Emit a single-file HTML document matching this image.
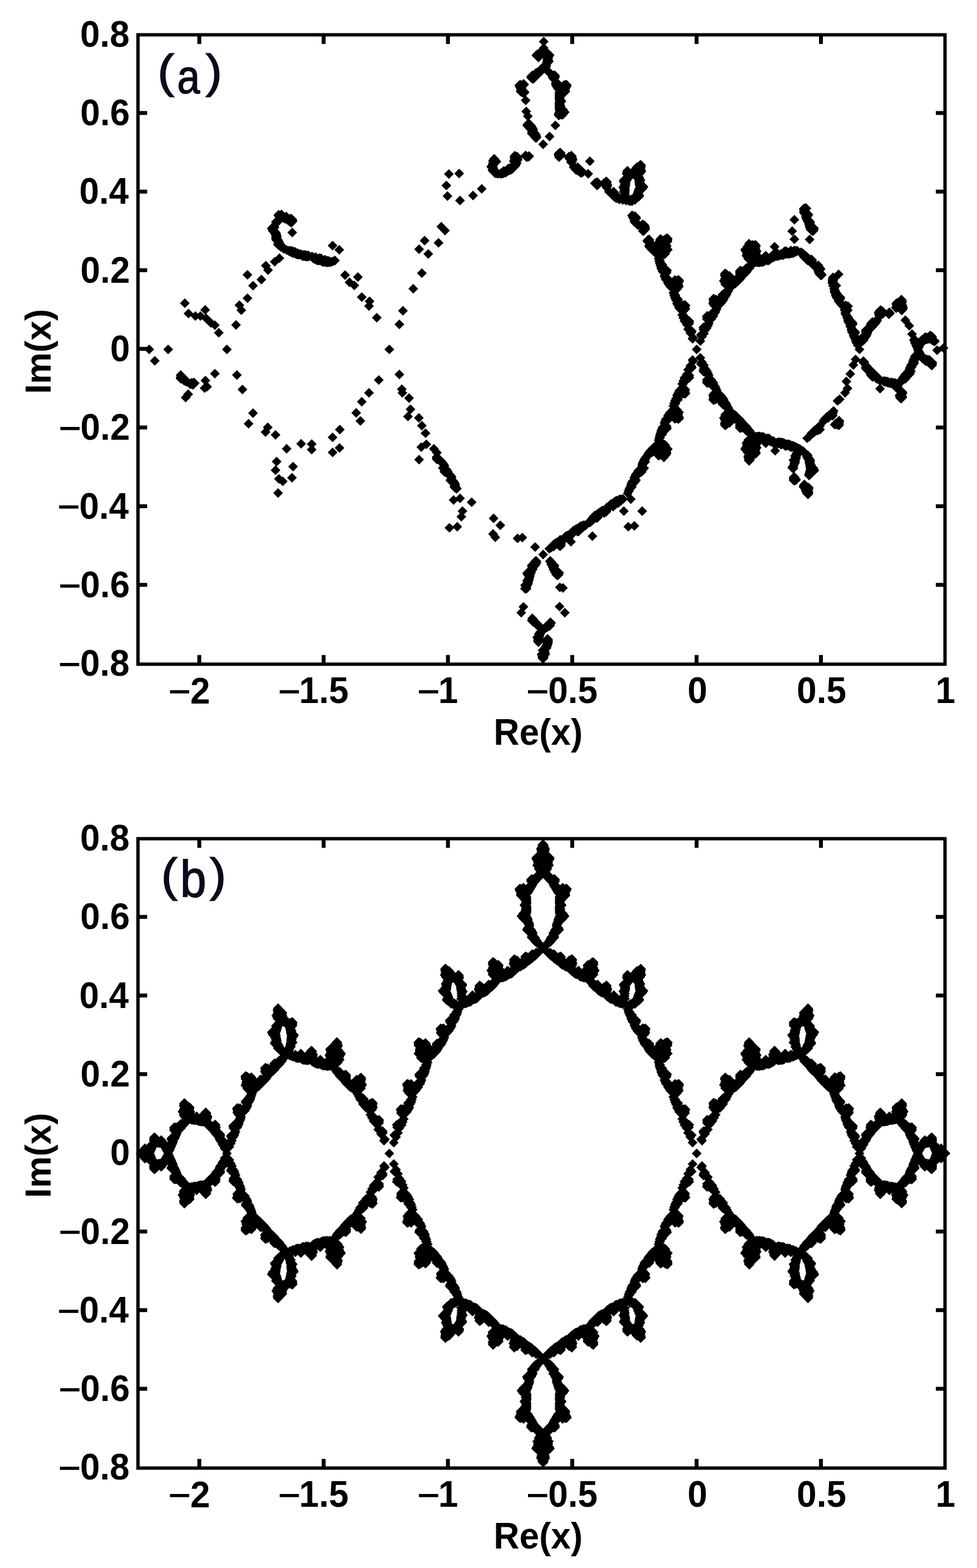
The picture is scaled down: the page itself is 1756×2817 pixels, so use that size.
<!DOCTYPE html>
<html><head><meta charset="utf-8"><style>html,body{margin:0;padding:0;background:#fff;overflow:hidden}svg{display:block}</style></head>
<body><svg width="1756" height="2817" viewBox="0 0 1756 2817">
<style>.t{font-family:"Liberation Sans",Arial,sans-serif;font-weight:bold;font-size:64.0px;fill:#000}.l{font-family:"Liberation Sans",Arial,sans-serif;font-weight:bold;font-size:64.0px;fill:#000}.p{font-family:"Liberation Sans",Arial,sans-serif;font-size:100px;fill:#0a0a1e;stroke:#0a0a1e;stroke-width:2.0px}</style>
<rect width="1756" height="2817" fill="#fff"/>
<path d="M1004.8 216.0L1004.2 216.0L995.5 207.2L996.0 206.8L995.5 206.2L996.0 205.8L995.5 204.8L997.0 202.8L996.5 202.2L998.0 200.8L997.5 200.2L998.5 199.2L997.0 197.8L997.5 197.2L997.0 196.2L997.5 195.8L997.0 195.2L997.5 194.8L997.0 194.2L997.5 193.8L996.5 192.8L997.5 190.8L997.0 189.8L997.5 189.2L997.0 188.8L997.5 188.2L996.5 186.8L997.5 185.2L997.0 184.8L997.5 183.8L997.0 183.2L998.0 182.2L997.5 181.8L998.0 181.2L997.0 180.2L997.5 179.8L997.0 179.2L997.5 178.8L997.0 178.2L997.5 177.8L997.0 177.2L997.5 176.2L997.0 175.8L997.5 175.2L997.0 174.8L997.5 174.2L997.0 173.8L997.5 173.2L997.0 172.2L997.0 170.8L997.5 170.2L997.0 169.2L997.5 168.8L997.0 168.2L997.5 167.8L997.0 167.2L997.5 166.2L997.0 165.8L998.5 163.8L995.5 160.8L995.0 159.2L993.0 157.2L993.5 156.8L991.5 154.8L992.0 154.2L990.5 152.2L991.0 151.8L990.5 150.8L991.0 150.2L990.5 149.8L990.5 148.8L992.0 147.2L986.0 141.2L986.5 140.8L985.0 139.2L985.0 137.2L979.0 131.2L978.8 130.5L960.2 149.0L958.2 150.0L957.8 149.5L957.2 150.0L955.8 149.5L947.0 140.8L946.0 139.2L946.5 138.8L946.5 136.8L955.8 127.5L956.8 127.5L957.2 127.0L958.2 127.5L963.8 122.0L965.2 122.5L974.2 113.5L975.2 114.5L975.5 114.2L974.5 112.8L974.5 111.2L976.0 109.2L975.5 108.8L975.5 105.2L976.5 104.2L976.2 104.0L975.8 104.0L967.8 112.0L956.0 100.2L956.0 98.2L964.8 89.5L965.2 90.0L966.8 88.5L967.2 89.0L969.0 87.2L968.5 86.2L974.0 80.8L974.0 80.2L968.5 74.8L977.2 66.0L986.0 74.8L980.5 80.2L980.5 80.8L986.0 86.2L984.5 87.8L987.2 89.5L996.0 98.2L996.0 100.2L993.0 103.2L994.0 104.8L993.0 105.8L993.5 106.8L993.0 107.8L994.5 109.2L995.0 110.8L990.0 115.8L990.5 116.8L989.5 118.2L990.0 119.8L988.0 121.8L993.8 127.5L994.8 127.0L995.8 127.5L997.2 126.5L1006.0 135.2L1006.0 136.2L1005.5 136.8L1006.0 139.2L1003.5 142.2L1009.2 148.0L1009.8 148.0L1013.2 144.5L1014.8 145.0L1016.2 143.5L1016.8 144.0L1018.8 144.0L1027.5 152.8L1026.5 154.2L1026.5 156.2L1024.0 158.8L1024.5 159.2L1024.5 160.2L1023.0 161.8L1025.0 164.2L1015.8 173.5L1015.2 173.5L1014.0 175.2L1014.5 175.8L1014.0 176.2L1015.0 177.2L1014.5 178.2L1018.0 181.8L1014.5 185.2L1015.0 186.2L1014.0 187.2L1016.0 189.8L1015.0 191.2L1020.5 196.8L1020.5 198.2L1023.5 201.2L1023.5 201.8L1020.0 205.2L1020.0 206.2L1011.2 215.0L1010.2 214.0L1008.8 214.5L1007.2 213.5L1004.8 216.0ZM944.8 189.0L936.0 180.2L941.5 174.8L940.8 174.5L939.8 175.5L937.8 173.5L936.2 173.5L927.5 164.8L927.5 163.2L928.5 162.2L928.0 161.2L928.5 160.8L927.5 159.8L928.0 158.8L925.5 156.2L926.0 155.2L925.0 153.8L925.0 152.8L933.8 144.0L934.8 144.5L935.8 143.5L937.2 145.0L937.8 145.0L940.8 142.0L941.2 142.0L950.0 150.8L950.5 151.8L950.0 152.8L945.5 157.2L945.5 159.2L951.5 165.2L951.0 165.8L951.0 166.8L945.5 172.2L953.5 180.2L944.8 189.0ZM963.8 256.5L963.2 256.0L962.2 256.0L959.5 253.2L953.5 247.2L953.5 246.2L947.5 240.2L947.5 239.2L948.0 238.8L948.0 237.8L947.5 237.2L948.5 235.8L939.0 225.8L940.0 224.8L939.5 224.2L940.0 223.8L940.0 222.8L947.0 215.8L940.0 208.8L942.5 206.2L942.5 205.8L937.0 200.2L945.8 191.5L954.5 200.2L952.0 202.8L952.0 203.2L957.5 208.8L952.0 214.2L963.5 226.2L963.0 226.8L966.0 230.8L965.5 231.2L966.5 232.2L966.0 232.8L967.0 233.8L966.0 235.2L969.5 238.8L970.5 240.8L972.0 242.2L971.0 243.2L973.0 245.2L972.0 246.2L972.5 247.8L963.8 256.5ZM998.2 234.0L989.5 225.2L998.2 216.5L1007.0 225.2L998.2 234.0ZM987.8 254.0L979.0 245.2L987.8 236.5L996.5 245.2L987.8 254.0ZM976.2 268.0L967.5 259.2L976.2 250.5L985.0 259.2L976.2 268.0ZM1057.2 321.0L1050.8 314.5L1046.2 319.0L1045.2 318.0L1043.8 319.0L1036.8 313.5L1035.8 314.5L1025.5 304.2L1025.5 303.2L1022.5 300.2L1024.0 297.8L1017.5 291.2L1019.0 289.2L1014.0 284.2L1015.0 283.2L1014.2 282.5L1013.8 282.5L1004.8 291.0L996.0 282.2L997.0 281.2L997.0 280.8L995.5 279.2L996.0 278.2L995.0 277.2L996.0 276.2L996.0 275.2L1004.8 266.5L1005.8 266.5L1006.8 265.5L1007.2 265.5L1016.5 274.8L1015.5 276.2L1016.8 278.0L1017.2 278.0L1022.8 272.5L1024.2 273.5L1026.8 271.0L1027.2 271.0L1036.0 279.8L1035.5 280.2L1036.5 281.2L1036.0 283.2L1037.0 284.2L1036.5 284.8L1038.0 286.8L1036.0 289.2L1037.0 290.2L1034.5 292.8L1034.5 293.2L1035.8 294.0L1037.8 292.0L1038.2 292.5L1038.8 292.0L1053.8 306.5L1054.2 306.5L1057.2 303.5L1066.0 312.2L1057.2 321.0ZM899.2 321.0L897.2 319.0L896.8 319.0L894.8 321.0L892.8 319.0L891.8 320.0L891.2 319.5L890.2 320.0L888.8 318.5L888.2 318.5L876.5 306.2L878.0 304.2L875.0 300.8L875.0 299.8L874.5 299.2L874.5 298.8L877.5 295.8L877.0 294.2L879.0 291.8L877.5 289.8L877.5 288.8L879.5 286.8L879.0 285.8L887.8 277.0L888.8 277.0L897.5 285.8L897.5 286.8L900.5 289.8L900.5 290.8L895.0 296.2L894.0 298.8L894.0 299.8L894.5 300.2L894.0 300.8L895.0 301.8L895.0 303.2L896.8 305.5L899.2 303.0L899.8 303.5L901.8 301.5L902.2 301.5L905.2 298.5L905.8 298.5L907.2 300.0L914.2 293.5L915.8 295.0L917.5 293.2L917.5 292.8L915.0 290.2L916.0 289.2L915.5 287.8L917.5 285.8L917.5 285.2L916.0 283.8L916.0 282.8L917.0 281.8L916.5 279.8L925.2 271.0L927.8 273.5L929.2 272.5L935.8 279.0L936.2 279.0L944.8 270.5L948.2 274.0L950.8 271.5L959.5 280.2L959.0 280.8L959.5 281.2L950.8 290.0L949.2 289.0L947.2 291.0L946.2 290.0L944.8 289.5L938.2 283.0L937.8 283.0L937.5 283.8L939.0 285.8L938.0 287.2L938.5 288.2L935.5 291.2L937.5 293.2L934.5 296.2L935.5 297.2L923.2 310.0L922.8 310.0L919.8 313.0L919.2 312.5L917.8 314.0L917.2 313.5L916.2 314.5L915.2 313.5L911.8 317.0L911.2 316.5L908.2 319.0L906.8 318.0L903.8 320.5L902.8 319.5L901.8 320.5L900.8 319.5L899.2 321.0ZM1060.2 298.5L1051.5 289.8L1060.2 281.0L1069.0 289.8L1060.2 298.5ZM1136.2 370.0L1134.2 368.5L1132.8 370.0L1132.2 370.0L1130.8 368.5L1129.8 369.0L1127.8 367.0L1127.2 367.0L1125.2 369.0L1121.8 365.5L1119.2 368.0L1115.8 364.5L1113.2 367.0L1109.2 363.5L1107.8 365.0L1104.8 362.0L1104.2 362.5L1086.0 344.8L1086.0 344.2L1087.5 342.8L1081.0 336.2L1082.0 335.2L1081.5 334.8L1081.8 333.5L1073.2 342.0L1060.5 329.2L1069.8 320.0L1070.2 320.5L1071.8 319.5L1072.2 320.0L1073.8 318.5L1080.2 325.0L1080.8 325.0L1085.8 320.0L1086.2 320.5L1089.8 317.0L1099.0 326.2L1099.0 328.8L1098.5 329.2L1098.5 330.2L1100.5 332.2L1100.5 332.8L1099.0 334.8L1099.5 336.2L1097.5 338.2L1098.8 339.5L1102.8 335.5L1112.0 344.8L1111.5 345.2L1114.8 349.0L1115.5 348.2L1112.5 344.8L1114.5 342.8L1113.5 341.2L1114.5 340.2L1112.5 338.2L1112.5 337.2L1111.5 336.2L1114.5 333.2L1114.0 331.8L1115.5 330.2L1113.0 327.2L1112.5 323.8L1120.5 315.8L1118.0 312.2L1118.0 311.2L1119.0 309.8L1119.0 308.8L1118.5 308.2L1119.0 307.8L1119.0 306.8L1127.8 298.0L1133.2 303.5L1133.8 303.5L1136.0 301.2L1136.0 300.2L1144.8 291.5L1146.2 292.0L1149.8 288.5L1151.8 287.5L1160.5 296.2L1160.5 297.8L1160.0 298.2L1160.5 298.8L1160.5 299.8L1159.0 302.2L1160.0 303.8L1159.5 304.8L1161.5 307.8L1159.0 310.2L1159.0 311.2L1155.0 315.2L1155.0 315.8L1157.0 318.2L1157.0 320.2L1159.5 322.8L1159.0 324.8L1158.0 325.8L1158.5 326.8L1158.0 327.2L1159.5 328.8L1159.0 329.2L1165.0 335.2L1165.0 336.2L1163.0 338.2L1163.0 339.2L1155.5 346.8L1155.0 347.8L1157.0 349.8L1157.5 352.8L1148.8 361.5L1147.8 361.5L1141.8 367.5L1139.2 367.0L1136.2 370.0ZM825.2 320.5L816.5 311.8L825.2 303.0L834.0 311.8L825.2 320.5ZM806.8 321.5L798.0 312.8L806.8 304.0L815.5 312.8L806.8 321.5ZM1131.5 351.8L1133.8 350.0L1134.8 350.5L1137.5 348.2L1138.0 347.2L1137.5 346.8L1139.0 344.8L1138.5 343.8L1140.0 342.2L1139.5 341.2L1140.5 339.8L1140.5 338.8L1142.5 336.2L1142.0 335.8L1142.5 335.2L1141.5 334.2L1142.0 333.8L1141.0 332.8L1141.5 332.2L1141.0 331.8L1141.0 328.8L1140.5 328.2L1140.5 325.2L1141.0 324.8L1139.5 322.8L1139.5 321.8L1137.8 321.0L1136.2 321.5L1135.0 322.8L1135.5 323.2L1134.5 324.2L1134.0 325.8L1132.0 327.8L1133.0 328.8L1132.5 329.2L1133.0 329.8L1132.5 330.2L1133.0 330.8L1132.0 331.8L1132.5 332.2L1132.0 332.8L1132.5 333.2L1132.0 334.2L1132.5 334.8L1131.0 336.8L1131.5 337.2L1131.0 338.2L1132.0 339.2L1131.0 340.2L1132.0 341.2L1131.5 341.8L1132.0 342.8L1131.0 343.8L1131.5 344.8L1130.5 345.8L1132.0 347.2L1130.5 348.8L1132.0 350.2L1130.5 351.8L1131.5 351.8ZM802.2 342.0L793.5 333.2L802.2 324.5L811.0 333.2L802.2 342.0ZM865.8 348.0L857.0 339.2L865.8 330.5L874.5 339.2L865.8 348.0ZM850.2 360.0L841.5 351.2L850.2 342.5L859.0 351.2L850.2 360.0ZM804.2 361.0L795.5 352.2L804.2 343.5L813.0 352.2L804.2 361.0ZM826.8 369.0L818.0 360.2L826.8 351.5L835.5 360.2L826.8 369.0ZM1461.8 423.5L1460.8 423.0L1459.8 423.5L1458.8 423.0L1449.5 413.8L1448.5 412.2L1449.0 411.8L1448.0 410.8L1448.0 409.8L1447.0 407.8L1447.5 407.2L1446.5 406.2L1447.0 405.8L1445.5 402.8L1445.5 400.8L1443.0 397.2L1443.0 396.2L1441.5 394.2L1442.0 393.8L1440.0 390.8L1441.0 389.8L1440.0 388.8L1441.0 387.2L1437.0 383.2L1437.0 381.8L1436.0 380.8L1437.0 379.8L1437.0 377.2L1436.0 374.8L1444.8 366.0L1446.8 366.5L1448.2 365.0L1449.2 365.5L1458.0 374.2L1458.0 374.8L1455.0 377.8L1455.0 378.8L1461.5 385.2L1461.5 385.8L1460.5 386.8L1460.5 387.8L1457.5 390.8L1464.5 398.2L1464.0 399.2L1464.5 400.2L1463.5 401.8L1471.5 409.8L1471.0 410.2L1471.5 411.2L1470.0 413.2L1470.5 413.8L1470.5 414.8L1461.8 423.5ZM591.2 480.0L590.2 479.0L588.2 480.0L587.8 479.5L586.8 480.0L584.8 478.5L583.8 478.5L582.8 479.5L581.2 478.5L580.8 479.0L579.2 478.0L578.8 478.5L575.2 475.5L573.8 476.5L573.2 476.0L571.8 476.5L570.2 475.5L569.8 476.0L567.8 475.0L566.2 473.5L565.8 474.0L564.2 473.0L563.8 473.5L557.2 467.5L555.8 469.0L555.2 468.5L554.8 469.0L554.2 468.5L553.2 469.5L552.8 469.0L551.8 469.0L551.2 469.5L550.8 469.0L550.2 469.5L549.8 469.0L549.2 469.5L547.8 468.0L546.8 469.0L546.2 468.5L545.2 469.0L543.8 467.5L543.2 468.0L541.2 467.0L539.2 465.0L537.8 466.0L537.2 465.5L536.8 466.0L536.2 465.5L535.8 466.0L534.2 465.0L533.2 465.5L531.2 464.5L529.2 462.5L528.2 463.5L526.8 462.5L525.8 463.0L523.2 461.0L522.8 461.5L521.2 460.0L520.8 460.5L519.2 459.0L518.8 459.5L516.2 457.0L515.2 458.0L511.8 454.5L510.2 456.0L506.2 452.0L504.8 452.5L500.8 448.5L499.8 448.5L491.0 439.8L491.5 437.8L493.0 436.2L487.5 430.8L488.5 429.8L488.5 429.2L487.0 427.8L488.0 426.2L488.0 424.8L487.5 424.2L487.5 423.2L488.0 422.8L486.0 420.8L486.5 419.8L481.5 414.8L482.0 414.2L482.0 413.2L480.5 411.2L480.0 409.8L488.5 401.2L487.5 398.2L494.5 391.2L494.5 390.2L492.0 387.8L492.0 386.8L491.5 386.2L500.8 377.0L502.8 379.0L503.2 379.0L505.8 376.5L512.2 382.5L514.2 380.5L514.8 380.5L520.2 386.0L522.2 384.0L523.8 385.0L524.2 384.5L534.0 394.2L533.5 394.8L534.0 395.8L533.5 396.8L534.5 397.8L524.2 408.5L523.2 408.5L521.2 406.5L520.8 407.0L517.8 404.0L517.2 404.0L515.8 402.5L515.2 403.0L513.2 401.0L512.8 401.5L512.2 401.0L511.2 401.0L507.8 399.0L507.2 399.0L500.5 406.2L502.0 408.8L499.0 411.8L504.5 418.2L504.0 418.8L504.5 419.2L504.5 420.8L505.5 421.8L505.0 422.2L506.0 424.2L505.5 424.8L506.0 425.2L505.5 425.8L506.0 426.2L505.0 427.2L507.5 430.2L510.0 435.2L509.5 435.8L512.0 438.2L512.0 438.8L514.2 441.0L515.2 440.5L517.8 443.0L518.8 442.0L519.8 443.0L521.2 441.5L523.2 443.5L525.2 442.0L527.8 444.5L529.2 443.5L530.8 445.0L531.2 444.5L533.8 447.0L534.8 446.0L538.2 449.0L539.8 447.5L541.8 449.5L542.2 449.0L543.2 450.0L544.2 449.0L545.8 450.5L546.2 450.5L547.8 449.0L550.8 451.5L552.2 450.0L553.2 451.0L554.2 450.5L555.8 451.5L558.2 454.0L559.8 452.5L560.2 453.0L561.2 452.5L562.2 453.5L563.2 453.5L565.2 455.5L567.2 453.5L567.8 453.5L571.2 457.0L571.8 457.0L573.8 455.0L574.2 455.0L575.8 456.5L577.2 455.5L581.8 460.0L583.8 458.0L584.2 458.5L585.2 458.5L587.8 461.0L589.2 459.5L591.2 461.5L592.2 460.5L594.2 462.5L594.8 462.0L595.8 463.0L597.8 461.0L598.8 462.0L601.8 459.0L610.5 467.8L610.5 468.2L601.8 477.0L600.2 476.0L597.8 478.5L596.8 477.5L594.8 479.5L593.8 478.5L592.8 479.5L592.2 479.0L591.2 480.0ZM1155.8 424.0L1147.0 415.2L1147.0 414.2L1149.0 412.2L1147.8 411.5L1146.2 413.0L1133.0 400.2L1133.5 399.8L1131.5 397.8L1133.0 395.8L1130.5 393.2L1131.0 392.8L1128.5 390.2L1129.5 389.2L1127.5 387.2L1127.5 386.8L1136.2 378.0L1139.2 381.0L1141.2 379.5L1151.5 389.8L1151.0 390.2L1152.0 392.8L1149.0 395.8L1149.0 396.2L1150.8 398.0L1151.2 398.0L1154.8 394.5L1155.2 394.5L1157.2 396.5L1158.2 396.0L1167.0 404.8L1166.5 405.2L1167.5 406.2L1167.0 406.8L1168.0 408.8L1167.5 409.2L1167.5 410.2L1168.5 411.8L1157.8 423.0L1156.8 423.0L1155.8 424.0ZM1427.8 403.5L1419.0 394.8L1427.8 386.0L1436.5 394.8L1427.8 403.5ZM799.8 423.0L784.5 407.2L793.2 398.5L808.5 414.2L799.8 423.0ZM1423.8 424.0L1415.0 415.2L1423.8 406.5L1432.5 415.2L1423.8 424.0ZM525.2 426.5L516.5 417.8L525.2 409.0L534.0 417.8L525.2 426.5ZM1244.8 617.5L1236.0 608.8L1237.5 607.2L1237.0 606.8L1238.5 604.8L1232.0 598.2L1233.5 596.8L1228.0 591.2L1231.0 588.2L1225.5 582.8L1226.5 581.8L1221.5 576.8L1223.0 575.2L1223.0 574.8L1219.5 571.2L1221.0 569.8L1217.5 565.8L1220.5 562.8L1220.5 562.2L1212.0 553.2L1213.0 551.8L1210.0 548.8L1210.5 547.8L1208.0 545.2L1210.0 543.2L1206.5 539.8L1207.5 538.8L1204.5 535.8L1206.0 534.2L1203.0 531.2L1204.5 529.2L1201.5 526.2L1204.5 523.2L1196.0 514.8L1196.5 514.2L1194.0 511.8L1194.5 511.2L1192.0 508.8L1193.0 507.2L1188.0 502.2L1189.0 501.2L1187.0 499.2L1187.5 498.8L1187.5 497.8L1185.5 495.8L1187.5 493.8L1187.5 493.2L1182.0 487.2L1183.0 486.2L1181.0 484.2L1181.5 483.2L1179.5 481.2L1181.0 479.8L1178.5 477.2L1179.5 475.8L1177.0 473.2L1178.5 471.8L1176.0 469.2L1177.5 467.8L1177.5 467.2L1175.0 464.8L1177.0 462.8L1177.0 462.2L1163.5 449.2L1163.5 448.8L1159.5 444.8L1159.5 443.8L1158.0 442.2L1158.5 441.8L1158.0 441.2L1160.0 439.2L1160.0 438.8L1155.0 433.8L1155.5 433.2L1155.0 432.2L1155.5 431.2L1164.8 422.0L1165.8 422.5L1166.8 421.5L1175.5 430.2L1175.5 431.8L1175.0 432.2L1175.5 432.8L1175.0 433.2L1176.0 434.2L1174.0 436.2L1174.2 436.5L1178.0 432.8L1178.5 429.2L1187.2 420.5L1190.8 424.0L1191.8 423.5L1192.8 424.0L1196.2 420.5L1197.2 421.0L1198.8 419.5L1199.8 419.5L1208.5 428.2L1208.5 429.8L1207.5 430.8L1208.0 431.2L1207.5 432.8L1208.5 433.8L1204.0 438.2L1206.5 440.8L1206.5 442.2L1205.5 444.8L1209.0 448.8L1203.5 454.2L1204.0 454.8L1203.5 455.2L1204.0 456.2L1195.2 465.0L1194.2 465.0L1193.8 464.5L1192.5 466.2L1195.0 468.8L1194.0 470.2L1199.0 475.2L1198.0 476.8L1198.8 477.0L1207.5 485.8L1206.0 487.8L1206.5 488.2L1206.0 488.8L1206.5 490.2L1202.5 494.2L1207.8 499.5L1212.8 494.5L1213.2 494.5L1215.2 496.5L1215.8 496.0L1216.2 496.5L1218.2 494.5L1218.8 495.0L1220.2 494.5L1229.0 503.2L1229.0 504.2L1228.5 504.8L1228.5 505.8L1229.0 506.2L1226.5 508.8L1227.5 510.2L1227.0 511.2L1227.5 512.2L1227.0 512.8L1229.0 514.8L1225.0 518.8L1225.5 519.2L1219.5 525.2L1220.0 526.2L1219.5 527.2L1222.5 530.2L1221.5 531.8L1227.0 537.2L1226.0 539.2L1226.5 539.8L1224.0 542.2L1224.2 542.5L1227.2 539.5L1228.2 540.5L1229.2 540.5L1230.2 539.5L1230.8 540.0L1231.8 539.5L1240.5 548.2L1240.0 550.2L1238.5 551.8L1239.5 552.8L1239.0 553.8L1240.0 554.8L1240.0 555.8L1233.5 562.8L1236.0 565.2L1235.5 565.8L1237.8 568.0L1238.8 568.0L1247.5 576.8L1247.0 577.2L1247.5 577.8L1246.0 579.8L1247.5 581.2L1242.5 586.2L1242.8 586.5L1243.2 586.0L1252.0 594.8L1251.0 596.2L1251.5 597.2L1248.5 600.2L1248.5 600.8L1254.5 606.8L1253.0 608.2L1253.5 608.8L1244.8 617.5ZM1427.8 438.5L1419.0 429.8L1427.8 421.0L1436.5 429.8L1427.8 438.5ZM1455.2 439.0L1446.5 430.2L1455.2 421.5L1464.0 430.2L1455.2 439.0ZM763.2 441.0L754.5 432.2L763.2 423.5L772.0 432.2L763.2 441.0ZM788.2 445.0L779.5 436.2L788.2 427.5L797.0 436.2L788.2 445.0ZM1258.8 621.5L1250.0 612.8L1255.5 607.2L1253.0 604.8L1253.5 604.2L1251.0 601.8L1258.0 594.8L1258.0 594.2L1255.5 591.8L1257.0 590.2L1255.5 588.2L1264.2 579.5L1265.8 580.0L1267.0 578.8L1262.0 573.2L1263.0 572.2L1262.5 571.2L1263.0 570.2L1262.0 569.2L1262.5 568.8L1262.0 567.8L1270.8 559.0L1271.8 559.0L1272.8 560.0L1273.8 560.0L1280.0 553.8L1275.0 548.8L1275.0 547.8L1273.0 545.2L1274.5 543.2L1274.0 542.2L1275.0 540.8L1273.5 539.2L1274.0 538.8L1273.5 536.8L1282.2 528.0L1283.8 528.5L1285.8 530.5L1287.2 529.5L1289.8 532.0L1290.2 532.0L1290.5 530.8L1290.0 530.2L1290.0 529.2L1298.8 520.5L1299.8 520.5L1302.0 518.2L1302.0 517.8L1295.0 510.8L1295.0 509.8L1296.0 508.8L1293.0 505.8L1292.5 504.2L1295.0 501.8L1294.5 500.2L1296.0 498.8L1296.0 497.8L1294.0 495.2L1295.0 493.2L1294.5 492.8L1294.5 491.2L1303.2 482.5L1304.8 484.0L1305.8 484.0L1309.8 488.0L1311.2 487.0L1319.8 495.5L1320.2 495.5L1322.0 493.8L1322.0 492.2L1321.0 491.2L1322.0 490.2L1321.5 489.8L1322.0 489.2L1321.5 488.2L1321.5 486.2L1330.2 477.5L1330.8 477.5L1332.2 479.0L1333.2 478.5L1334.8 479.5L1341.2 473.0L1342.2 473.5L1343.5 472.2L1336.5 465.2L1336.5 464.2L1337.0 463.8L1333.0 459.8L1333.5 459.2L1333.5 458.2L1335.0 456.8L1334.0 454.8L1334.0 453.2L1331.5 450.8L1331.5 449.2L1330.5 448.2L1335.0 443.8L1335.0 442.8L1338.5 439.2L1337.5 437.8L1346.2 429.0L1350.2 433.0L1351.8 431.5L1352.2 432.0L1352.8 431.5L1354.8 433.0L1356.2 432.0L1358.2 431.5L1367.0 440.2L1367.0 441.2L1366.5 441.8L1367.0 443.2L1365.0 445.2L1366.5 447.2L1366.0 448.2L1368.5 450.8L1368.5 451.2L1366.5 453.8L1367.0 454.8L1366.0 455.8L1368.8 458.0L1376.2 450.5L1381.8 456.0L1382.2 456.0L1389.0 449.2L1389.0 448.8L1383.5 443.2L1392.2 434.5L1401.0 443.2L1397.5 446.8L1400.8 450.0L1401.2 450.0L1403.8 447.5L1404.8 448.0L1409.8 443.0L1411.8 443.5L1412.8 442.5L1413.2 442.5L1416.8 446.0L1421.2 441.5L1424.2 444.0L1424.8 444.0L1427.2 441.5L1428.8 443.0L1430.8 441.5L1432.2 443.0L1433.2 442.0L1437.8 446.5L1439.8 444.5L1441.8 446.5L1442.2 446.0L1444.8 448.5L1445.2 448.5L1449.2 452.5L1450.2 452.5L1456.2 458.5L1456.8 458.0L1457.2 458.5L1458.8 457.5L1468.0 466.8L1467.5 467.8L1468.0 470.2L1466.5 471.8L1466.8 472.0L1470.8 468.0L1480.0 477.2L1479.0 478.2L1483.0 482.2L1482.5 482.8L1483.5 483.8L1480.0 487.2L1485.5 492.8L1485.5 494.2L1476.8 503.0L1475.8 503.5L1474.8 503.0L1464.5 492.8L1465.0 492.2L1464.0 491.2L1463.0 489.2L1463.5 488.8L1462.5 487.8L1463.0 486.8L1461.5 484.8L1454.0 477.2L1453.8 476.5L1452.2 477.0L1450.8 475.5L1450.2 475.5L1436.0 461.2L1436.5 460.2L1434.8 458.5L1433.2 459.5L1432.8 459.0L1431.2 460.5L1430.8 460.0L1429.2 461.5L1428.8 461.0L1426.2 463.0L1425.8 462.5L1425.2 463.0L1424.8 462.5L1423.8 463.5L1423.2 463.0L1422.2 463.5L1421.2 463.0L1419.8 464.5L1418.8 464.0L1417.8 464.5L1416.2 464.0L1415.2 465.0L1413.8 463.5L1412.2 465.0L1411.2 464.0L1408.2 467.0L1407.8 467.0L1406.2 465.5L1404.8 467.0L1404.2 466.5L1403.2 467.0L1402.2 466.0L1400.2 468.0L1398.8 467.5L1397.8 468.5L1397.2 468.0L1396.2 469.0L1394.8 467.5L1392.2 470.0L1391.2 470.5L1390.2 470.0L1388.8 471.5L1388.2 471.0L1382.8 476.0L1382.2 475.5L1380.8 476.5L1380.2 476.0L1379.8 476.5L1379.2 476.0L1378.8 476.5L1377.2 475.0L1373.2 478.5L1372.8 478.0L1371.2 479.0L1370.8 478.5L1369.2 479.5L1368.2 478.5L1367.2 478.5L1365.2 480.0L1364.8 479.5L1364.2 480.0L1363.2 479.0L1362.8 479.5L1362.2 479.0L1361.2 480.0L1360.2 479.0L1359.8 479.5L1358.8 478.5L1357.8 479.5L1357.2 479.0L1355.5 480.8L1356.0 481.8L1351.0 486.8L1349.5 489.8L1339.5 499.8L1337.5 502.8L1326.8 513.5L1326.2 513.5L1321.8 518.0L1321.2 517.5L1317.5 520.8L1318.0 521.2L1316.5 522.8L1317.0 523.8L1313.5 527.8L1314.5 528.8L1312.0 531.8L1312.5 532.2L1309.0 535.8L1309.5 536.8L1308.0 538.2L1308.5 538.8L1307.0 540.2L1307.5 540.8L1304.0 544.2L1304.5 544.8L1295.5 553.8L1296.5 555.2L1294.5 557.2L1295.0 558.2L1293.0 560.2L1294.0 561.2L1289.5 566.2L1291.0 567.8L1287.0 571.8L1287.5 572.8L1281.0 579.2L1282.5 581.2L1280.0 583.8L1281.0 585.2L1278.0 588.2L1279.0 589.2L1275.5 592.8L1276.0 593.2L1272.0 597.2L1274.0 599.2L1269.5 603.8L1270.5 604.8L1265.0 610.2L1267.5 612.8L1258.8 621.5ZM597.8 450.0L589.0 441.2L597.8 432.5L606.5 441.2L597.8 450.0ZM753.2 456.5L744.5 447.8L753.2 439.0L762.0 447.8L753.2 456.5ZM609.8 457.5L601.0 448.8L609.8 440.0L618.5 448.8L609.8 457.5ZM769.8 465.0L761.0 456.2L769.8 447.5L778.5 456.2L769.8 465.0ZM493.8 479.0L485.0 470.2L493.8 461.5L494.8 462.5L502.2 455.0L511.0 463.8L502.2 472.5L501.2 471.5L493.8 479.0ZM481.8 494.0L473.0 485.2L475.0 483.2L469.0 477.2L477.8 468.5L486.5 477.2L484.5 479.2L490.5 485.2L481.8 494.0ZM758.2 499.5L749.5 490.8L758.2 482.0L767.0 490.8L758.2 499.5ZM1544.8 636.5L1536.0 627.8L1538.0 625.8L1538.0 625.2L1533.0 620.2L1534.0 619.2L1531.0 616.2L1531.5 615.2L1529.5 613.2L1531.0 611.8L1529.0 609.8L1529.5 609.2L1527.5 607.2L1528.0 606.8L1526.5 605.2L1527.0 604.2L1525.5 602.8L1526.5 601.2L1522.5 596.2L1523.5 594.2L1521.5 592.2L1523.0 590.2L1519.5 586.8L1521.0 585.2L1519.5 583.8L1520.0 582.8L1517.0 579.8L1517.5 578.8L1515.5 576.8L1517.0 574.8L1514.5 572.2L1515.0 571.2L1514.0 569.8L1515.0 568.8L1512.0 565.8L1511.5 564.8L1512.0 563.8L1510.5 562.2L1512.5 560.2L1509.5 557.2L1511.0 555.2L1503.5 547.2L1502.5 545.2L1500.0 542.8L1498.5 540.2L1499.5 539.2L1496.0 535.8L1495.5 534.8L1496.0 534.2L1495.0 533.2L1493.5 530.2L1494.5 529.2L1492.5 526.8L1491.5 524.2L1492.0 523.8L1491.0 522.8L1492.5 520.8L1490.5 518.8L1492.0 516.8L1488.5 513.2L1490.0 511.8L1490.0 511.2L1487.5 508.8L1488.5 507.8L1487.5 506.8L1488.5 505.2L1488.0 504.8L1488.5 504.2L1487.5 503.2L1489.0 500.2L1488.5 498.2L1497.2 489.5L1499.2 491.5L1499.8 491.5L1507.2 484.0L1516.0 492.8L1507.2 501.5L1506.8 501.0L1506.0 501.8L1506.5 502.2L1505.5 503.8L1506.0 504.8L1505.0 505.8L1505.5 506.8L1511.5 512.8L1511.5 513.2L1507.0 517.8L1508.0 518.8L1507.5 519.8L1509.5 521.8L1509.5 522.8L1509.0 523.2L1512.5 526.8L1512.5 527.8L1518.5 533.8L1519.0 534.8L1518.5 535.2L1518.5 537.2L1518.0 538.2L1516.0 540.2L1517.0 541.8L1517.2 542.0L1518.8 540.5L1519.8 540.5L1520.2 540.0L1522.8 542.5L1524.2 541.5L1533.0 550.2L1529.5 553.8L1529.5 554.2L1532.0 556.8L1532.0 557.8L1528.0 561.8L1528.5 562.2L1527.5 563.2L1529.5 565.2L1529.5 566.2L1533.0 569.8L1532.5 571.2L1540.5 579.2L1540.0 579.8L1541.0 580.8L1540.5 581.2L1541.0 581.8L1541.0 582.8L1537.5 586.8L1537.5 587.2L1538.5 588.2L1538.0 588.8L1545.5 596.2L1545.0 597.2L1545.0 598.2L1545.5 598.8L1542.5 601.8L1543.8 603.0L1544.2 603.0L1549.0 598.2L1547.5 596.2L1548.5 594.2L1548.0 593.8L1548.0 592.8L1557.0 583.8L1556.5 583.2L1557.0 582.8L1556.5 581.8L1559.0 579.2L1559.0 578.8L1568.2 569.5L1570.2 571.5L1573.0 568.8L1572.5 567.2L1571.0 565.8L1572.0 564.2L1570.5 561.2L1572.0 559.8L1573.0 557.8L1581.8 549.0L1582.8 549.0L1583.2 548.5L1585.2 550.5L1586.2 550.5L1593.2 557.5L1598.2 552.5L1598.8 552.5L1607.5 561.2L1607.5 562.8L1608.0 563.2L1599.2 572.0L1597.8 573.0L1597.2 573.0L1591.8 567.5L1586.8 572.5L1585.8 572.0L1584.0 573.8L1585.0 575.8L1584.0 576.8L1584.0 577.8L1581.5 580.2L1582.0 580.8L1576.0 587.2L1576.0 587.8L1567.0 596.8L1568.0 597.8L1566.0 599.8L1566.5 601.2L1565.0 602.8L1565.5 603.2L1564.0 604.8L1564.5 605.2L1560.0 610.2L1561.0 611.2L1552.2 620.0L1548.5 622.2L1548.5 622.8L1553.5 627.8L1544.8 636.5ZM444.8 502.5L436.0 493.8L444.8 485.0L453.5 493.8L444.8 502.5ZM620.2 503.0L611.5 494.2L620.2 485.5L629.0 494.2L620.2 503.0ZM643.2 506.5L634.5 497.8L643.2 489.0L652.0 497.8L643.2 506.5ZM469.8 511.0L461.0 502.2L469.8 493.5L478.5 502.2L469.8 511.0ZM636.8 521.5L629.8 514.5L628.2 516.0L619.5 507.2L628.2 498.5L635.2 505.5L636.8 504.0L645.5 512.8L636.8 521.5ZM454.8 522.0L446.0 513.2L454.8 504.5L463.5 513.2L454.8 522.0ZM742.8 527.5L734.0 518.8L742.8 510.0L751.5 518.8L742.8 527.5ZM650.2 542.5L641.5 533.8L650.2 525.0L659.0 533.8L650.2 542.5ZM444.8 544.5L436.0 535.8L444.8 527.0L453.5 535.8L444.8 544.5ZM1620.8 566.5L1613.8 559.5L1610.8 562.5L1601.5 553.2L1601.5 552.8L1603.0 551.2L1603.0 550.2L1604.0 548.8L1602.5 546.8L1603.0 546.2L1602.5 544.8L1611.2 536.0L1612.8 536.5L1620.2 529.5L1629.0 538.2L1629.0 539.2L1629.5 539.8L1629.5 543.8L1628.0 545.8L1630.5 548.2L1630.0 550.2L1631.5 551.8L1631.0 552.8L1631.5 554.2L1630.5 555.2L1630.0 557.2L1620.8 566.5ZM663.2 558.5L654.5 549.8L659.0 545.2L659.0 544.8L655.5 541.2L664.2 532.5L673.0 541.2L668.5 545.8L668.5 546.2L672.0 549.8L663.2 558.5ZM332.2 553.5L323.5 544.8L332.2 536.0L341.0 544.8L332.2 553.5ZM433.8 566.0L425.0 557.2L427.5 554.8L427.5 554.2L421.5 548.2L430.2 539.5L439.0 548.2L436.5 550.8L436.5 551.2L442.5 557.2L433.8 566.0ZM386.2 593.0L380.8 587.5L379.2 589.0L363.2 573.5L360.2 576.5L355.8 572.0L351.2 576.5L342.8 568.0L338.8 572.0L330.0 563.2L338.8 554.5L347.2 563.0L351.2 559.0L355.8 563.5L360.2 559.0L367.8 566.5L368.5 565.2L360.0 556.8L368.8 548.0L377.5 556.8L371.0 563.2L371.0 563.8L384.8 577.0L386.2 575.5L395.0 584.2L386.2 593.0ZM724.2 567.0L715.5 558.2L724.2 549.5L733.0 558.2L724.2 567.0ZM677.2 579.5L668.5 570.8L677.2 562.0L686.0 570.8L677.2 579.5ZM1634.2 594.0L1625.5 585.2L1627.0 583.8L1618.5 575.2L1627.2 566.5L1636.0 575.2L1634.5 576.8L1643.0 585.2L1634.2 594.0ZM717.8 591.5L709.0 582.8L717.8 574.0L726.5 582.8L717.8 591.5ZM424.2 592.5L415.5 583.8L424.2 575.0L433.0 583.8L424.2 592.5ZM393.2 606.5L384.5 597.8L393.2 589.0L402.0 597.8L393.2 606.5ZM1620.2 724.5L1618.2 724.0L1609.5 715.2L1609.5 714.2L1609.0 713.8L1609.5 713.2L1609.5 712.2L1608.0 710.8L1608.0 710.2L1612.0 706.2L1603.2 697.5L1602.2 697.5L1599.8 696.0L1598.8 697.0L1597.8 696.0L1596.8 696.0L1596.2 695.5L1595.2 696.0L1593.8 694.5L1592.8 695.0L1592.2 694.5L1590.8 694.5L1589.8 693.5L1589.2 694.0L1588.8 693.5L1588.2 694.0L1584.8 690.5L1584.0 691.8L1590.5 698.2L1581.8 707.0L1573.0 698.2L1580.5 690.8L1579.2 690.5L1577.2 688.5L1575.2 689.0L1570.2 684.0L1568.2 686.0L1559.0 676.8L1559.0 676.2L1556.5 673.8L1557.0 672.8L1556.5 672.2L1557.0 671.8L1548.0 662.8L1548.0 661.8L1548.5 661.2L1547.5 659.2L1549.0 657.2L1543.0 651.2L1543.5 650.8L1543.2 649.0L1539.5 652.8L1542.5 655.8L1533.8 664.5L1525.0 655.8L1532.0 648.8L1529.0 645.8L1537.8 637.0L1546.2 645.5L1551.8 640.0L1562.0 650.2L1561.0 652.2L1566.5 657.8L1566.5 658.2L1586.2 677.5L1586.8 677.5L1588.2 676.0L1588.8 676.5L1589.8 676.5L1590.2 676.0L1591.2 677.0L1591.8 676.5L1592.8 677.5L1593.8 677.0L1594.8 677.5L1595.2 677.0L1597.2 678.0L1599.2 680.0L1600.2 679.0L1601.2 679.0L1601.8 678.5L1602.8 679.0L1603.2 678.5L1604.2 679.5L1604.8 679.0L1605.8 680.0L1606.8 679.5L1607.8 680.0L1608.2 679.5L1609.2 680.5L1609.8 680.0L1611.8 681.5L1612.2 681.0L1612.8 681.5L1614.0 680.2L1614.0 679.2L1615.0 677.8L1618.0 674.2L1618.5 672.8L1626.5 664.2L1626.5 663.2L1627.0 662.8L1626.5 662.2L1627.5 660.8L1627.0 660.2L1629.5 657.2L1629.0 656.8L1629.5 655.2L1633.0 650.8L1632.5 649.8L1633.5 648.2L1633.0 647.8L1634.5 645.8L1634.0 644.8L1636.5 641.8L1636.0 640.8L1636.5 640.2L1636.0 639.8L1643.0 632.2L1642.0 630.8L1643.0 629.8L1641.0 627.8L1642.0 626.2L1639.5 623.8L1640.0 623.2L1638.5 621.8L1639.0 621.2L1638.0 620.2L1638.5 619.2L1636.5 617.2L1637.0 616.8L1636.0 615.8L1636.5 615.2L1636.0 614.8L1636.5 613.8L1634.0 610.8L1634.0 610.2L1637.0 607.2L1637.0 606.8L1630.5 600.2L1639.2 591.5L1648.0 600.2L1645.5 602.8L1650.8 608.0L1656.8 602.0L1657.2 602.5L1661.8 598.0L1663.8 597.0L1665.8 599.0L1667.2 597.5L1668.2 597.5L1671.8 594.0L1673.8 596.0L1674.8 595.5L1683.5 604.2L1683.5 605.2L1684.0 605.8L1683.0 606.8L1689.0 612.8L1689.0 613.2L1680.2 622.0L1679.2 622.0L1677.2 620.0L1676.8 620.5L1675.8 620.0L1671.8 616.5L1671.2 617.0L1667.8 617.0L1667.2 617.5L1663.8 618.0L1659.5 622.2L1660.5 623.2L1657.5 626.8L1658.5 627.8L1657.5 628.8L1659.5 630.8L1661.5 634.8L1663.8 637.5L1665.2 637.5L1667.8 638.5L1671.2 638.5L1684.5 651.2L1683.5 652.8L1683.5 654.8L1684.0 655.2L1683.5 655.8L1683.5 656.8L1674.8 665.5L1665.2 656.5L1663.8 657.5L1658.2 652.5L1657.8 652.5L1652.2 647.0L1650.0 649.2L1651.5 651.2L1651.5 651.8L1650.0 653.2L1650.5 654.2L1647.0 657.8L1647.0 658.8L1647.5 659.2L1645.0 661.8L1643.5 664.2L1646.0 667.2L1643.0 670.2L1644.0 671.8L1636.0 679.8L1636.0 680.8L1627.2 689.5L1626.8 689.0L1625.2 689.0L1621.0 693.8L1621.5 694.2L1621.0 694.8L1630.0 703.8L1630.5 704.8L1630.0 705.2L1630.5 707.2L1628.0 709.8L1630.5 713.2L1630.0 713.8L1630.0 714.8L1620.2 724.5ZM1684.2 638.0L1675.5 629.2L1684.2 620.5L1687.8 624.0L1688.2 624.0L1695.8 616.5L1704.5 625.2L1695.8 634.0L1692.2 630.5L1691.8 630.5L1684.2 638.0ZM268.2 636.5L259.5 627.8L268.2 619.0L277.0 627.8L268.2 636.5ZM302.2 636.5L293.5 627.8L302.2 619.0L311.0 627.8L302.2 636.5ZM407.8 636.5L399.0 627.8L407.8 619.0L416.5 627.8L407.8 636.5ZM699.8 636.5L691.0 627.8L699.8 619.0L708.5 627.8L699.8 636.5ZM1252.2 636.5L1243.5 627.8L1252.2 619.0L1261.0 627.8L1252.2 636.5ZM1427.8 872.0L1427.2 871.5L1426.8 872.0L1418.0 863.2L1418.0 861.2L1418.5 860.8L1418.0 857.2L1425.0 850.2L1425.0 849.8L1424.2 849.5L1415.0 840.2L1416.0 839.2L1416.5 837.8L1419.5 834.8L1419.0 832.8L1420.0 831.8L1419.5 830.8L1420.0 829.8L1417.5 826.8L1422.0 821.8L1420.5 818.8L1423.5 815.8L1423.0 814.2L1425.0 812.2L1424.5 811.8L1426.0 810.2L1425.8 810.0L1424.8 811.0L1424.2 810.5L1422.8 812.0L1421.8 811.0L1420.8 812.0L1417.8 809.0L1417.2 809.5L1415.8 808.0L1415.2 808.0L1413.2 810.0L1411.8 808.5L1410.8 809.5L1406.8 805.5L1404.8 807.0L1403.2 807.0L1400.8 804.5L1399.8 805.5L1398.8 804.5L1397.8 805.0L1396.8 804.0L1396.5 804.2L1402.0 809.8L1393.2 818.5L1384.5 809.8L1389.5 804.8L1389.5 804.2L1386.2 801.0L1384.8 802.0L1382.2 799.5L1381.8 799.5L1376.2 805.0L1368.8 797.5L1366.0 799.8L1367.0 800.8L1366.5 801.8L1368.5 804.2L1368.5 804.8L1366.0 807.2L1366.5 808.2L1365.0 810.2L1367.0 812.2L1366.5 813.2L1367.0 815.2L1358.2 824.0L1357.2 823.5L1356.0 824.8L1356.0 826.8L1355.5 827.8L1346.8 836.5L1346.2 836.5L1337.5 827.8L1337.5 826.2L1337.0 825.8L1338.0 824.2L1336.0 821.2L1337.0 820.2L1336.5 819.2L1338.5 816.2L1335.0 812.8L1335.0 811.8L1330.5 807.2L1331.5 806.2L1331.5 804.8L1334.0 802.2L1334.0 800.8L1335.0 798.8L1333.5 797.2L1333.5 796.2L1333.0 795.8L1337.0 791.8L1336.5 791.2L1336.5 790.2L1343.5 783.2L1342.2 782.0L1341.2 782.5L1334.8 776.0L1333.2 777.0L1332.2 776.5L1330.2 778.0L1321.5 769.2L1321.5 767.2L1322.0 766.8L1321.5 765.8L1322.0 765.2L1321.0 764.2L1322.0 763.2L1322.0 761.8L1320.2 760.0L1319.8 760.0L1311.2 768.5L1309.8 767.5L1305.8 771.5L1304.8 771.5L1303.2 773.0L1294.5 764.2L1294.5 762.8L1295.0 762.2L1294.0 760.2L1296.0 757.8L1296.0 756.8L1294.5 755.2L1295.0 753.8L1292.5 751.2L1292.5 750.8L1296.0 746.8L1295.0 745.8L1295.0 744.8L1302.0 737.8L1302.0 737.2L1299.8 735.0L1298.8 735.0L1290.0 726.2L1290.0 725.2L1290.5 724.8L1290.2 723.5L1289.8 723.5L1287.2 726.0L1285.8 725.0L1283.8 727.0L1282.2 727.5L1273.5 718.8L1273.5 717.8L1274.0 717.2L1273.5 716.2L1275.0 714.8L1274.0 713.2L1274.5 712.2L1273.0 710.2L1275.0 707.8L1275.0 706.8L1280.0 701.8L1273.8 695.5L1272.8 695.5L1271.8 696.5L1270.8 696.5L1262.0 687.8L1262.5 687.2L1262.0 686.2L1263.0 685.2L1262.5 684.2L1263.0 683.2L1262.0 682.2L1267.0 676.8L1265.8 675.5L1264.2 676.0L1255.5 667.2L1257.0 665.2L1255.5 663.8L1258.0 661.2L1258.0 660.8L1251.0 653.8L1253.5 651.2L1253.0 650.8L1255.5 648.2L1250.0 642.8L1258.8 634.0L1267.5 642.8L1265.0 645.2L1270.5 650.8L1269.5 651.8L1274.0 656.2L1272.0 658.2L1276.0 662.2L1275.5 662.8L1279.0 666.2L1278.0 667.2L1281.0 670.2L1280.0 671.8L1282.5 674.2L1281.0 676.2L1287.5 682.8L1287.0 683.8L1291.0 687.8L1289.5 689.2L1294.0 694.2L1293.0 695.2L1295.0 697.2L1294.5 698.2L1296.5 700.2L1295.5 701.8L1304.5 710.8L1304.0 711.2L1307.5 714.8L1307.0 715.2L1308.5 716.8L1308.0 717.2L1309.5 718.8L1309.0 719.8L1312.5 723.2L1312.0 723.8L1314.5 726.8L1313.5 727.8L1317.0 731.8L1316.5 732.8L1318.0 734.2L1317.5 734.8L1321.2 738.0L1321.8 737.5L1337.5 752.8L1339.5 755.8L1349.5 765.8L1351.0 768.8L1356.0 773.8L1355.5 774.8L1357.2 776.5L1357.8 776.0L1358.8 777.0L1359.8 776.0L1360.2 776.5L1361.2 775.5L1362.2 776.5L1362.8 776.0L1363.2 776.5L1364.2 775.5L1364.8 776.0L1365.2 775.5L1367.2 777.0L1368.2 777.0L1369.2 776.0L1370.8 777.0L1371.2 776.5L1372.8 777.5L1373.2 777.0L1377.2 780.5L1378.8 779.0L1379.2 779.5L1379.8 779.0L1380.2 779.5L1380.8 779.0L1382.2 780.0L1382.8 779.5L1388.2 784.5L1388.8 784.0L1389.2 784.5L1390.2 783.5L1394.8 788.0L1396.2 786.5L1397.2 787.0L1398.8 786.0L1399.2 786.5L1400.2 786.5L1400.8 786.0L1401.2 786.5L1401.8 786.0L1402.2 786.5L1402.8 786.0L1404.2 787.5L1405.2 786.5L1405.8 787.0L1406.8 786.5L1408.2 788.0L1408.8 787.5L1410.8 788.5L1412.8 790.5L1414.2 789.5L1414.8 790.0L1415.2 789.5L1415.8 790.0L1416.2 789.5L1417.8 790.5L1418.8 790.0L1422.8 792.5L1423.8 792.0L1424.8 793.0L1425.2 792.5L1425.8 793.0L1426.2 792.5L1428.8 794.5L1429.2 794.0L1430.8 795.5L1431.2 795.0L1432.8 796.5L1433.2 796.0L1435.8 798.5L1437.2 797.5L1440.8 801.0L1441.2 800.5L1442.8 802.0L1444.8 803.0L1451.2 809.5L1451.8 809.0L1460.5 817.8L1459.0 819.2L1462.0 822.2L1461.5 822.8L1464.0 825.2L1463.5 825.8L1465.0 827.8L1464.0 829.2L1464.0 830.8L1464.5 831.2L1464.5 832.2L1464.0 832.8L1466.0 834.8L1466.0 836.2L1470.5 840.8L1470.5 841.8L1470.0 842.2L1472.0 844.8L1472.0 845.8L1454.2 863.0L1445.5 854.2L1445.5 852.8L1447.0 849.8L1446.5 849.2L1447.5 848.2L1447.0 847.8L1447.5 847.2L1448.0 844.8L1449.0 843.8L1448.5 843.2L1449.0 842.2L1448.0 840.8L1448.5 840.2L1447.5 838.2L1448.0 837.8L1447.5 837.2L1448.0 836.8L1447.5 836.2L1448.0 835.8L1447.0 834.2L1447.0 833.2L1446.5 832.8L1447.0 832.2L1446.0 830.2L1446.5 829.8L1446.0 829.2L1447.0 828.2L1444.5 825.2L1442.0 820.2L1442.5 819.2L1440.8 817.5L1439.0 819.2L1439.5 819.8L1438.5 821.2L1439.5 822.2L1438.5 823.2L1439.0 823.8L1438.0 824.8L1438.5 825.2L1437.0 826.8L1437.5 827.2L1437.0 828.2L1438.0 829.2L1437.0 830.2L1437.5 830.8L1436.5 831.8L1437.0 832.8L1434.0 836.2L1435.0 837.2L1433.5 839.2L1434.5 840.8L1434.5 841.8L1428.0 848.2L1436.5 856.8L1436.5 858.2L1439.0 860.8L1439.0 862.8L1430.2 871.5L1428.8 871.0L1427.8 872.0ZM987.2 994.5L978.5 985.8L996.2 968.5L996.8 969.0L998.8 967.0L999.2 967.5L1001.2 965.5L1001.8 966.0L1006.8 961.0L1008.8 962.5L1017.2 954.5L1018.2 955.0L1019.8 953.5L1020.8 954.0L1030.8 944.5L1031.8 945.0L1034.2 942.5L1035.2 942.5L1036.2 941.5L1036.8 942.0L1043.8 936.5L1045.2 937.5L1048.2 935.0L1049.2 936.0L1050.2 935.0L1051.2 936.0L1052.8 934.5L1053.2 935.0L1054.5 933.8L1054.5 932.8L1058.0 929.2L1057.5 928.8L1067.8 918.5L1069.2 917.5L1070.2 918.0L1075.2 913.5L1075.8 914.0L1078.8 911.0L1079.2 911.5L1081.8 909.0L1082.2 909.5L1083.2 908.5L1084.2 909.5L1091.2 902.5L1091.8 903.0L1097.2 897.5L1098.2 897.5L1099.2 896.5L1100.2 897.0L1104.2 893.0L1104.8 893.5L1107.8 890.5L1109.2 892.0L1113.2 888.5L1114.2 889.5L1115.8 888.5L1117.2 889.5L1119.2 887.5L1126.8 895.0L1127.5 894.2L1119.5 886.2L1122.5 883.2L1121.0 881.8L1123.5 879.2L1122.5 877.8L1125.0 875.2L1124.5 874.2L1127.0 871.8L1125.5 870.2L1127.5 868.2L1127.0 867.2L1128.5 865.8L1128.0 864.8L1133.0 859.8L1131.5 857.8L1133.5 855.8L1133.0 855.2L1134.5 853.8L1134.0 852.8L1139.0 846.8L1138.5 845.8L1146.5 837.8L1145.5 836.2L1147.0 834.2L1146.0 833.2L1147.5 831.8L1147.0 830.2L1149.0 828.2L1148.5 827.8L1150.5 825.8L1149.5 824.8L1153.0 821.2L1152.5 820.8L1157.0 816.2L1156.5 815.2L1159.5 811.8L1159.5 810.8L1163.5 806.8L1163.5 806.2L1177.0 793.2L1177.0 792.8L1175.0 790.8L1177.5 788.2L1177.5 787.8L1176.0 786.2L1178.5 783.8L1177.0 782.2L1179.5 779.8L1178.5 778.2L1181.0 775.8L1179.5 774.2L1181.5 772.2L1181.0 771.2L1183.0 769.2L1182.0 768.2L1187.5 762.2L1187.5 761.8L1185.5 759.8L1187.5 757.8L1187.5 756.8L1187.0 756.2L1189.0 754.2L1188.0 753.2L1193.0 748.2L1192.0 746.8L1194.5 744.2L1194.0 743.8L1196.5 741.2L1196.0 740.8L1204.5 732.2L1201.5 729.2L1204.5 726.2L1203.0 724.2L1206.0 721.2L1204.5 719.8L1207.5 716.8L1206.5 715.8L1210.0 712.2L1208.0 710.2L1210.5 707.8L1210.0 706.8L1213.0 703.8L1212.0 702.2L1220.5 693.2L1220.5 692.8L1217.5 689.8L1221.0 685.8L1219.5 684.2L1223.0 680.8L1221.5 678.8L1226.5 673.8L1225.5 672.8L1231.0 667.2L1228.0 664.2L1233.5 658.8L1232.0 657.2L1238.5 650.8L1237.0 648.8L1237.5 648.2L1236.0 646.8L1244.8 638.0L1253.5 646.8L1253.0 647.2L1254.5 648.8L1248.5 654.8L1248.5 655.2L1251.5 658.2L1251.0 659.2L1252.0 660.8L1243.2 669.5L1242.8 669.0L1242.5 669.2L1247.5 674.2L1246.0 675.8L1247.5 677.8L1247.0 678.2L1247.5 678.8L1238.8 687.5L1237.8 687.5L1235.8 689.5L1235.5 689.8L1236.0 690.2L1233.5 692.8L1240.0 699.8L1240.0 700.8L1239.0 701.8L1239.5 702.8L1238.5 703.8L1240.0 705.2L1240.5 707.2L1231.8 716.0L1230.8 715.5L1230.2 716.0L1229.2 715.0L1228.2 715.0L1227.2 716.0L1224.2 713.0L1224.0 713.2L1226.5 715.8L1226.0 716.2L1227.0 718.2L1221.5 723.8L1222.5 725.2L1219.5 728.2L1220.0 729.2L1219.5 730.2L1225.5 736.2L1225.0 736.8L1229.0 740.8L1227.0 742.8L1227.5 743.2L1227.0 743.8L1227.5 745.2L1226.5 746.8L1229.0 749.2L1228.5 749.8L1229.0 752.2L1220.2 761.0L1219.2 760.5L1218.2 761.0L1216.2 759.0L1215.8 759.5L1215.2 759.0L1213.2 761.0L1212.8 761.0L1207.8 756.0L1202.5 761.2L1206.5 765.2L1206.0 766.2L1206.5 767.2L1206.0 767.8L1207.5 769.8L1198.8 778.5L1198.0 778.8L1199.0 780.2L1194.0 785.2L1195.0 786.8L1192.5 789.2L1193.8 791.0L1194.2 790.5L1195.2 790.5L1204.0 799.2L1203.5 800.2L1204.0 800.8L1203.5 801.2L1209.0 806.8L1205.5 810.8L1206.5 813.2L1206.5 814.8L1205.5 815.8L1205.0 817.8L1201.5 821.2L1202.0 821.8L1193.2 830.5L1187.2 824.5L1185.2 826.5L1184.2 827.0L1183.8 826.5L1183.2 827.0L1174.8 818.5L1171.8 821.5L1170.8 821.0L1168.5 823.2L1169.0 824.2L1166.5 826.8L1167.5 828.2L1168.0 830.2L1162.5 835.8L1163.0 836.2L1162.5 837.2L1166.5 841.2L1161.5 846.2L1161.5 847.2L1162.0 847.8L1153.2 856.5L1152.2 856.0L1149.0 859.2L1149.0 859.8L1151.0 861.8L1151.5 863.2L1149.0 865.8L1149.5 866.2L1143.0 872.8L1144.0 874.2L1143.5 874.8L1144.0 875.2L1138.5 880.8L1139.5 881.8L1136.0 885.2L1137.0 886.2L1134.5 888.8L1142.5 896.8L1133.8 905.5L1126.8 898.5L1116.2 908.5L1115.8 908.0L1111.2 912.5L1109.8 911.5L1101.8 919.0L1098.8 916.0L1098.0 916.8L1098.5 917.8L1098.0 918.8L1098.5 919.2L1089.8 928.0L1088.8 927.5L1085.8 930.5L1083.2 928.0L1082.8 928.0L1082.5 929.2L1083.0 929.8L1074.2 938.5L1073.2 939.0L1072.8 938.5L1072.2 939.0L1070.8 938.0L1066.2 942.5L1065.8 942.5L1060.2 947.5L1058.8 946.5L1052.8 952.5L1052.2 952.0L1046.2 957.5L1045.8 957.5L1039.8 963.5L1039.2 963.0L1038.8 963.5L1038.2 963.0L1037.8 963.5L1035.8 961.5L1035.2 961.5L1029.5 967.8L1035.0 973.2L1026.2 982.0L1018.2 974.0L1017.8 974.0L1016.0 975.8L1017.0 976.8L1016.5 978.2L1015.5 979.2L1016.5 980.8L1007.2 990.0L1005.8 989.0L1004.8 989.0L1000.8 985.0L995.2 990.5L993.8 989.5L990.8 992.5L989.8 992.0L987.2 994.5ZM278.2 657.0L269.5 648.2L278.2 639.5L287.0 648.2L278.2 657.0ZM386.2 680.0L377.5 671.2L386.2 662.5L395.0 671.2L386.2 680.0ZM1528.2 680.5L1519.5 671.8L1528.2 663.0L1537.0 671.8L1528.2 680.5ZM717.8 681.5L709.0 672.8L717.8 664.0L726.5 672.8L717.8 681.5ZM347.2 700.0L346.8 700.0L344.8 698.0L343.2 699.0L341.8 698.0L341.2 698.5L336.2 693.5L334.8 694.5L331.8 692.0L330.8 692.5L326.8 688.5L326.2 689.0L324.8 689.0L316.0 680.2L316.5 679.2L316.0 677.8L317.5 676.2L316.0 673.8L324.8 665.0L339.5 679.8L340.2 681.5L342.2 680.0L342.8 680.5L344.2 679.5L346.8 680.0L348.8 678.5L358.5 688.2L358.5 688.8L347.2 700.0ZM425.8 682.5L417.0 673.8L425.8 665.0L434.5 673.8L425.8 682.5ZM680.8 691.5L672.0 682.8L680.8 674.0L689.5 682.8L680.8 691.5ZM367.8 706.0L359.0 697.2L366.5 689.8L360.5 683.8L369.2 675.0L378.0 683.8L374.0 687.8L381.0 694.8L372.2 703.5L371.2 702.5L367.8 706.0ZM1518.8 714.5L1510.0 705.8L1516.0 699.8L1514.5 697.8L1519.5 692.8L1519.5 692.2L1512.5 685.2L1521.2 676.5L1530.0 685.2L1525.0 690.2L1525.0 690.8L1532.0 697.8L1526.0 703.8L1527.5 705.8L1518.8 714.5ZM723.2 714.5L714.5 705.8L717.0 703.2L717.0 702.8L713.5 699.2L722.2 690.5L731.0 699.2L728.5 701.8L728.5 702.2L732.0 705.8L723.2 714.5ZM435.8 708.5L427.0 699.8L435.8 691.0L444.5 699.8L435.8 708.5ZM663.2 714.5L654.5 705.8L663.2 697.0L672.0 705.8L663.2 714.5ZM333.8 723.0L325.0 714.2L330.0 709.2L329.5 708.2L338.2 699.5L347.0 708.2L342.0 713.2L342.5 714.2L333.8 723.0ZM735.2 724.0L726.5 715.2L735.2 706.5L744.0 715.2L735.2 724.0ZM1505.2 729.0L1496.5 720.2L1505.2 711.5L1505.8 712.0L1509.2 708.5L1518.0 717.2L1509.2 726.0L1508.8 725.5L1505.2 729.0ZM650.2 730.5L641.5 721.8L650.2 713.0L659.0 721.8L650.2 730.5ZM733.2 757.0L724.5 748.2L733.0 739.8L733.0 739.2L729.0 735.2L737.8 726.5L746.5 735.2L738.0 743.8L738.0 744.2L742.0 748.2L733.2 757.0ZM1450.8 796.0L1442.0 787.2L1449.5 779.8L1451.0 777.2L1464.2 764.0L1464.8 764.5L1471.8 757.5L1472.2 758.0L1473.0 757.2L1471.5 755.8L1473.5 753.8L1475.5 750.8L1486.2 740.0L1486.8 740.5L1498.2 729.5L1507.0 738.2L1504.5 740.8L1506.0 742.2L1503.5 744.8L1505.5 746.8L1496.8 755.5L1494.2 754.0L1488.8 759.5L1486.8 759.0L1481.8 764.0L1481.2 763.5L1481.0 763.8L1482.5 765.2L1479.5 768.2L1482.5 771.8L1473.8 780.5L1472.2 779.5L1469.2 782.5L1467.8 781.0L1463.2 785.5L1461.8 786.0L1454.8 793.0L1453.2 793.5L1450.8 796.0ZM640.2 750.5L631.5 741.8L640.2 733.0L649.0 741.8L640.2 750.5ZM454.8 751.0L446.0 742.2L454.8 733.5L463.5 742.2L454.8 751.0ZM752.8 759.5L744.0 750.8L752.8 742.0L761.5 750.8L752.8 759.5ZM1507.8 773.0L1505.2 770.5L1504.2 771.5L1503.2 770.5L1501.8 770.0L1500.2 771.5L1491.5 762.8L1502.2 752.0L1502.8 752.5L1508.2 747.0L1517.0 755.8L1517.0 757.2L1516.5 757.8L1517.0 758.2L1516.0 759.8L1516.5 760.2L1516.0 760.8L1516.5 764.2L1507.8 773.0ZM647.8 765.0L639.0 756.2L647.8 747.5L656.5 756.2L647.8 765.0ZM446.8 770.0L438.0 761.2L446.8 752.5L455.5 761.2L446.8 770.0ZM758.2 773.5L749.5 764.8L758.2 756.0L767.0 764.8L758.2 773.5ZM477.2 785.0L468.5 776.2L474.5 770.2L474.5 769.8L472.5 767.8L481.2 759.0L490.0 767.8L484.0 773.8L484.0 774.2L486.0 776.2L477.2 785.0ZM610.8 780.5L602.0 771.8L610.8 763.0L619.5 771.8L610.8 780.5ZM764.8 787.0L756.0 778.2L764.8 769.5L773.5 778.2L764.8 787.0ZM495.2 790.0L486.5 781.2L495.2 772.5L504.0 781.2L495.2 790.0ZM597.8 794.5L589.0 785.8L597.8 777.0L606.5 785.8L597.8 794.5ZM541.2 806.0L532.5 797.2L541.2 788.5L550.0 797.2L541.2 806.0ZM560.2 816.5L551.5 807.8L556.5 802.8L551.5 797.8L560.2 789.0L569.0 797.8L564.0 802.8L569.0 807.8L560.2 816.5ZM757.2 812.0L748.5 803.2L757.2 794.5L759.2 796.5L766.2 789.5L775.0 798.2L766.2 807.0L764.2 805.0L757.2 812.0ZM610.2 813.5L601.5 804.8L610.2 796.0L619.0 804.8L610.2 813.5ZM515.2 815.0L506.5 806.2L515.2 797.5L524.0 806.2L515.2 815.0ZM820.8 887.0L818.8 885.0L817.8 885.0L809.0 876.2L808.0 874.2L809.5 872.2L800.5 862.8L803.5 859.8L803.5 859.2L800.2 856.0L799.2 856.0L798.8 856.5L790.0 847.8L791.5 845.2L787.5 841.2L787.5 840.2L790.5 837.2L789.5 835.8L786.8 833.0L785.2 834.0L776.5 825.2L776.5 823.8L777.0 823.2L776.5 822.8L777.0 822.2L776.0 821.2L780.0 817.2L780.0 816.8L776.5 813.2L777.0 812.2L771.0 806.2L779.8 797.5L788.5 806.2L788.0 807.2L794.0 813.2L790.5 816.8L790.5 817.2L803.0 829.8L803.0 830.8L805.5 833.2L805.5 834.2L807.5 836.2L806.0 838.2L811.5 843.8L811.0 844.8L813.5 847.2L813.0 848.2L819.5 855.2L819.0 856.2L820.5 857.8L819.0 859.2L819.0 859.8L824.0 864.8L823.5 865.2L825.5 867.2L825.0 868.2L827.0 870.2L825.5 872.2L827.5 874.2L827.0 874.8L830.0 877.8L820.8 887.0ZM597.8 821.5L589.0 812.8L597.8 804.0L606.5 812.8L597.8 821.5ZM753.2 834.5L744.5 825.8L753.2 817.0L762.0 825.8L753.2 834.5ZM495.2 853.5L486.5 844.8L495.0 836.2L495.0 835.8L488.5 829.2L497.2 820.5L506.0 829.2L497.5 837.8L497.5 838.2L504.0 844.8L495.2 853.5ZM526.8 847.0L518.0 838.2L526.8 829.5L535.5 838.2L526.8 847.0ZM524.8 867.0L516.0 858.2L524.8 849.5L533.5 858.2L524.8 867.0ZM508.2 873.5L502.8 868.0L501.2 869.0L492.5 860.2L501.2 851.5L506.8 857.0L508.2 856.0L517.0 864.8L508.2 873.5ZM1452.2 897.0L1443.0 887.8L1441.5 885.8L1441.5 883.8L1439.5 881.8L1440.0 879.8L1435.5 874.8L1437.0 872.2L1436.5 871.8L1436.5 870.8L1445.2 862.0L1446.2 862.0L1452.2 868.0L1453.2 867.0L1462.0 875.8L1462.0 877.2L1461.5 877.8L1462.0 878.8L1460.0 881.2L1462.0 883.8L1461.0 885.8L1461.5 887.2L1461.0 888.2L1452.2 897.0ZM499.8 894.5L491.0 885.8L499.8 877.0L508.5 885.8L499.8 894.5ZM815.2 907.0L806.5 898.2L815.2 889.5L819.2 893.5L819.8 893.5L826.8 886.5L835.5 895.2L826.8 904.0L822.8 900.0L822.2 900.0L815.2 907.0ZM847.8 911.0L839.0 902.2L847.8 893.5L856.5 902.2L847.8 911.0ZM829.2 937.0L820.5 928.2L826.5 922.2L822.5 918.2L831.2 909.5L840.0 918.2L834.0 924.2L838.0 928.2L829.2 937.0ZM1121.2 927.0L1112.5 918.2L1121.2 909.5L1130.0 918.2L1121.2 927.0ZM1154.2 927.0L1145.5 918.2L1154.2 909.5L1163.0 918.2L1154.2 927.0ZM887.2 940.0L878.5 931.2L887.2 922.5L896.0 931.2L887.2 940.0ZM899.2 952.5L890.5 943.8L899.2 935.0L908.0 943.8L899.2 952.5ZM1129.2 955.0L1120.5 946.2L1129.2 937.5L1133.8 942.0L1134.2 942.0L1140.2 936.0L1149.0 944.8L1140.2 953.5L1135.8 949.0L1135.2 949.0L1129.2 955.0ZM807.8 957.0L799.0 948.2L807.8 939.5L813.8 945.5L821.8 937.5L830.5 946.2L821.8 955.0L815.8 949.0L807.8 957.0ZM890.2 974.0L881.5 965.2L882.5 964.2L877.5 959.2L886.2 950.5L895.0 959.2L894.0 960.2L899.0 965.2L890.2 974.0ZM1064.8 972.0L1056.0 963.2L1064.8 954.5L1073.5 963.2L1064.8 972.0ZM930.2 976.0L921.5 967.2L930.2 958.5L933.8 962.0L938.8 957.0L947.5 965.8L938.8 974.5L935.2 971.0L930.2 976.0ZM961.8 991.5L953.0 982.8L961.8 974.0L970.5 982.8L961.8 991.5ZM976.2 1005.0L967.5 996.2L976.2 987.5L985.0 996.2L976.2 1005.0ZM946.2 1066.5L945.2 1065.5L943.8 1066.5L935.0 1057.8L935.0 1057.2L937.5 1054.8L935.0 1051.2L940.5 1045.8L939.0 1044.2L939.5 1043.8L939.0 1042.8L942.0 1039.8L941.5 1038.8L943.0 1037.2L942.5 1036.2L943.0 1035.8L940.0 1032.8L940.0 1031.8L939.5 1031.2L940.0 1030.8L939.0 1029.8L939.5 1028.8L948.5 1019.8L947.5 1018.2L948.0 1017.8L948.0 1016.8L947.0 1015.8L953.5 1009.2L953.5 1008.2L962.2 999.5L963.2 999.5L963.8 999.0L972.5 1007.8L972.0 1009.2L973.0 1010.2L971.0 1012.2L972.0 1013.2L970.5 1014.8L969.5 1016.8L965.0 1021.2L966.0 1022.8L962.5 1027.2L963.0 1028.2L962.0 1029.2L962.5 1030.2L960.0 1033.2L961.0 1034.8L960.0 1035.8L960.5 1036.8L959.0 1038.2L959.5 1039.2L958.5 1040.2L959.5 1041.8L957.5 1044.8L958.0 1045.8L957.0 1047.2L957.5 1048.2L956.0 1050.2L956.5 1050.8L955.0 1052.8L955.5 1053.2L954.0 1054.8L954.5 1055.2L953.5 1056.2L955.0 1057.8L946.2 1066.5ZM1002.2 1042.0L1001.8 1041.5L1001.2 1042.0L999.8 1041.0L991.0 1032.2L992.0 1031.2L989.0 1028.2L989.5 1027.2L986.0 1022.8L987.0 1021.2L984.5 1018.8L985.5 1017.8L982.0 1014.2L983.5 1012.8L980.5 1009.8L981.0 1009.2L980.0 1008.2L980.0 1007.8L988.8 999.0L989.8 999.5L998.5 1008.2L998.5 1009.2L1005.0 1015.8L1004.0 1017.8L1004.5 1018.2L1003.5 1019.8L1003.8 1020.0L1004.2 1019.5L1013.5 1028.8L1012.0 1031.8L1012.5 1032.8L1003.8 1041.5L1002.8 1041.5L1002.2 1042.0ZM1011.8 1065.0L1008.8 1062.0L1008.2 1062.0L1006.2 1064.0L997.5 1055.2L1006.2 1046.5L1009.2 1049.5L1009.8 1049.5L1011.8 1047.5L1020.5 1056.2L1011.8 1065.0ZM1005.8 1098.5L997.0 1089.8L1005.8 1081.0L1014.5 1089.8L1005.8 1098.5ZM936.8 1109.5L928.0 1100.8L935.0 1093.8L935.0 1093.2L932.0 1090.2L940.8 1081.5L949.5 1090.2L942.5 1097.2L942.5 1097.8L945.5 1100.8L936.8 1109.5ZM1015.2 1109.5L1006.5 1100.8L1015.2 1092.0L1024.0 1100.8L1015.2 1109.5ZM976.2 1192.0L975.8 1192.0L967.0 1183.2L967.0 1181.8L966.0 1180.8L967.0 1178.8L965.0 1176.2L965.0 1175.2L969.0 1171.2L969.0 1170.8L966.5 1168.2L972.5 1162.2L973.0 1160.2L974.0 1159.2L974.5 1157.8L976.0 1156.2L976.0 1155.2L975.2 1155.0L967.8 1162.5L958.5 1153.2L959.0 1151.8L958.0 1150.8L959.0 1149.8L959.0 1147.8L957.5 1146.2L957.0 1144.8L961.0 1140.8L960.0 1139.8L960.0 1138.8L962.5 1136.2L962.0 1135.8L965.5 1132.2L965.5 1131.8L958.8 1125.5L958.2 1126.0L947.0 1114.8L949.0 1112.8L948.0 1110.8L956.8 1102.0L966.0 1111.2L966.5 1112.8L975.8 1122.0L976.2 1122.0L988.8 1109.5L989.8 1109.5L999.0 1118.8L999.0 1119.2L996.5 1121.8L997.0 1122.2L997.0 1124.2L988.2 1133.0L986.2 1133.0L983.8 1135.5L982.2 1135.5L980.0 1137.2L979.5 1138.8L978.0 1140.2L978.5 1140.8L978.0 1141.2L978.5 1141.8L977.5 1143.2L977.5 1144.2L976.5 1145.2L976.8 1146.5L984.2 1139.0L993.5 1148.2L993.0 1149.8L994.0 1150.8L993.0 1151.8L993.5 1152.8L993.0 1153.8L993.5 1154.8L993.0 1155.2L993.5 1155.8L992.5 1157.2L992.5 1158.2L991.5 1159.2L992.0 1160.2L990.5 1161.8L991.0 1164.2L986.5 1168.8L987.0 1170.8L988.0 1171.8L987.5 1172.2L987.5 1173.8L988.5 1175.8L985.5 1178.8L985.5 1180.2L986.0 1180.8L985.0 1181.8L985.0 1183.2L976.2 1192.0Z" fill="#000"/>
<path d="M1244.8 2061.5L1236.0 2052.8L1239.0 2049.8L1232.0 2042.8L1233.5 2040.8L1228.0 2035.2L1231.0 2032.2L1225.5 2026.8L1226.0 2025.8L1221.5 2021.2L1223.0 2019.8L1223.0 2019.2L1219.5 2015.8L1221.0 2013.8L1217.5 2010.2L1221.0 2006.8L1212.0 1997.2L1213.0 1996.2L1210.0 1993.2L1210.5 1992.2L1208.0 1989.8L1210.0 1987.8L1206.5 1984.2L1207.5 1983.2L1204.5 1980.2L1206.0 1978.8L1203.0 1975.8L1204.5 1974.2L1204.5 1973.8L1201.5 1970.8L1204.5 1967.8L1196.0 1959.2L1196.5 1958.2L1192.0 1953.2L1193.0 1951.8L1188.0 1946.8L1189.0 1945.2L1187.0 1943.2L1187.5 1942.2L1185.5 1940.2L1187.5 1938.2L1187.5 1937.8L1182.0 1931.8L1183.0 1930.8L1181.0 1928.8L1181.5 1927.8L1179.5 1925.8L1181.0 1923.8L1178.5 1921.2L1179.5 1920.2L1177.0 1917.8L1178.5 1916.2L1176.0 1913.8L1178.0 1911.8L1175.0 1908.8L1177.0 1906.8L1177.0 1906.2L1172.8 1902.0L1172.2 1902.5L1159.5 1889.2L1160.0 1888.8L1158.0 1886.8L1158.5 1886.2L1156.5 1884.2L1157.0 1883.2L1152.5 1878.8L1152.5 1878.2L1149.5 1874.8L1150.5 1873.8L1147.0 1869.8L1148.0 1868.8L1146.0 1866.8L1147.0 1865.8L1145.0 1863.8L1146.5 1862.2L1137.0 1852.2L1137.5 1851.2L1134.0 1847.2L1134.5 1846.2L1133.0 1844.8L1133.5 1844.2L1131.5 1842.2L1133.0 1840.2L1128.0 1835.2L1129.0 1834.2L1127.0 1832.2L1127.5 1831.8L1125.5 1829.8L1127.0 1828.2L1124.5 1825.8L1125.0 1824.8L1122.5 1822.2L1123.5 1820.8L1121.0 1818.2L1122.5 1816.2L1119.5 1813.2L1122.0 1810.8L1122.0 1810.2L1121.8 1810.0L1119.2 1812.5L1117.2 1810.5L1115.8 1811.5L1114.2 1810.0L1113.2 1811.0L1109.2 1807.5L1107.8 1809.0L1104.2 1806.5L1100.8 1803.0L1099.2 1804.0L1097.8 1802.5L1097.2 1803.0L1096.2 1802.0L1095.8 1802.5L1092.2 1799.0L1091.8 1799.5L1083.8 1791.5L1083.2 1792.0L1082.2 1791.0L1081.2 1791.5L1080.2 1790.5L1079.8 1791.0L1077.2 1788.5L1076.2 1789.0L1069.8 1782.5L1066.2 1780.0L1057.5 1771.2L1058.0 1770.2L1053.2 1765.0L1052.8 1765.5L1051.2 1764.0L1050.2 1765.0L1049.2 1764.0L1048.2 1765.0L1045.2 1762.5L1043.8 1763.5L1040.8 1761.5L1037.2 1758.0L1035.8 1759.0L1033.2 1757.0L1032.8 1757.5L1029.2 1754.0L1028.8 1754.5L1018.2 1744.5L1017.2 1745.5L1015.8 1744.0L1015.2 1744.5L1011.8 1741.5L1010.8 1742.0L1006.8 1739.0L1001.8 1734.0L1001.2 1734.5L996.8 1730.5L996.2 1731.0L990.8 1725.5L990.2 1726.0L976.8 1712.5L975.8 1712.0L961.8 1726.0L961.2 1725.5L955.8 1731.0L955.2 1730.5L950.8 1734.5L950.2 1734.0L945.2 1739.0L942.8 1740.5L941.2 1742.0L940.2 1741.5L936.8 1744.5L936.2 1744.0L934.8 1745.5L933.8 1744.5L919.8 1757.5L918.8 1757.0L916.2 1759.0L915.2 1758.0L911.8 1761.5L911.2 1761.0L908.2 1763.5L906.8 1762.5L903.8 1765.0L902.8 1764.0L901.8 1765.0L900.8 1764.0L899.2 1765.5L898.8 1765.0L897.5 1766.2L898.0 1766.8L894.0 1770.8L894.5 1771.2L885.8 1780.0L882.2 1782.5L875.8 1789.0L875.2 1788.5L872.2 1791.0L871.8 1790.5L870.8 1791.5L870.2 1791.0L868.8 1792.0L868.2 1791.5L856.8 1802.5L855.8 1802.0L853.2 1804.0L851.8 1803.0L846.2 1808.0L845.8 1807.5L844.2 1809.0L843.2 1808.0L841.8 1809.0L841.2 1808.5L838.8 1811.0L837.8 1810.0L836.2 1811.5L834.8 1810.5L832.8 1812.5L830.2 1810.0L830.0 1810.2L833.0 1813.2L829.5 1816.8L831.0 1818.2L828.5 1820.8L830.0 1822.2L827.0 1825.2L827.5 1825.8L825.5 1827.8L825.5 1828.2L827.0 1829.8L825.0 1831.8L825.5 1832.2L823.5 1834.2L824.0 1835.2L819.0 1840.2L819.0 1840.8L820.5 1842.2L819.0 1843.8L819.5 1844.8L817.5 1846.8L818.0 1847.2L814.5 1851.2L815.0 1852.2L806.0 1861.8L806.0 1862.2L807.5 1863.8L805.5 1865.8L806.0 1866.8L804.0 1868.8L805.0 1869.8L801.5 1873.8L802.5 1874.8L799.5 1878.2L799.5 1878.8L795.0 1883.2L795.5 1884.2L793.5 1886.2L794.0 1886.8L792.0 1888.8L792.5 1889.2L779.8 1902.5L779.2 1902.0L775.0 1906.2L777.5 1908.8L774.5 1911.8L774.5 1912.2L776.0 1913.8L773.5 1916.2L775.0 1917.8L772.5 1920.2L773.5 1921.2L771.0 1923.8L772.5 1925.8L770.5 1927.8L771.5 1928.8L769.5 1930.8L770.0 1931.8L764.5 1937.8L764.5 1938.2L766.5 1940.2L764.5 1942.2L765.0 1943.2L763.0 1945.2L764.0 1946.8L759.0 1951.8L760.5 1953.2L755.5 1958.2L756.0 1959.2L747.5 1967.8L750.5 1970.8L747.5 1973.8L747.5 1974.2L749.0 1975.8L746.5 1978.2L746.5 1978.8L748.0 1980.2L745.0 1983.2L745.5 1984.2L742.5 1987.2L742.5 1987.8L744.5 1989.8L742.0 1992.2L742.5 1993.2L739.5 1996.2L740.0 1997.2L731.0 2006.8L734.5 2010.2L731.0 2013.8L731.0 2014.2L732.5 2015.8L729.0 2019.2L730.5 2021.2L726.0 2025.8L726.5 2026.8L721.0 2032.2L724.0 2035.2L718.5 2040.8L720.5 2042.8L713.5 2049.8L716.5 2052.8L707.8 2061.5L699.0 2052.8L706.0 2045.8L700.0 2039.2L708.8 2030.5L709.8 2031.5L710.5 2031.2L710.5 2030.8L705.0 2025.2L706.5 2023.8L706.5 2023.2L704.5 2020.8L713.2 2012.0L714.2 2012.5L719.0 2007.8L719.0 2007.2L712.0 1999.8L713.5 1998.2L712.5 1997.2L713.5 1996.2L712.0 1994.8L712.0 1993.2L711.5 1992.8L720.2 1984.0L721.2 1984.5L721.8 1984.0L722.8 1985.0L723.8 1985.0L724.8 1984.0L727.8 1987.0L728.0 1986.8L725.5 1984.2L726.0 1983.2L725.0 1982.2L725.0 1981.2L730.5 1975.8L730.0 1974.8L733.5 1971.2L733.0 1970.2L726.5 1963.8L726.5 1962.8L723.5 1959.2L725.5 1956.2L724.5 1955.2L725.5 1953.8L723.5 1950.8L723.0 1947.2L731.8 1938.5L733.2 1939.5L733.8 1939.0L735.8 1941.0L736.2 1941.0L738.8 1938.5L744.2 1944.0L749.5 1938.8L749.5 1938.2L745.5 1934.2L746.0 1933.8L745.5 1932.8L746.0 1932.2L745.0 1931.2L745.0 1929.8L753.8 1921.0L754.5 1920.8L753.0 1919.2L758.0 1914.2L757.0 1912.8L759.5 1910.2L758.8 1909.0L758.2 1909.5L757.8 1909.0L756.8 1909.5L748.0 1900.8L749.0 1898.8L743.5 1893.2L743.5 1892.2L746.5 1889.2L746.0 1888.8L746.5 1887.2L745.5 1885.8L747.0 1883.8L746.5 1883.2L747.5 1882.2L743.5 1878.2L744.5 1877.2L744.0 1876.2L744.5 1875.2L743.5 1874.2L743.5 1872.2L752.2 1863.5L752.8 1863.5L754.2 1865.0L755.2 1865.0L755.8 1864.5L759.2 1868.0L760.2 1867.5L761.2 1868.5L764.8 1865.0L773.5 1873.8L773.5 1874.8L774.5 1875.8L774.0 1876.2L774.0 1877.2L776.8 1880.0L777.0 1879.8L776.0 1878.8L777.0 1877.8L776.5 1877.2L777.0 1876.8L776.5 1876.2L776.5 1874.8L785.2 1866.0L786.8 1867.0L790.0 1863.8L790.0 1863.2L785.5 1858.8L786.0 1858.2L783.5 1855.8L784.5 1854.2L784.5 1852.8L785.0 1852.2L783.5 1850.2L783.5 1848.2L783.0 1847.8L791.8 1839.0L792.8 1839.5L793.2 1839.0L794.8 1840.5L797.2 1838.5L801.2 1842.5L801.8 1842.5L803.5 1840.8L803.5 1840.2L800.5 1837.2L801.0 1835.8L799.5 1833.2L808.0 1824.8L807.5 1823.2L812.5 1818.2L812.0 1817.2L815.5 1813.8L812.8 1811.0L811.8 1812.0L811.2 1811.5L810.8 1812.0L804.2 1805.5L803.2 1806.0L794.5 1797.2L795.0 1794.2L797.0 1792.2L797.0 1791.8L796.5 1790.8L789.5 1783.8L787.0 1780.2L787.0 1779.8L793.0 1773.8L793.0 1772.8L794.0 1771.8L794.0 1770.8L794.5 1770.2L793.0 1768.8L792.5 1767.2L795.5 1764.2L795.0 1763.2L796.5 1761.8L796.0 1760.8L797.0 1759.8L793.0 1755.8L793.0 1754.2L791.0 1752.2L791.0 1751.2L792.5 1749.2L792.0 1748.2L793.0 1746.8L791.5 1744.2L792.0 1743.2L791.5 1740.2L800.2 1731.5L800.8 1731.5L805.8 1736.0L806.8 1736.0L807.2 1735.5L816.0 1744.2L816.0 1745.2L818.2 1747.5L818.8 1747.5L824.2 1742.5L833.0 1751.2L833.0 1752.2L833.5 1752.8L833.0 1753.2L833.0 1754.2L834.0 1756.2L833.0 1757.2L833.5 1758.2L831.5 1760.2L839.5 1768.2L839.0 1771.2L836.5 1773.8L837.0 1774.2L836.5 1774.8L838.0 1776.2L837.0 1777.2L840.5 1780.8L840.0 1781.2L840.0 1782.2L838.0 1784.2L838.5 1785.2L837.0 1786.8L839.2 1789.0L839.8 1789.0L840.5 1787.8L849.2 1779.0L853.8 1783.5L854.5 1782.8L854.5 1782.2L852.5 1780.2L853.0 1779.2L851.5 1776.8L854.0 1773.8L853.0 1772.2L853.5 1770.2L862.2 1761.5L865.2 1764.5L866.2 1764.5L869.8 1768.0L870.2 1768.0L878.2 1760.0L879.2 1761.0L881.2 1761.5L884.0 1758.8L876.5 1750.8L878.0 1748.2L875.0 1744.8L874.5 1742.8L877.5 1739.8L877.0 1738.8L879.0 1735.8L876.5 1732.8L877.5 1731.2L877.5 1730.2L877.0 1729.8L877.5 1728.8L877.0 1728.2L885.8 1719.5L886.2 1719.5L888.2 1721.5L888.8 1721.0L893.8 1726.0L895.8 1724.5L904.5 1733.2L904.5 1736.2L903.5 1737.8L906.2 1741.0L912.2 1735.0L916.2 1738.5L917.5 1737.8L915.5 1734.8L916.0 1733.2L914.0 1730.8L915.5 1729.2L915.5 1728.2L916.5 1727.2L915.0 1725.2L915.5 1724.8L915.5 1723.2L924.2 1714.5L924.8 1714.5L927.8 1717.5L929.2 1716.5L935.2 1722.5L936.5 1720.8L935.5 1719.8L936.0 1719.2L935.5 1718.2L944.2 1709.5L944.8 1709.5L946.2 1711.0L947.2 1710.5L949.2 1712.5L956.2 1705.5L957.2 1706.5L958.2 1706.0L959.2 1707.0L963.8 1702.5L965.8 1704.5L966.5 1703.8L962.8 1700.0L962.2 1700.5L959.5 1697.8L953.5 1691.8L954.0 1691.2L947.0 1684.2L948.0 1682.8L947.5 1681.8L948.5 1680.2L947.8 1680.0L938.5 1670.8L940.0 1668.2L940.0 1667.2L943.0 1664.2L942.5 1663.2L943.0 1662.2L941.5 1660.8L942.0 1660.2L932.0 1650.2L932.0 1649.8L928.5 1645.8L932.0 1642.2L931.5 1641.2L937.0 1635.8L936.0 1633.8L938.0 1631.2L935.0 1627.8L934.0 1625.8L937.0 1622.2L937.5 1619.8L936.0 1618.2L936.0 1617.2L927.5 1608.8L927.5 1607.2L928.5 1606.2L927.5 1604.2L928.0 1602.8L925.5 1600.2L925.0 1596.8L933.8 1588.0L934.8 1588.5L935.8 1588.0L937.2 1589.5L940.8 1586.0L944.8 1590.0L945.2 1590.0L948.5 1586.8L946.0 1583.8L946.5 1582.8L946.0 1579.8L954.8 1571.0L955.8 1571.0L956.2 1571.5L957.2 1571.0L958.2 1572.0L964.0 1566.2L962.0 1564.2L962.5 1563.8L960.0 1561.2L960.0 1560.2L961.0 1559.2L957.0 1555.2L957.5 1553.2L959.0 1551.8L959.0 1550.2L958.0 1549.2L959.0 1547.8L956.0 1544.8L956.0 1542.8L955.0 1541.2L963.8 1532.5L965.5 1531.2L965.0 1529.2L964.0 1528.2L965.0 1527.2L963.5 1524.2L966.5 1521.2L966.5 1519.2L966.0 1518.8L967.0 1517.8L967.0 1516.8L975.8 1508.0L976.2 1508.0L985.0 1516.8L985.0 1517.8L986.0 1518.8L985.5 1521.2L988.5 1524.2L987.5 1525.8L987.5 1527.8L988.0 1528.2L987.0 1529.2L986.5 1531.2L988.2 1532.5L997.0 1541.2L996.0 1542.8L996.0 1544.8L993.0 1547.8L994.0 1549.2L993.0 1550.2L993.5 1551.2L993.0 1551.8L994.5 1553.2L995.0 1555.2L991.0 1559.2L992.0 1560.2L992.0 1561.2L989.5 1563.8L990.0 1564.2L988.0 1566.2L993.8 1572.0L994.8 1571.0L995.2 1571.5L997.2 1571.0L1006.0 1579.8L1006.0 1580.8L1005.5 1581.2L1006.0 1583.8L1003.5 1586.8L1006.8 1590.0L1007.2 1590.0L1011.2 1586.0L1014.8 1589.5L1016.2 1588.0L1016.8 1588.5L1018.8 1588.0L1027.5 1596.8L1026.5 1598.8L1026.5 1600.2L1024.0 1602.8L1024.5 1604.2L1023.5 1606.2L1024.5 1607.2L1024.5 1608.2L1025.0 1608.8L1014.5 1619.8L1015.0 1622.2L1018.0 1625.8L1017.0 1627.8L1015.0 1629.8L1015.0 1630.8L1014.5 1631.2L1014.5 1632.2L1016.0 1633.8L1015.0 1635.8L1020.5 1641.2L1020.5 1642.8L1023.5 1645.8L1020.0 1649.8L1020.0 1650.2L1010.5 1659.8L1010.5 1660.8L1009.0 1662.2L1009.5 1663.2L1009.0 1663.8L1012.5 1667.2L1012.0 1668.2L1013.5 1670.8L1004.2 1680.0L1003.5 1680.2L1004.5 1681.8L1004.0 1682.8L1005.0 1684.2L998.0 1691.2L998.5 1691.8L989.8 1700.5L989.2 1700.0L985.5 1703.8L986.8 1704.5L988.8 1702.5L993.2 1707.0L994.2 1706.0L994.8 1706.5L995.8 1705.5L1002.8 1712.5L1004.8 1710.5L1005.8 1711.0L1007.8 1709.5L1016.5 1718.2L1016.5 1719.8L1016.0 1720.2L1016.5 1721.2L1016.0 1721.8L1016.8 1722.5L1017.2 1722.5L1023.2 1716.5L1024.2 1717.5L1026.8 1715.0L1028.2 1714.5L1037.0 1723.2L1036.5 1724.2L1037.0 1725.2L1036.0 1727.2L1037.0 1728.2L1036.5 1729.2L1038.0 1730.8L1036.0 1733.2L1037.0 1734.8L1034.5 1737.2L1034.5 1737.8L1035.8 1738.5L1039.8 1735.0L1045.8 1741.0L1049.0 1737.2L1047.5 1735.8L1048.0 1733.2L1056.8 1724.5L1058.2 1726.0L1063.2 1721.0L1064.2 1721.0L1066.2 1719.5L1075.0 1728.2L1074.5 1730.8L1075.5 1732.8L1073.0 1735.8L1075.0 1738.8L1074.5 1739.8L1077.5 1742.8L1077.0 1744.8L1074.0 1748.2L1075.5 1750.8L1068.0 1758.8L1071.2 1762.0L1074.2 1760.0L1082.2 1768.0L1085.8 1764.5L1086.8 1764.5L1089.8 1761.5L1090.2 1761.5L1099.0 1770.2L1098.5 1771.2L1099.0 1771.8L1099.0 1772.8L1098.0 1773.8L1100.5 1776.8L1099.0 1779.2L1099.5 1780.2L1097.5 1782.8L1098.8 1783.5L1103.2 1779.0L1112.0 1787.8L1112.8 1789.0L1115.0 1786.8L1115.0 1786.2L1114.0 1785.2L1114.5 1784.2L1111.5 1780.8L1115.0 1777.2L1114.0 1776.2L1115.5 1774.8L1115.0 1774.2L1115.5 1773.8L1113.0 1771.2L1112.5 1768.2L1120.5 1760.2L1119.0 1758.2L1119.0 1757.2L1118.0 1756.2L1118.5 1754.8L1119.5 1753.8L1118.5 1752.8L1119.0 1752.2L1119.0 1751.2L1127.8 1742.5L1133.2 1747.5L1133.8 1747.5L1136.0 1745.2L1136.0 1744.2L1144.8 1735.5L1146.2 1736.5L1151.8 1731.5L1160.5 1740.2L1160.5 1741.8L1160.0 1742.2L1160.5 1742.8L1160.0 1743.2L1160.5 1744.2L1159.0 1746.2L1160.0 1748.2L1159.5 1749.2L1161.5 1751.8L1159.0 1754.2L1159.0 1755.8L1155.0 1759.8L1156.0 1760.8L1155.5 1761.2L1157.0 1762.8L1157.0 1763.8L1156.5 1764.2L1159.5 1767.2L1159.0 1768.8L1157.5 1770.2L1158.5 1771.2L1158.0 1771.8L1159.5 1773.2L1159.0 1773.8L1165.0 1779.8L1165.0 1780.2L1163.0 1782.8L1163.0 1783.8L1155.0 1791.8L1155.0 1792.2L1157.0 1794.2L1157.5 1797.2L1148.8 1806.0L1147.8 1806.0L1141.8 1812.0L1140.8 1811.5L1140.2 1812.0L1139.2 1811.0L1136.5 1813.8L1140.0 1817.2L1139.5 1818.2L1144.5 1823.2L1144.0 1824.8L1152.5 1833.2L1151.0 1835.8L1152.0 1836.8L1148.5 1840.2L1150.8 1842.5L1151.2 1842.5L1155.2 1838.5L1157.2 1840.5L1158.8 1839.0L1159.2 1839.5L1160.2 1839.0L1169.0 1847.8L1168.5 1850.2L1167.5 1851.2L1167.5 1852.2L1168.0 1852.8L1167.5 1853.2L1167.5 1854.2L1168.5 1855.8L1166.5 1857.8L1166.5 1858.8L1162.0 1863.2L1165.2 1867.0L1166.8 1866.0L1175.5 1874.8L1175.5 1876.2L1175.0 1876.8L1175.5 1877.2L1175.0 1877.8L1176.0 1878.8L1175.0 1879.8L1175.2 1880.0L1178.0 1877.2L1178.5 1873.8L1187.2 1865.0L1187.8 1865.0L1190.8 1868.0L1191.8 1867.5L1192.8 1868.0L1196.2 1864.5L1196.8 1865.0L1197.8 1865.0L1199.8 1863.5L1208.5 1872.2L1208.5 1874.2L1207.5 1875.8L1208.0 1876.2L1207.5 1877.2L1208.5 1878.2L1204.5 1882.2L1205.5 1883.2L1205.0 1883.8L1206.5 1885.2L1206.5 1886.2L1205.5 1887.8L1206.0 1888.2L1205.5 1889.2L1209.0 1892.8L1203.5 1898.2L1204.0 1900.8L1195.2 1909.5L1193.2 1909.0L1192.5 1910.2L1195.0 1912.8L1194.0 1914.2L1199.0 1919.2L1198.0 1920.8L1198.8 1921.0L1207.5 1929.8L1207.0 1930.2L1207.0 1931.2L1206.0 1932.2L1206.5 1932.8L1206.0 1933.2L1206.5 1934.8L1202.5 1938.8L1207.8 1944.0L1213.2 1938.5L1216.2 1941.0L1218.2 1939.0L1218.8 1939.5L1220.2 1938.5L1229.0 1947.2L1229.0 1948.8L1228.5 1949.2L1228.5 1950.2L1229.0 1950.8L1226.5 1953.8L1227.5 1954.8L1227.0 1955.8L1227.5 1956.8L1227.0 1957.2L1229.0 1959.2L1225.5 1962.8L1225.5 1963.8L1219.0 1970.2L1218.5 1971.2L1222.0 1974.8L1221.5 1975.8L1227.0 1981.2L1227.0 1982.2L1226.0 1983.2L1226.5 1984.2L1224.0 1986.8L1224.2 1987.0L1227.2 1984.0L1228.2 1985.0L1229.2 1985.0L1230.2 1984.0L1230.8 1984.5L1231.8 1984.0L1240.5 1992.8L1240.0 1994.8L1238.5 1996.2L1239.5 1997.2L1238.5 1998.2L1240.0 1999.8L1233.0 2007.2L1233.0 2007.8L1237.8 2012.5L1238.8 2012.0L1247.5 2020.8L1245.5 2023.2L1245.5 2023.8L1247.0 2025.2L1241.5 2030.8L1241.5 2031.2L1242.2 2031.5L1243.2 2030.5L1252.0 2039.2L1249.0 2042.2L1249.5 2042.8L1246.5 2045.8L1253.5 2052.8L1244.8 2061.5ZM976.5 1693.2L979.5 1690.2L979.0 1689.2L982.0 1686.2L982.0 1685.2L981.5 1684.8L987.0 1678.8L985.5 1676.8L988.0 1674.2L987.5 1673.8L989.5 1671.8L989.0 1670.8L991.5 1668.2L991.0 1667.8L993.5 1665.2L991.5 1663.2L993.0 1661.8L992.0 1660.2L993.5 1658.8L993.0 1658.2L994.5 1656.8L994.0 1655.8L995.5 1654.2L994.5 1652.8L995.5 1651.8L995.5 1650.8L997.0 1649.2L996.0 1648.2L998.5 1645.8L997.5 1644.8L999.0 1643.2L999.0 1642.8L997.0 1640.8L998.0 1639.8L997.0 1638.2L998.0 1637.2L997.0 1636.2L998.0 1635.2L997.0 1634.2L998.0 1632.8L997.0 1631.8L997.5 1631.2L997.0 1630.2L998.0 1629.2L997.0 1628.2L998.0 1627.2L997.5 1626.2L998.5 1625.2L997.0 1623.8L998.0 1622.8L997.0 1621.8L997.5 1621.2L997.0 1620.2L998.0 1619.2L997.0 1617.8L998.0 1616.8L997.0 1615.8L998.0 1614.8L997.0 1613.8L998.0 1612.2L997.0 1611.2L999.0 1609.2L999.0 1608.8L993.5 1602.2L994.0 1601.2L992.0 1599.2L991.0 1597.2L991.0 1596.2L989.0 1594.2L987.0 1590.2L986.5 1588.2L980.0 1581.8L980.0 1581.2L976.2 1577.5L975.8 1577.5L965.0 1589.2L965.5 1590.2L964.0 1591.8L963.0 1594.2L961.0 1596.2L961.5 1597.2L958.0 1601.2L958.5 1602.2L953.0 1608.8L953.0 1609.2L955.0 1611.2L954.0 1612.2L955.0 1613.8L954.0 1614.8L955.0 1615.8L954.0 1616.8L955.0 1617.8L954.0 1619.2L955.0 1620.2L954.5 1620.8L955.0 1621.8L954.5 1622.8L955.0 1623.8L953.5 1625.2L954.5 1626.2L954.0 1627.2L955.0 1628.2L954.5 1629.8L955.5 1631.8L954.5 1632.8L954.5 1633.8L955.0 1634.2L954.5 1635.2L955.5 1636.2L954.5 1637.2L955.0 1638.2L954.0 1639.2L955.0 1640.8L953.0 1642.8L953.0 1643.2L954.5 1644.8L953.5 1645.8L956.0 1648.2L955.5 1649.2L957.0 1650.8L956.5 1651.8L957.5 1652.8L956.5 1654.2L958.0 1655.8L957.5 1656.2L959.5 1658.2L959.0 1659.2L960.0 1660.2L959.0 1661.8L960.5 1663.2L958.5 1665.2L963.5 1670.8L963.0 1671.8L965.0 1673.8L964.5 1674.8L966.5 1676.8L965.0 1678.2L965.0 1678.8L970.5 1684.8L970.0 1685.2L970.0 1686.2L973.0 1689.2L972.5 1689.8L976.2 1693.5L976.5 1693.2ZM824.0 1798.8L824.0 1798.2L820.0 1794.2L822.5 1791.8L822.5 1791.2L820.5 1789.2L822.5 1787.2L820.5 1785.2L822.0 1783.8L822.0 1783.2L820.5 1781.8L821.5 1780.8L821.5 1780.2L820.0 1778.8L821.0 1777.8L819.5 1776.2L820.5 1775.2L819.5 1774.2L820.5 1772.8L819.0 1771.2L819.5 1770.8L818.0 1769.2L816.5 1766.2L814.2 1765.0L812.5 1765.8L812.5 1767.2L811.5 1768.8L812.0 1769.8L811.5 1770.2L811.5 1771.2L811.0 1771.8L811.5 1772.2L810.5 1774.2L811.0 1774.8L810.5 1775.2L811.0 1776.2L810.5 1777.2L811.0 1777.8L809.5 1779.2L810.0 1779.8L809.5 1780.8L811.0 1782.2L810.5 1782.8L811.5 1783.8L811.5 1784.8L812.0 1785.2L811.5 1785.8L813.5 1788.2L813.0 1788.8L814.0 1789.8L813.5 1790.2L814.5 1791.2L814.0 1792.2L816.2 1794.5L816.8 1794.0L818.8 1796.0L819.8 1795.5L823.2 1799.0L824.0 1798.8ZM1129.0 1798.8L1132.2 1795.5L1133.2 1796.5L1135.8 1794.0L1138.5 1792.2L1137.5 1791.2L1139.0 1789.2L1138.5 1788.2L1140.5 1785.8L1140.0 1785.2L1140.5 1784.8L1140.5 1783.8L1141.5 1782.8L1141.0 1782.2L1142.5 1780.8L1142.0 1779.8L1142.5 1778.8L1141.5 1777.8L1141.5 1776.8L1141.0 1776.2L1141.5 1775.8L1141.0 1774.8L1141.5 1773.8L1140.5 1772.2L1141.0 1771.8L1140.5 1771.2L1141.0 1768.8L1139.5 1767.2L1140.0 1766.8L1139.5 1765.8L1137.8 1765.0L1135.8 1766.5L1135.2 1766.0L1135.0 1766.2L1135.5 1766.8L1135.0 1767.8L1132.5 1770.8L1133.0 1771.2L1131.5 1772.8L1133.0 1774.2L1132.0 1775.2L1132.5 1776.2L1131.5 1777.2L1132.5 1778.8L1130.5 1780.8L1131.5 1781.8L1130.0 1783.2L1132.0 1785.2L1130.0 1787.2L1130.0 1787.8L1131.5 1789.2L1129.5 1791.2L1129.5 1791.8L1132.0 1794.2L1128.0 1798.2L1128.2 1799.0L1129.0 1798.8ZM499.8 2341.5L491.0 2332.8L491.0 2331.8L490.5 2331.2L491.0 2330.2L490.0 2328.8L490.5 2328.2L490.5 2327.2L492.0 2325.8L492.0 2325.2L490.0 2323.2L490.5 2322.2L488.0 2319.8L488.5 2318.2L490.5 2316.2L490.0 2314.2L495.0 2309.2L487.5 2301.2L488.0 2299.8L489.0 2298.8L480.0 2289.8L480.0 2289.2L482.0 2286.8L482.0 2285.8L481.5 2285.2L486.5 2280.2L486.0 2278.8L488.0 2276.8L487.5 2275.8L488.5 2274.8L486.0 2272.2L486.0 2270.8L485.0 2269.2L491.5 2262.8L492.0 2261.8L491.0 2260.2L499.8 2251.5L500.5 2251.2L503.5 2248.2L503.5 2247.8L502.8 2247.0L501.8 2247.5L495.8 2241.5L495.2 2242.0L494.8 2241.5L492.8 2242.0L484.0 2233.2L485.0 2231.8L484.2 2230.5L481.2 2233.5L479.8 2232.5L477.8 2234.5L476.8 2234.5L468.0 2225.8L468.0 2223.8L469.0 2222.8L468.5 2222.2L469.0 2221.8L467.5 2218.8L469.0 2217.2L469.0 2216.2L472.0 2213.2L472.0 2212.8L471.2 2212.0L470.2 2213.0L469.8 2212.5L468.2 2213.5L460.8 2206.0L461.0 2207.2L460.5 2207.8L460.5 2208.8L451.8 2217.5L449.2 2215.0L448.8 2215.0L448.2 2215.5L447.2 2215.5L444.2 2218.5L443.2 2218.0L441.8 2219.5L441.2 2219.5L432.5 2210.8L433.0 2209.8L432.5 2209.2L433.5 2208.2L432.5 2205.8L435.5 2202.8L435.0 2200.8L434.0 2199.8L434.5 2198.8L434.5 2196.8L433.0 2195.2L432.5 2193.8L436.5 2189.8L436.0 2187.8L444.0 2179.8L444.0 2179.2L442.5 2177.8L443.0 2176.8L439.5 2173.2L439.5 2172.2L433.0 2165.8L433.0 2164.8L434.0 2163.2L433.5 2162.2L436.0 2159.8L435.2 2158.5L434.8 2158.5L431.2 2162.0L429.8 2160.5L429.2 2160.5L427.8 2162.0L427.2 2161.5L426.2 2162.0L417.5 2153.2L417.5 2150.8L419.0 2149.2L418.5 2148.2L419.0 2146.8L418.0 2145.8L418.0 2144.8L424.5 2137.8L424.0 2137.2L424.5 2136.8L422.5 2134.8L422.5 2133.2L420.2 2131.0L419.2 2131.0L410.5 2122.2L412.0 2118.8L411.0 2117.2L415.0 2112.8L415.0 2112.2L406.5 2103.8L407.0 2103.2L406.5 2102.8L407.5 2101.2L407.0 2100.8L409.5 2098.2L409.5 2097.8L407.8 2096.5L403.0 2101.2L404.0 2102.2L403.5 2102.8L404.5 2103.8L403.5 2105.2L404.0 2105.8L404.0 2107.2L395.5 2115.8L396.0 2116.2L395.5 2117.2L396.5 2118.2L396.5 2119.2L395.0 2121.2L396.0 2122.2L395.5 2122.8L396.0 2123.2L386.8 2132.5L382.2 2128.5L381.8 2128.5L379.0 2131.2L379.5 2132.8L381.0 2134.2L380.0 2135.8L381.5 2137.8L381.5 2138.8L378.5 2141.8L379.5 2143.2L379.0 2145.2L369.8 2154.5L361.0 2145.8L360.0 2143.8L358.8 2142.5L358.2 2142.5L353.8 2147.0L353.2 2147.0L349.2 2143.0L349.0 2143.8L350.5 2145.8L350.5 2147.2L349.0 2148.8L349.0 2149.8L348.0 2151.2L349.5 2152.8L349.0 2153.8L349.5 2154.8L340.8 2163.5L339.8 2163.0L332.2 2170.5L331.2 2171.0L322.5 2162.2L322.5 2161.2L322.0 2160.8L322.5 2160.2L322.5 2158.8L321.5 2157.8L322.5 2156.8L322.5 2155.8L324.0 2154.2L322.0 2151.8L322.0 2150.8L322.5 2150.2L319.5 2147.2L320.0 2145.8L321.5 2144.2L322.5 2142.2L321.5 2140.2L323.5 2138.2L323.5 2137.2L327.0 2133.8L327.0 2133.2L326.8 2133.0L326.2 2133.5L325.8 2133.0L324.8 2133.5L317.8 2126.5L316.8 2127.0L315.2 2126.5L314.2 2127.5L313.8 2127.0L313.2 2127.5L304.5 2118.8L304.5 2117.2L305.5 2116.2L305.0 2115.8L304.5 2112.8L308.5 2108.2L299.5 2099.2L300.0 2096.2L302.0 2094.2L301.5 2092.8L301.2 2092.5L299.0 2094.8L298.5 2096.2L289.8 2105.0L286.2 2101.5L280.2 2107.5L277.2 2109.5L268.5 2100.8L268.5 2098.8L269.0 2098.2L267.5 2095.8L268.5 2094.8L269.0 2092.8L263.2 2087.5L260.8 2090.0L260.2 2090.0L251.5 2081.2L252.0 2080.2L244.0 2072.2L251.5 2064.2L251.5 2063.2L260.2 2054.5L260.8 2054.5L263.2 2057.0L269.0 2051.2L268.5 2049.2L267.5 2048.2L269.0 2046.2L268.5 2045.2L268.5 2043.2L277.2 2034.5L280.2 2036.5L286.2 2042.5L286.8 2042.5L289.8 2039.5L299.0 2048.8L299.0 2049.8L300.8 2051.5L302.0 2050.8L300.0 2047.8L299.5 2044.8L308.5 2035.8L304.5 2031.2L304.5 2030.2L305.0 2029.8L304.5 2025.2L313.2 2016.5L314.8 2017.5L315.8 2017.5L316.2 2017.0L317.8 2017.5L324.8 2010.5L325.8 2011.0L326.2 2010.5L326.8 2011.0L327.0 2010.8L327.0 2010.2L323.5 2006.8L324.0 2006.2L321.5 2003.8L322.5 2001.8L321.5 1999.8L320.0 1998.2L319.5 1996.8L322.5 1993.8L322.0 1993.2L322.0 1992.2L324.0 1989.8L322.5 1988.2L322.5 1987.2L321.5 1986.2L323.0 1984.2L322.0 1983.2L322.5 1982.8L322.5 1981.8L331.2 1973.0L332.2 1973.5L339.8 1981.0L340.8 1980.5L349.5 1989.2L349.0 1990.2L349.5 1991.2L348.0 1992.8L349.0 1994.2L348.5 1995.2L350.5 1997.2L350.5 1998.2L349.0 2000.2L349.2 2001.0L353.2 1997.0L353.8 1997.0L358.2 2001.5L358.8 2001.5L360.0 2000.2L361.0 1998.2L369.8 1989.5L379.0 1998.8L379.5 2000.8L378.5 2002.2L381.5 2005.2L381.5 2006.8L380.5 2007.8L380.5 2009.2L381.0 2009.8L379.5 2011.2L379.0 2012.8L381.8 2015.5L382.2 2015.5L386.8 2011.5L396.0 2020.8L395.5 2021.2L396.0 2021.8L395.0 2022.8L396.5 2024.8L396.5 2025.8L395.5 2026.8L396.0 2027.8L395.5 2028.8L404.0 2037.2L404.0 2038.2L403.5 2038.8L404.5 2040.8L403.0 2042.8L407.8 2047.5L409.5 2046.2L409.5 2045.8L407.0 2043.2L407.5 2042.8L406.5 2041.2L406.5 2040.2L415.0 2031.8L415.0 2031.2L411.0 2026.8L411.5 2024.2L410.5 2022.2L422.5 2010.8L422.5 2009.2L424.5 2007.2L420.0 2002.2L420.0 2001.2L418.0 1999.2L418.0 1998.2L419.0 1997.2L418.5 1996.2L419.0 1994.8L417.5 1993.2L418.0 1992.8L417.5 1992.2L417.5 1990.8L426.2 1982.0L427.8 1982.5L428.8 1983.5L429.8 1983.5L431.2 1982.0L434.8 1985.5L435.2 1985.5L436.0 1984.2L433.5 1981.8L434.0 1980.8L433.0 1979.2L433.0 1978.2L439.5 1971.8L439.5 1970.8L443.0 1967.2L442.5 1966.2L444.0 1964.8L444.0 1964.2L436.0 1956.2L436.5 1954.2L432.5 1950.2L433.0 1948.8L435.0 1946.2L434.0 1944.2L435.0 1943.2L435.0 1942.2L435.5 1941.8L435.5 1941.2L432.5 1938.2L433.5 1936.2L432.5 1934.8L432.5 1933.2L441.2 1924.5L443.2 1926.0L444.2 1925.5L447.2 1928.5L448.2 1928.5L448.8 1929.0L449.2 1929.0L451.8 1926.5L460.5 1935.2L460.5 1936.8L461.0 1937.2L460.5 1937.8L460.8 1938.0L468.2 1930.5L469.8 1931.5L470.2 1931.0L471.2 1932.0L472.0 1931.2L469.0 1928.2L469.5 1927.2L467.5 1925.2L469.0 1922.2L468.5 1921.8L469.0 1921.2L468.0 1920.2L468.0 1918.2L476.8 1909.5L479.8 1911.5L481.2 1910.5L484.2 1913.5L485.0 1912.2L484.0 1910.8L492.8 1902.0L493.8 1902.0L494.2 1902.5L495.2 1902.0L495.8 1902.5L501.8 1896.5L502.8 1897.0L503.5 1896.2L503.2 1895.5L491.0 1883.8L491.5 1881.2L485.0 1874.8L486.0 1873.2L486.0 1871.8L488.5 1869.2L487.5 1868.2L488.0 1867.2L486.0 1865.2L486.5 1863.8L481.5 1858.8L482.0 1858.2L482.0 1857.2L480.0 1854.8L480.0 1854.2L489.0 1845.2L488.0 1844.2L487.5 1842.8L495.0 1834.8L490.0 1829.8L490.5 1827.8L488.5 1825.8L488.0 1824.2L490.5 1821.8L490.0 1820.8L492.0 1818.8L490.5 1817.2L491.0 1816.8L490.0 1815.8L491.0 1813.8L490.5 1812.8L491.0 1812.2L491.0 1811.2L499.8 1802.5L516.0 1819.2L515.5 1820.2L516.0 1820.8L515.0 1821.8L515.0 1822.8L515.5 1823.2L515.0 1823.8L516.5 1825.2L516.0 1826.2L520.2 1830.5L522.2 1828.5L523.2 1829.0L524.2 1828.0L525.8 1827.5L534.5 1836.2L534.0 1837.2L534.5 1838.2L533.5 1839.2L534.0 1840.2L533.5 1841.2L534.5 1842.2L530.0 1847.2L531.0 1848.2L530.5 1849.2L533.0 1851.8L531.5 1853.8L537.0 1859.2L537.0 1859.8L535.5 1861.2L536.0 1862.2L532.5 1865.8L533.0 1866.2L533.0 1867.2L532.0 1868.2L532.5 1869.2L532.0 1869.8L533.5 1871.2L534.5 1873.2L530.0 1878.2L531.5 1880.8L528.0 1884.2L529.0 1885.2L527.0 1887.2L527.0 1888.2L527.8 1889.0L530.8 1886.0L534.8 1890.0L540.8 1884.0L547.8 1891.0L548.2 1891.0L550.0 1889.2L551.0 1887.2L559.8 1878.5L569.0 1887.8L569.5 1889.8L568.5 1891.2L571.5 1894.2L570.0 1896.2L570.5 1896.8L570.0 1897.2L571.0 1898.2L570.0 1900.2L570.2 1900.5L575.8 1895.0L583.2 1902.5L585.5 1900.8L585.5 1899.8L585.0 1899.2L585.5 1898.2L584.0 1896.8L583.5 1895.2L586.0 1892.8L585.5 1891.8L587.0 1889.8L587.0 1889.2L585.0 1887.2L585.5 1886.8L585.0 1884.2L596.0 1873.8L596.5 1872.2L605.2 1863.5L605.8 1863.5L614.5 1872.2L615.0 1874.2L614.0 1875.2L616.0 1877.8L616.0 1878.8L615.0 1879.8L615.5 1880.8L613.5 1882.8L613.5 1883.2L617.0 1886.8L617.0 1887.8L621.5 1892.2L621.5 1892.8L620.5 1893.8L620.5 1895.2L618.0 1897.8L618.5 1898.8L617.0 1900.8L617.0 1901.2L618.5 1902.8L619.0 1904.2L615.5 1907.8L615.0 1908.8L615.5 1909.2L608.5 1916.2L608.5 1916.8L609.2 1917.5L610.8 1917.0L617.8 1924.0L618.8 1923.0L620.2 1923.0L621.2 1922.0L622.8 1923.0L630.5 1930.8L630.5 1932.2L630.0 1932.8L630.5 1933.8L630.0 1934.2L631.0 1935.8L630.0 1936.8L630.0 1938.2L631.8 1940.0L640.8 1931.0L641.2 1931.0L642.8 1932.5L648.8 1927.0L657.5 1935.8L657.5 1938.8L658.0 1939.8L656.0 1942.8L657.5 1944.8L657.0 1945.8L659.0 1947.8L659.5 1949.2L656.0 1953.2L657.5 1955.2L650.0 1962.8L652.2 1965.0L653.2 1965.0L662.0 1973.8L662.0 1974.8L661.5 1975.2L661.8 1976.5L662.2 1976.5L664.8 1974.0L666.2 1975.0L668.2 1973.0L669.8 1972.5L678.5 1981.2L678.0 1982.2L678.5 1982.8L678.5 1983.8L677.0 1985.2L678.0 1986.8L677.5 1987.8L679.0 1989.2L679.0 1989.8L676.5 1992.2L677.5 1993.2L672.5 1998.2L672.5 1998.8L678.8 2005.0L680.8 2003.0L681.2 2003.0L690.0 2011.8L689.5 2012.8L690.0 2013.2L689.0 2014.2L689.5 2015.2L689.0 2016.2L690.0 2017.2L685.0 2022.8L685.0 2023.2L686.2 2024.5L687.8 2023.5L696.5 2032.2L695.5 2034.2L696.5 2035.8L693.0 2039.2L700.5 2046.8L698.5 2048.8L699.0 2049.2L690.2 2058.0L681.5 2049.2L683.5 2047.2L683.0 2046.8L684.0 2045.2L676.0 2037.2L677.5 2035.8L671.0 2029.2L674.0 2026.2L674.0 2025.8L663.0 2014.2L664.0 2012.2L660.0 2008.2L661.0 2006.8L657.0 2002.8L660.0 1999.8L658.8 1998.5L658.2 1999.0L649.5 1990.2L649.5 1989.8L643.5 1983.2L645.0 1981.8L638.5 1974.8L639.5 1973.2L636.5 1970.2L637.5 1969.2L634.0 1965.8L634.5 1964.8L632.2 1962.5L631.8 1963.0L629.8 1961.0L629.2 1961.5L615.5 1948.2L611.5 1942.8L602.0 1933.2L602.5 1932.2L597.5 1927.2L597.5 1926.2L595.5 1924.2L596.0 1923.8L594.8 1922.5L594.2 1922.5L592.8 1924.0L591.2 1922.5L589.2 1924.0L588.2 1923.0L586.8 1924.0L585.2 1922.5L584.2 1923.0L583.2 1922.0L581.8 1923.5L580.2 1922.0L579.8 1922.5L578.8 1921.5L577.8 1922.0L574.2 1919.0L572.2 1920.5L571.2 1919.5L570.8 1920.0L569.8 1919.0L568.8 1920.0L565.8 1917.5L564.8 1918.0L561.2 1915.0L560.8 1915.5L556.8 1911.5L554.8 1913.5L553.8 1912.5L552.2 1913.5L551.2 1912.5L550.2 1913.5L549.2 1912.5L548.2 1913.0L547.2 1912.0L545.8 1913.0L544.8 1912.0L544.2 1912.5L542.8 1911.0L542.2 1911.5L538.8 1908.5L538.2 1908.5L536.8 1910.0L535.8 1909.0L534.8 1909.5L533.8 1908.5L532.2 1909.5L528.8 1906.0L527.2 1907.5L525.2 1905.5L524.2 1906.0L522.2 1904.0L520.8 1905.0L517.8 1902.0L514.5 1905.8L515.0 1906.8L510.5 1911.2L511.0 1911.8L501.5 1921.2L502.0 1921.8L491.8 1932.0L491.2 1932.0L488.2 1935.0L487.5 1935.2L488.0 1935.8L486.5 1937.2L487.0 1937.8L484.0 1940.8L484.0 1941.2L466.2 1959.0L465.8 1959.0L462.8 1962.0L462.2 1961.5L461.0 1962.8L462.0 1963.8L460.0 1965.8L461.0 1966.8L459.0 1968.8L460.0 1969.8L458.0 1971.8L459.0 1972.8L457.5 1974.2L458.0 1975.8L456.5 1977.2L457.0 1977.8L455.5 1979.2L456.0 1979.8L452.0 1984.2L453.5 1985.8L452.0 1987.2L452.5 1988.2L451.0 1989.8L451.5 1990.2L448.5 1993.8L449.0 1994.8L447.5 1996.8L440.0 2004.2L440.0 2004.8L442.0 2006.8L440.0 2008.8L441.0 2010.2L439.5 2011.8L440.0 2013.2L438.0 2015.2L438.5 2015.8L436.5 2017.8L438.0 2019.2L436.0 2021.2L436.5 2021.8L434.5 2023.8L435.5 2024.8L430.0 2030.8L430.0 2031.2L432.0 2033.2L430.0 2035.2L430.0 2036.2L430.5 2036.8L428.5 2038.8L429.5 2040.2L426.5 2043.2L427.0 2043.8L423.5 2047.2L425.5 2049.2L422.0 2052.8L423.5 2054.2L419.5 2058.2L419.5 2058.8L421.0 2060.2L413.0 2068.2L413.0 2068.8L416.5 2072.2L413.0 2075.8L421.0 2083.8L419.0 2085.8L423.5 2090.2L422.5 2091.8L425.5 2094.8L423.5 2096.8L427.0 2100.2L426.5 2100.8L429.5 2103.8L428.5 2105.2L430.5 2107.2L429.5 2108.2L432.0 2111.2L430.0 2113.2L435.5 2119.2L434.5 2120.2L436.5 2122.2L436.0 2122.8L438.0 2124.8L436.5 2126.2L438.5 2128.2L438.0 2128.8L440.0 2130.8L439.5 2132.2L441.0 2133.8L440.0 2135.2L442.0 2137.2L440.0 2139.2L440.0 2139.8L447.5 2147.2L449.0 2149.2L448.0 2150.2L451.5 2153.8L451.0 2154.8L452.5 2156.2L452.0 2156.8L453.5 2158.2L452.0 2159.8L456.0 2164.2L455.5 2164.8L457.0 2166.2L456.5 2167.2L458.0 2168.8L457.0 2169.8L459.0 2171.8L458.5 2172.8L460.0 2174.2L459.5 2175.8L461.0 2177.2L460.0 2178.8L462.0 2180.8L461.5 2181.8L462.2 2182.5L462.8 2182.0L465.8 2185.0L466.2 2185.0L484.0 2202.8L484.0 2203.8L487.0 2206.8L486.5 2207.2L500.5 2220.8L502.0 2223.2L511.0 2232.2L510.5 2233.2L515.0 2237.8L514.5 2238.2L517.0 2240.8L516.5 2241.2L517.2 2242.0L517.8 2242.0L520.8 2239.0L522.2 2240.0L524.2 2238.0L525.2 2238.5L527.2 2236.5L528.8 2238.0L532.2 2234.5L533.8 2235.5L534.8 2234.5L535.8 2235.0L536.8 2234.0L538.2 2235.5L538.8 2235.5L542.2 2232.5L542.8 2233.0L544.2 2231.5L544.8 2232.0L545.8 2231.0L547.2 2232.5L548.2 2231.5L548.8 2232.0L550.2 2230.5L551.2 2231.5L552.2 2230.5L553.2 2231.5L554.8 2230.5L556.8 2232.5L557.2 2232.5L560.8 2229.0L564.8 2226.0L565.8 2226.5L568.8 2224.0L569.8 2225.0L570.8 2224.0L571.2 2224.5L572.2 2223.5L573.8 2225.0L574.2 2225.0L577.8 2222.0L578.2 2222.5L579.8 2221.5L580.2 2222.0L581.8 2220.5L583.2 2222.0L584.2 2221.0L585.2 2221.5L586.8 2220.0L588.2 2221.5L589.2 2220.5L590.8 2222.0L592.8 2220.0L594.8 2222.0L596.0 2220.8L595.5 2220.2L597.5 2218.2L598.0 2217.2L597.5 2216.8L602.5 2211.8L602.0 2211.2L612.0 2201.2L611.5 2200.8L615.5 2196.8L615.5 2196.2L629.2 2182.5L629.8 2183.0L631.8 2181.0L632.2 2181.5L634.5 2179.2L634.0 2178.2L637.5 2174.8L636.5 2173.8L639.5 2170.8L638.5 2169.8L645.0 2162.8L643.5 2160.8L650.0 2154.2L649.5 2153.8L658.2 2145.0L659.2 2145.5L660.0 2144.8L657.0 2141.8L661.5 2137.2L660.0 2135.8L664.0 2131.8L663.5 2131.2L664.0 2130.8L663.0 2129.8L674.0 2118.2L674.0 2117.8L671.0 2114.8L677.5 2108.2L676.0 2106.8L684.0 2098.8L683.0 2097.2L683.5 2096.8L681.5 2094.8L690.2 2086.0L699.0 2094.8L698.5 2095.2L700.5 2097.2L693.0 2104.8L696.5 2108.2L695.0 2109.8L696.5 2111.2L696.5 2111.8L687.8 2120.5L686.2 2119.5L684.5 2121.2L690.0 2126.8L689.0 2127.8L689.5 2128.8L689.0 2129.8L690.0 2130.8L689.5 2131.2L690.0 2132.2L681.2 2141.0L678.8 2139.5L672.5 2145.2L672.5 2145.8L677.5 2150.8L676.5 2151.8L679.0 2154.2L677.5 2156.2L678.0 2157.2L677.0 2158.8L678.5 2160.8L678.0 2161.8L678.5 2162.8L669.8 2171.5L668.2 2171.0L666.2 2169.0L664.8 2170.0L662.2 2167.5L661.8 2167.5L661.0 2168.8L662.0 2170.2L653.2 2179.0L652.2 2179.0L650.0 2181.2L657.5 2188.8L656.0 2190.8L659.5 2194.8L659.0 2196.2L657.0 2198.2L657.5 2198.8L657.5 2199.8L656.0 2201.2L658.0 2204.2L657.5 2205.2L657.5 2208.2L648.8 2217.0L642.8 2211.5L640.8 2213.0L631.8 2204.0L629.5 2206.2L631.0 2208.2L631.0 2209.2L630.0 2210.8L630.5 2211.8L630.5 2213.8L621.8 2222.5L620.2 2221.0L619.2 2221.0L618.8 2221.5L617.2 2220.5L610.8 2227.0L609.8 2226.5L608.5 2227.2L608.5 2227.8L615.5 2234.8L615.5 2235.8L615.0 2236.2L619.0 2240.2L617.0 2242.8L617.5 2244.2L618.5 2245.2L617.5 2246.2L620.5 2249.2L620.5 2250.2L621.5 2251.2L621.5 2251.8L617.0 2256.2L617.0 2257.2L613.5 2260.8L613.5 2261.2L615.5 2263.2L615.0 2264.2L616.0 2265.2L616.0 2266.2L614.0 2268.8L615.0 2270.2L614.5 2270.8L614.5 2272.2L605.8 2281.0L596.5 2271.8L596.0 2270.2L585.0 2259.8L585.0 2258.8L585.5 2258.2L585.5 2257.2L585.0 2256.8L587.0 2254.8L587.0 2254.2L585.5 2252.2L586.0 2251.2L583.5 2248.8L584.0 2248.2L584.0 2247.2L585.5 2245.8L585.0 2245.2L586.0 2244.2L584.8 2242.5L584.2 2243.0L583.2 2242.0L575.8 2249.5L570.2 2244.0L569.5 2244.2L571.0 2245.8L570.0 2246.8L570.5 2247.2L570.0 2247.8L571.5 2249.8L569.0 2252.8L569.0 2253.8L569.5 2254.2L569.0 2256.8L560.2 2265.5L559.8 2265.5L547.8 2253.0L540.8 2260.0L535.2 2254.5L534.8 2254.5L530.8 2258.5L527.8 2255.5L527.2 2255.5L527.0 2256.8L529.0 2258.8L528.0 2259.8L531.5 2263.2L530.0 2265.8L534.5 2270.8L534.5 2271.8L532.0 2274.2L532.5 2275.2L532.0 2276.2L533.0 2277.2L532.5 2278.2L536.0 2281.8L535.5 2282.8L537.0 2284.8L531.5 2290.2L533.0 2292.8L531.0 2294.8L531.0 2295.8L530.0 2296.8L534.5 2301.8L533.5 2302.8L534.0 2303.8L533.5 2304.8L534.5 2305.8L534.0 2306.8L534.5 2307.8L525.8 2316.5L524.2 2316.0L523.2 2315.0L522.2 2315.5L520.2 2313.5L516.0 2317.8L516.5 2318.8L515.0 2320.2L515.5 2320.8L515.0 2321.2L515.0 2322.2L516.0 2323.2L515.5 2323.8L516.0 2324.8L499.8 2341.5ZM1452.2 2341.5L1436.0 2324.8L1437.0 2322.2L1437.0 2320.2L1435.5 2318.8L1436.5 2317.8L1432.2 2313.5L1430.2 2315.5L1428.8 2315.0L1426.8 2316.5L1418.0 2307.8L1418.0 2305.8L1418.5 2305.2L1418.5 2302.8L1418.0 2302.2L1418.0 2301.2L1422.0 2296.8L1421.0 2295.8L1421.5 2294.8L1419.5 2292.8L1419.5 2291.8L1420.5 2290.2L1415.0 2284.8L1416.5 2282.8L1416.5 2281.8L1419.5 2278.8L1419.0 2277.2L1420.0 2276.2L1419.5 2275.2L1420.0 2274.2L1417.5 2271.2L1422.5 2265.8L1420.5 2263.8L1420.5 2263.2L1424.0 2259.8L1423.0 2258.8L1425.5 2256.2L1424.8 2255.5L1421.2 2258.5L1417.2 2254.5L1416.8 2254.5L1411.2 2260.0L1404.2 2253.0L1392.2 2265.5L1383.0 2256.2L1383.5 2255.8L1382.5 2254.8L1383.5 2252.8L1380.5 2249.8L1382.0 2247.8L1381.5 2247.2L1382.0 2246.8L1381.0 2245.8L1382.5 2244.2L1382.2 2244.0L1381.8 2244.0L1376.2 2249.5L1368.8 2242.0L1366.0 2244.2L1367.0 2245.2L1366.5 2245.8L1368.0 2247.2L1368.5 2249.2L1366.0 2251.8L1366.5 2252.2L1365.0 2254.2L1367.0 2256.8L1366.5 2257.8L1367.0 2259.8L1356.0 2270.2L1355.5 2272.2L1346.8 2281.0L1337.5 2271.8L1337.5 2270.8L1337.0 2270.2L1338.0 2268.8L1336.0 2266.2L1336.0 2265.2L1337.0 2264.2L1336.5 2263.2L1338.5 2261.2L1338.5 2260.8L1335.0 2257.2L1335.0 2256.2L1330.5 2251.8L1331.5 2250.2L1331.5 2249.2L1334.5 2246.2L1334.0 2245.2L1335.0 2244.2L1334.5 2243.8L1335.0 2242.8L1333.0 2240.2L1337.0 2236.2L1336.5 2235.8L1337.0 2235.2L1336.5 2234.8L1343.5 2227.8L1343.5 2227.2L1342.2 2226.5L1341.2 2227.0L1334.8 2220.5L1333.2 2221.5L1332.2 2221.0L1330.2 2222.5L1321.5 2213.8L1321.5 2212.2L1322.5 2211.2L1321.5 2210.2L1322.0 2209.8L1321.0 2208.8L1322.5 2207.2L1322.0 2206.8L1322.5 2206.2L1320.2 2204.0L1311.2 2213.0L1309.2 2212.0L1303.8 2217.0L1303.2 2217.0L1294.5 2208.2L1294.5 2206.8L1295.0 2206.2L1294.0 2204.8L1296.5 2201.8L1294.5 2199.2L1295.0 2197.8L1292.5 2195.2L1292.5 2194.8L1296.0 2190.8L1295.0 2189.8L1295.0 2188.8L1302.0 2181.8L1302.0 2181.2L1299.8 2179.0L1298.8 2179.0L1290.0 2170.2L1291.0 2168.8L1290.2 2167.5L1289.8 2167.5L1287.2 2170.0L1286.2 2169.0L1283.8 2171.0L1282.2 2171.5L1273.5 2162.8L1274.0 2161.8L1273.5 2160.8L1275.0 2158.8L1274.0 2157.2L1274.5 2156.2L1273.0 2154.2L1275.5 2151.8L1275.0 2150.8L1280.0 2145.8L1273.2 2139.5L1270.8 2141.0L1262.0 2132.2L1262.5 2131.2L1262.0 2130.8L1263.5 2129.2L1263.0 2128.8L1263.5 2128.2L1262.0 2126.8L1267.5 2121.2L1267.5 2120.8L1265.8 2119.0L1264.2 2120.5L1255.5 2111.8L1257.0 2109.8L1256.0 2108.2L1259.0 2105.2L1259.0 2104.8L1251.5 2097.2L1253.5 2095.2L1253.0 2094.8L1261.8 2086.0L1270.5 2094.8L1268.5 2096.8L1269.0 2097.2L1268.0 2098.8L1276.0 2106.8L1274.5 2108.2L1281.0 2114.8L1278.0 2117.8L1284.5 2124.2L1284.0 2124.8L1289.0 2129.8L1288.0 2130.8L1288.5 2131.2L1288.0 2131.8L1292.0 2135.8L1290.5 2137.2L1295.0 2141.8L1292.0 2144.8L1293.2 2146.0L1294.2 2145.0L1303.0 2153.8L1302.5 2154.8L1308.5 2160.8L1307.0 2162.8L1313.5 2169.8L1312.5 2170.8L1315.5 2173.8L1314.5 2174.8L1318.0 2178.2L1317.5 2179.2L1319.8 2181.5L1320.2 2181.0L1322.2 2183.0L1322.8 2182.5L1336.5 2196.2L1336.5 2196.8L1340.5 2200.8L1340.0 2201.2L1350.0 2211.2L1350.0 2212.2L1354.5 2216.8L1354.0 2217.2L1354.5 2218.2L1356.5 2220.2L1356.0 2220.8L1357.2 2222.0L1357.8 2222.0L1359.8 2220.0L1361.2 2221.5L1362.8 2220.5L1363.8 2221.5L1365.2 2220.0L1366.8 2221.5L1367.8 2221.0L1368.8 2222.0L1370.2 2220.5L1371.8 2222.0L1372.2 2221.5L1373.2 2222.5L1374.2 2222.0L1377.8 2225.0L1379.8 2223.5L1380.8 2224.5L1381.8 2224.0L1382.8 2224.5L1383.2 2224.0L1386.2 2226.5L1387.2 2226.0L1388.8 2227.5L1391.2 2229.0L1395.2 2233.0L1397.8 2230.5L1398.8 2231.5L1399.8 2230.5L1400.8 2231.5L1401.8 2230.5L1403.2 2232.0L1403.8 2231.5L1404.8 2232.5L1406.2 2231.0L1407.2 2232.0L1407.8 2231.5L1409.2 2233.0L1409.8 2232.5L1413.2 2235.5L1415.2 2234.0L1416.2 2235.0L1417.2 2234.5L1418.2 2235.5L1419.8 2234.5L1423.8 2238.0L1425.2 2236.5L1427.2 2238.5L1427.8 2238.0L1429.8 2240.0L1431.2 2239.0L1434.2 2242.0L1434.8 2242.0L1437.5 2238.8L1437.0 2237.8L1441.5 2233.2L1441.5 2232.2L1449.0 2224.8L1449.0 2224.2L1452.0 2221.2L1451.5 2220.8L1465.5 2207.2L1465.5 2206.8L1468.5 2203.8L1468.0 2202.8L1485.8 2185.0L1486.2 2185.0L1489.2 2182.0L1489.8 2182.5L1490.5 2181.8L1490.0 2180.8L1492.0 2178.8L1491.0 2177.2L1492.5 2175.8L1492.0 2174.2L1494.0 2172.2L1493.5 2171.8L1495.0 2170.2L1494.0 2168.8L1495.5 2167.2L1495.0 2166.2L1496.5 2164.8L1496.0 2164.2L1500.0 2159.8L1499.0 2158.2L1500.0 2157.2L1500.0 2156.2L1501.5 2154.8L1500.5 2153.8L1504.0 2150.2L1503.5 2149.2L1506.5 2145.2L1512.0 2139.8L1512.0 2139.2L1510.0 2137.2L1512.0 2135.2L1511.0 2133.8L1512.5 2132.2L1512.0 2130.8L1514.0 2128.8L1513.5 2128.2L1515.5 2126.2L1514.0 2124.8L1516.0 2122.8L1515.5 2122.2L1517.5 2120.2L1516.5 2119.2L1522.0 2113.8L1522.0 2113.2L1520.0 2111.2L1522.5 2108.2L1521.5 2107.2L1523.5 2105.2L1522.5 2103.8L1525.5 2100.8L1525.0 2100.2L1528.5 2096.8L1526.5 2094.8L1530.0 2091.2L1529.0 2090.2L1533.0 2086.2L1533.0 2085.8L1531.0 2083.8L1539.0 2075.8L1539.0 2075.2L1536.0 2072.2L1539.5 2068.8L1531.0 2060.2L1533.0 2058.2L1529.0 2054.2L1530.0 2052.8L1526.5 2049.2L1528.5 2047.2L1525.0 2043.8L1525.5 2043.2L1522.5 2040.2L1523.5 2038.8L1521.5 2036.8L1522.0 2036.2L1522.0 2035.2L1520.0 2033.2L1522.5 2030.8L1516.5 2024.8L1517.5 2023.8L1515.5 2021.8L1516.0 2021.2L1514.0 2019.2L1515.5 2017.8L1513.5 2015.8L1514.0 2015.2L1512.0 2013.2L1512.5 2011.8L1511.0 2010.2L1512.0 2008.8L1510.0 2006.8L1512.0 2004.8L1512.0 2004.2L1506.5 1998.8L1503.5 1994.8L1503.5 1993.8L1500.5 1990.2L1501.0 1989.2L1500.0 1988.2L1500.5 1987.8L1500.0 1986.8L1499.0 1985.8L1500.0 1984.2L1496.0 1979.8L1496.5 1979.2L1495.0 1977.8L1495.5 1977.2L1494.0 1975.8L1495.0 1974.2L1493.5 1972.8L1494.0 1971.8L1492.0 1969.8L1493.0 1968.8L1491.0 1966.8L1492.0 1965.8L1490.0 1963.8L1491.0 1962.8L1489.8 1961.5L1489.2 1962.0L1486.2 1959.0L1485.8 1959.0L1468.0 1941.2L1468.0 1940.2L1464.0 1935.8L1464.5 1935.2L1463.8 1935.0L1460.8 1932.0L1460.2 1932.0L1451.5 1923.2L1449.0 1919.2L1437.0 1906.8L1437.5 1906.2L1437.5 1905.2L1434.2 1902.0L1431.2 1905.0L1429.8 1904.0L1427.8 1906.0L1427.2 1905.5L1425.2 1907.5L1423.8 1906.0L1419.8 1909.5L1418.2 1908.5L1417.2 1909.5L1416.2 1909.0L1415.2 1910.0L1413.8 1908.5L1413.2 1908.5L1409.8 1911.5L1409.2 1911.0L1407.8 1912.5L1407.2 1912.0L1406.2 1913.0L1404.8 1912.0L1403.8 1913.0L1402.8 1912.5L1401.8 1913.5L1400.8 1912.5L1399.8 1913.5L1398.8 1912.5L1397.8 1913.5L1395.8 1911.5L1395.2 1911.5L1391.2 1915.5L1390.8 1915.0L1387.2 1918.0L1386.2 1917.5L1383.2 1920.0L1382.8 1919.5L1381.8 1920.0L1380.8 1919.5L1379.8 1920.5L1378.2 1919.0L1377.8 1919.0L1374.2 1922.0L1373.8 1921.5L1372.2 1922.5L1371.8 1922.0L1370.2 1923.5L1368.8 1922.0L1367.8 1923.0L1366.8 1922.5L1365.2 1924.0L1364.2 1923.0L1362.8 1924.0L1361.2 1922.5L1359.8 1924.0L1357.8 1922.0L1356.0 1923.8L1356.5 1924.2L1354.5 1926.2L1354.5 1927.2L1350.0 1931.8L1349.5 1932.8L1350.0 1933.2L1340.5 1942.8L1336.5 1948.2L1322.8 1961.5L1322.2 1961.0L1320.2 1963.0L1319.8 1962.5L1317.5 1964.8L1318.0 1965.8L1314.5 1969.2L1315.5 1970.2L1312.5 1973.2L1313.5 1974.8L1307.0 1981.8L1308.5 1983.2L1302.5 1989.8L1303.0 1990.2L1302.2 1991.0L1294.2 1999.0L1293.2 1998.5L1292.0 1999.8L1295.0 2002.8L1291.0 2006.8L1292.0 2008.2L1288.0 2012.2L1289.0 2014.2L1284.0 2019.2L1284.5 2019.8L1278.0 2026.2L1281.0 2029.2L1274.5 2035.8L1276.0 2037.2L1268.0 2045.2L1269.0 2046.8L1268.5 2047.2L1270.5 2049.2L1261.8 2058.0L1253.0 2049.2L1253.5 2048.8L1251.5 2046.8L1259.0 2039.2L1259.0 2038.8L1256.0 2035.8L1257.0 2034.8L1256.0 2033.8L1255.5 2032.2L1264.2 2023.5L1265.8 2025.0L1267.5 2023.2L1262.0 2017.2L1263.5 2015.8L1263.0 2015.2L1263.5 2014.8L1262.0 2013.2L1262.5 2012.8L1262.0 2011.8L1270.8 2003.0L1272.8 2004.5L1273.8 2004.5L1280.0 1998.2L1275.0 1993.2L1275.5 1992.2L1273.0 1989.8L1274.5 1987.8L1274.0 1986.8L1275.0 1985.2L1273.5 1983.8L1274.0 1982.8L1273.5 1981.2L1282.2 1972.5L1283.8 1973.0L1286.2 1975.0L1287.2 1974.0L1289.8 1976.5L1290.2 1976.5L1290.5 1975.2L1290.0 1974.8L1290.0 1973.8L1298.8 1965.0L1299.8 1965.0L1302.0 1962.8L1302.0 1962.2L1295.0 1955.2L1295.0 1954.2L1296.0 1953.2L1292.5 1949.2L1292.5 1948.8L1295.0 1946.2L1294.5 1944.8L1296.5 1942.2L1294.0 1939.8L1295.0 1937.8L1294.5 1937.2L1294.5 1935.8L1303.2 1927.0L1303.8 1927.0L1309.2 1932.0L1311.2 1931.0L1320.2 1940.0L1322.0 1938.2L1322.0 1937.2L1322.5 1936.8L1321.0 1935.2L1322.0 1934.2L1321.5 1933.8L1322.0 1933.2L1321.5 1930.8L1330.2 1922.0L1331.2 1922.0L1334.2 1924.0L1341.2 1917.0L1342.8 1917.5L1343.5 1916.8L1343.5 1916.2L1336.5 1909.2L1337.0 1908.8L1336.5 1907.8L1333.0 1904.2L1333.5 1902.8L1335.0 1901.2L1334.5 1900.2L1335.0 1899.8L1334.0 1898.8L1334.0 1897.8L1331.5 1895.2L1331.5 1893.8L1330.5 1892.8L1330.5 1892.2L1335.0 1887.8L1335.0 1886.8L1338.5 1883.2L1338.5 1882.8L1336.5 1880.8L1337.0 1879.8L1336.0 1878.8L1336.0 1877.8L1338.0 1875.2L1337.0 1873.8L1337.5 1873.2L1337.5 1872.2L1346.2 1863.5L1346.8 1863.5L1355.5 1872.2L1356.0 1873.8L1367.0 1884.2L1367.0 1885.2L1366.5 1885.8L1367.0 1887.2L1365.0 1889.8L1366.5 1891.8L1366.0 1892.8L1368.5 1895.2L1368.0 1896.8L1366.5 1898.2L1367.0 1899.2L1366.5 1899.8L1366.5 1900.8L1368.8 1902.0L1369.2 1902.0L1376.2 1895.0L1381.8 1900.5L1382.0 1899.8L1381.0 1898.8L1382.0 1897.8L1381.5 1896.8L1382.0 1896.2L1380.5 1894.2L1383.5 1891.2L1382.5 1889.2L1383.0 1888.8L1383.0 1887.8L1392.2 1878.5L1401.0 1887.2L1402.0 1889.2L1403.8 1891.0L1404.2 1891.0L1411.2 1884.0L1417.2 1890.0L1421.2 1886.0L1424.8 1888.5L1425.5 1887.8L1423.0 1885.2L1424.0 1884.2L1420.5 1880.8L1422.5 1878.2L1417.5 1873.2L1418.5 1871.2L1420.0 1869.8L1419.5 1869.2L1420.5 1868.2L1419.0 1866.8L1419.5 1865.2L1416.5 1862.2L1416.5 1861.2L1415.0 1859.8L1415.0 1859.2L1420.5 1853.8L1419.5 1852.8L1419.5 1851.2L1421.5 1849.2L1421.0 1848.2L1422.0 1847.2L1418.0 1842.8L1418.0 1841.8L1418.5 1841.2L1418.0 1836.2L1426.8 1827.5L1428.8 1829.0L1430.2 1828.5L1432.2 1830.5L1436.5 1826.2L1435.5 1825.2L1437.0 1823.8L1437.0 1821.8L1436.0 1819.2L1452.2 1802.5L1461.0 1811.2L1461.0 1812.2L1461.5 1812.8L1461.0 1813.8L1462.0 1815.8L1461.5 1816.2L1461.5 1817.2L1460.0 1818.8L1462.0 1820.8L1461.5 1821.8L1464.0 1824.2L1463.5 1825.8L1461.5 1827.8L1462.0 1829.8L1457.5 1834.8L1457.5 1835.2L1464.5 1842.8L1464.0 1843.8L1464.5 1844.2L1463.5 1845.2L1472.5 1854.2L1470.0 1857.2L1470.5 1858.8L1465.5 1863.8L1466.0 1864.2L1466.0 1865.2L1464.0 1867.2L1464.5 1868.2L1463.5 1869.2L1466.0 1871.8L1466.0 1873.2L1467.0 1874.8L1460.5 1881.2L1461.0 1883.8L1452.2 1892.5L1450.8 1893.5L1448.5 1895.8L1448.5 1896.2L1449.2 1897.0L1450.2 1896.5L1456.2 1902.5L1456.8 1902.0L1457.2 1902.5L1459.2 1902.0L1468.0 1910.8L1468.0 1911.8L1467.5 1912.2L1467.8 1913.5L1470.8 1910.5L1472.2 1911.5L1475.2 1909.5L1484.0 1918.2L1484.0 1920.8L1483.5 1921.2L1483.5 1922.2L1484.0 1922.8L1483.5 1923.8L1484.5 1925.2L1483.0 1926.8L1483.5 1927.8L1480.0 1931.2L1480.8 1932.0L1481.8 1931.0L1482.2 1931.5L1483.8 1930.5L1491.2 1938.0L1491.5 1937.8L1491.0 1937.2L1491.5 1936.8L1491.5 1935.2L1500.2 1926.5L1503.8 1929.0L1507.8 1925.5L1508.8 1926.0L1510.8 1924.5L1519.5 1933.2L1519.5 1934.8L1518.5 1935.8L1519.5 1938.2L1516.5 1941.8L1517.0 1942.2L1517.0 1943.2L1518.0 1944.2L1517.0 1946.2L1520.0 1950.2L1515.5 1954.8L1516.0 1955.2L1516.0 1956.2L1508.0 1964.2L1508.0 1964.8L1509.5 1966.2L1509.0 1967.2L1512.5 1970.8L1512.5 1971.8L1519.0 1978.2L1518.5 1981.8L1516.0 1984.8L1516.8 1985.5L1517.2 1985.5L1520.8 1982.0L1522.2 1983.5L1523.2 1983.5L1524.2 1982.5L1525.2 1982.5L1525.8 1982.0L1534.5 1990.8L1534.5 1993.2L1533.0 1994.8L1533.5 1995.2L1533.5 1996.2L1533.0 1996.8L1534.5 1999.2L1527.5 2007.2L1529.5 2009.2L1529.5 2010.8L1541.5 2022.2L1541.5 2023.2L1540.5 2024.2L1541.0 2024.8L1540.5 2025.2L1541.0 2027.2L1537.0 2031.2L1545.5 2040.2L1545.5 2041.2L1545.0 2041.8L1545.0 2042.8L1545.5 2043.2L1542.5 2046.2L1544.2 2048.0L1549.5 2042.8L1547.5 2040.2L1548.5 2038.8L1548.0 2038.2L1548.0 2037.2L1557.0 2028.2L1556.5 2027.8L1556.5 2026.8L1555.5 2025.8L1556.5 2024.2L1556.0 2023.8L1557.0 2022.8L1556.0 2021.8L1556.5 2021.2L1556.5 2020.2L1565.2 2011.5L1567.2 2013.5L1568.2 2013.5L1570.2 2015.5L1573.0 2012.8L1572.5 2011.2L1571.0 2009.8L1572.0 2008.8L1570.5 2005.2L1573.5 2002.2L1572.5 2000.2L1573.5 1999.2L1573.5 1998.2L1582.2 1989.5L1591.5 1998.8L1592.0 2000.2L1593.2 2001.5L1593.8 2001.5L1598.2 1997.0L1598.8 1997.0L1602.8 2001.0L1603.0 2000.2L1602.5 1999.8L1603.0 1999.2L1601.5 1997.2L1603.5 1995.2L1603.0 1994.2L1604.0 1992.8L1602.5 1991.2L1603.0 1990.8L1602.5 1989.2L1611.2 1980.5L1612.8 1981.0L1620.8 1973.0L1629.5 1981.8L1629.5 1982.8L1630.0 1983.2L1629.5 1983.8L1629.5 1984.8L1630.5 1986.2L1629.5 1987.2L1629.5 1988.2L1628.0 1989.8L1630.5 1992.8L1630.0 1993.8L1633.0 1996.8L1630.5 1999.8L1630.5 2000.8L1629.5 2001.8L1630.5 2002.8L1630.5 2003.8L1628.5 2005.8L1628.5 2006.8L1625.0 2010.2L1625.0 2010.8L1625.2 2011.0L1625.8 2010.5L1626.2 2011.0L1627.2 2010.5L1634.2 2017.5L1635.2 2017.0L1637.2 2017.5L1639.2 2016.5L1648.0 2025.2L1647.0 2027.8L1647.5 2031.2L1643.5 2035.8L1652.5 2044.8L1652.5 2045.8L1652.0 2046.2L1652.0 2047.2L1652.5 2047.8L1650.0 2050.2L1650.0 2050.8L1651.2 2052.0L1653.5 2049.2L1653.0 2048.8L1662.2 2039.5L1665.2 2042.5L1665.8 2042.5L1671.8 2036.5L1674.8 2034.5L1683.5 2043.2L1683.5 2044.2L1684.0 2044.8L1683.0 2045.8L1684.5 2048.2L1683.5 2049.2L1684.0 2050.2L1683.0 2051.2L1688.8 2057.0L1691.2 2054.5L1691.8 2054.5L1700.5 2063.2L1700.5 2064.2L1708.0 2071.8L1708.0 2072.2L1700.5 2079.8L1700.5 2081.2L1691.8 2090.0L1689.2 2087.5L1688.8 2087.5L1683.0 2092.8L1684.0 2093.8L1683.5 2094.8L1684.5 2095.8L1683.0 2098.2L1684.0 2099.2L1683.5 2099.8L1683.5 2100.8L1674.8 2109.5L1671.8 2107.5L1665.8 2101.5L1662.2 2105.0L1653.5 2096.2L1653.0 2095.2L1653.5 2094.8L1651.2 2092.5L1650.5 2092.8L1650.0 2093.8L1652.5 2096.2L1652.0 2096.8L1652.5 2099.2L1643.5 2108.2L1647.5 2112.8L1647.0 2116.2L1648.0 2118.8L1639.2 2127.5L1638.2 2127.5L1637.2 2126.5L1636.2 2126.5L1635.8 2127.0L1634.2 2126.5L1627.2 2133.5L1626.2 2133.0L1625.8 2133.5L1625.2 2133.0L1625.0 2133.2L1625.0 2133.8L1628.5 2137.2L1628.5 2138.2L1630.5 2140.2L1630.5 2141.2L1629.5 2142.2L1630.5 2144.2L1633.0 2147.2L1630.0 2150.2L1630.5 2151.2L1628.0 2154.2L1629.5 2155.8L1629.5 2156.8L1630.5 2157.8L1629.5 2158.8L1630.0 2159.2L1629.5 2159.8L1630.0 2160.8L1629.5 2162.2L1620.8 2171.0L1612.2 2163.0L1611.2 2163.5L1602.5 2154.8L1603.0 2153.8L1602.5 2152.8L1604.0 2151.2L1603.0 2149.8L1603.0 2148.8L1601.5 2147.2L1601.5 2146.2L1603.0 2144.8L1602.5 2144.2L1603.0 2143.8L1602.8 2143.0L1598.8 2147.0L1598.2 2147.0L1593.8 2142.5L1593.2 2142.5L1592.0 2143.8L1591.5 2145.2L1582.2 2154.5L1573.5 2145.8L1573.5 2144.8L1572.5 2143.8L1573.5 2141.8L1570.5 2138.8L1572.0 2135.8L1571.0 2134.2L1572.5 2132.8L1573.0 2131.2L1570.2 2128.5L1568.2 2130.5L1567.2 2130.5L1565.2 2132.5L1556.5 2123.8L1556.5 2122.8L1556.0 2122.2L1557.0 2121.2L1556.0 2120.2L1556.5 2119.8L1555.5 2118.8L1556.5 2117.2L1556.5 2115.8L1548.0 2107.2L1548.0 2105.8L1548.5 2105.2L1547.5 2103.8L1549.5 2101.2L1544.2 2096.0L1542.5 2097.8L1545.5 2100.8L1545.0 2101.2L1545.5 2103.8L1537.0 2112.8L1541.0 2117.2L1540.5 2118.2L1541.0 2119.2L1540.5 2119.8L1541.5 2120.8L1541.5 2122.2L1532.8 2131.0L1531.8 2131.0L1529.5 2133.2L1529.5 2134.8L1527.5 2136.8L1528.0 2137.2L1527.5 2137.8L1534.5 2144.8L1533.0 2147.2L1533.5 2147.8L1533.0 2148.8L1534.5 2150.8L1534.5 2153.2L1525.8 2162.0L1524.8 2161.5L1524.2 2162.0L1522.8 2160.5L1520.8 2162.0L1517.2 2158.5L1516.8 2158.5L1516.0 2159.8L1518.5 2162.2L1519.0 2165.8L1512.5 2172.2L1512.5 2173.2L1509.0 2176.8L1509.5 2177.8L1508.0 2179.2L1508.0 2179.8L1516.0 2187.8L1516.0 2188.8L1515.5 2189.2L1520.0 2193.8L1520.0 2194.2L1517.5 2196.8L1517.5 2198.8L1518.0 2199.8L1517.0 2200.8L1517.0 2201.8L1516.5 2202.2L1519.5 2205.8L1519.0 2206.2L1519.5 2210.8L1510.8 2219.5L1510.2 2219.5L1508.8 2218.0L1507.8 2218.5L1503.8 2215.0L1500.2 2217.5L1491.5 2208.8L1491.5 2207.8L1491.0 2207.2L1491.2 2206.0L1483.8 2213.5L1482.2 2212.5L1481.8 2213.0L1480.8 2212.0L1480.0 2212.8L1483.5 2216.2L1483.0 2217.2L1484.5 2218.8L1484.5 2219.8L1483.5 2220.8L1484.0 2221.2L1483.5 2221.8L1483.5 2222.8L1484.0 2223.2L1484.0 2225.8L1475.2 2234.5L1474.8 2234.0L1474.2 2234.5L1472.2 2232.5L1470.8 2233.5L1467.8 2230.5L1467.5 2231.8L1468.0 2232.2L1468.0 2233.2L1459.2 2242.0L1458.2 2242.0L1457.8 2241.5L1456.8 2242.0L1456.2 2241.5L1450.2 2247.5L1449.2 2247.0L1448.5 2247.8L1449.2 2249.0L1461.0 2260.2L1460.0 2261.8L1460.5 2262.8L1467.0 2269.2L1466.0 2270.8L1466.0 2272.2L1463.5 2274.8L1464.5 2275.8L1464.0 2276.8L1466.0 2278.8L1466.0 2279.8L1465.5 2280.2L1470.5 2285.2L1470.0 2286.8L1472.5 2289.8L1463.5 2298.8L1464.5 2299.8L1464.0 2300.2L1464.5 2301.2L1461.0 2304.8L1459.5 2307.2L1457.5 2309.2L1462.0 2314.2L1461.5 2316.2L1463.5 2318.2L1464.0 2319.8L1461.5 2322.2L1462.0 2323.2L1460.0 2325.2L1462.0 2328.2L1461.0 2330.2L1461.5 2331.2L1461.0 2331.8L1461.0 2332.8L1452.2 2341.5ZM512.0 1881.8L513.0 1880.8L512.5 1879.8L513.5 1878.8L513.0 1877.8L514.0 1876.8L513.5 1876.2L514.5 1875.2L513.5 1874.2L515.0 1872.8L514.5 1872.2L515.5 1871.2L514.5 1870.2L515.0 1869.8L514.5 1868.8L515.0 1868.2L514.5 1867.8L515.5 1866.8L515.0 1866.2L515.5 1865.8L515.0 1865.2L515.5 1864.8L515.0 1863.8L515.5 1863.2L515.0 1862.8L516.0 1861.8L515.5 1860.8L516.0 1860.2L515.0 1859.2L515.5 1858.8L514.5 1857.8L515.0 1856.2L514.0 1855.2L514.5 1854.8L514.0 1854.2L514.5 1853.8L514.0 1853.2L514.5 1852.8L513.5 1851.2L514.0 1850.8L513.0 1849.8L513.5 1849.2L513.0 1848.8L513.5 1848.2L512.5 1846.8L513.0 1846.2L509.8 1844.0L508.2 1844.0L507.8 1843.5L506.5 1844.8L507.0 1845.8L506.0 1847.8L506.0 1849.2L505.0 1850.2L505.5 1850.8L504.5 1852.2L505.0 1852.8L504.0 1853.8L504.5 1854.2L503.0 1855.8L503.5 1856.2L503.0 1857.2L504.0 1858.2L503.5 1858.8L504.5 1860.8L504.0 1861.2L504.5 1861.8L504.0 1862.2L504.5 1863.2L504.0 1863.8L505.5 1866.2L505.0 1867.2L506.0 1868.8L505.5 1869.2L506.0 1869.8L505.5 1870.2L506.0 1870.8L505.0 1871.8L507.0 1873.8L510.0 1880.2L511.8 1882.0L512.0 1881.8ZM1441.0 1881.8L1442.5 1880.2L1442.0 1879.8L1445.0 1873.8L1447.0 1871.8L1446.0 1870.8L1446.5 1870.2L1446.0 1869.8L1447.0 1868.2L1446.5 1867.8L1447.0 1867.2L1446.5 1866.8L1447.5 1865.8L1447.0 1865.2L1448.0 1863.8L1447.5 1863.2L1448.0 1862.2L1447.5 1861.8L1448.5 1860.2L1448.0 1859.2L1449.5 1857.2L1448.5 1856.2L1449.0 1855.8L1448.0 1854.8L1447.5 1852.2L1446.5 1850.8L1447.0 1850.2L1446.0 1848.8L1446.0 1847.2L1445.5 1846.8L1445.5 1845.8L1446.0 1845.2L1444.2 1843.5L1443.8 1844.0L1442.2 1844.0L1439.0 1846.2L1439.5 1846.8L1439.0 1847.2L1439.5 1847.8L1438.5 1849.2L1439.0 1850.2L1437.5 1852.8L1438.0 1853.2L1437.5 1853.8L1438.0 1854.2L1437.5 1854.8L1438.0 1855.2L1437.0 1856.8L1437.5 1857.8L1436.5 1858.8L1437.0 1859.2L1436.0 1860.2L1436.5 1860.8L1436.0 1861.8L1437.0 1862.8L1436.5 1863.2L1437.0 1863.8L1436.5 1864.2L1437.5 1865.2L1437.0 1865.8L1437.5 1866.2L1437.0 1866.8L1437.5 1867.8L1437.0 1868.2L1438.0 1870.2L1437.0 1871.2L1437.5 1872.2L1437.0 1872.8L1438.5 1874.2L1438.0 1875.2L1439.0 1876.2L1438.5 1876.8L1439.5 1877.8L1438.5 1878.8L1439.5 1879.8L1439.0 1880.8L1440.2 1882.0L1441.0 1881.8ZM512.0 1882.8L511.5 1882.8L512.0 1882.8ZM1440.5 1882.8L1440.0 1882.8L1440.5 1882.8ZM341.0 2125.2L342.2 2124.5L342.8 2125.0L344.2 2124.0L345.2 2124.5L345.8 2124.0L346.2 2124.5L348.2 2123.0L349.2 2123.5L349.8 2123.0L350.8 2123.5L351.8 2123.0L353.2 2124.0L354.8 2122.5L356.8 2122.0L358.2 2121.0L358.8 2121.5L359.8 2121.5L361.2 2120.5L362.2 2121.0L363.2 2121.0L363.8 2120.5L364.2 2121.0L364.8 2120.5L365.2 2121.0L366.2 2121.0L380.5 2106.8L380.0 2105.8L386.0 2099.8L385.5 2098.8L387.0 2097.2L386.5 2096.8L388.0 2095.2L387.5 2094.2L392.0 2089.8L391.0 2088.8L393.5 2086.2L393.0 2085.8L396.5 2082.2L395.0 2080.8L401.0 2074.8L401.0 2074.2L399.0 2072.2L401.5 2069.8L395.0 2063.2L396.0 2061.8L393.0 2058.8L393.5 2058.2L391.0 2055.8L392.0 2054.2L387.5 2049.8L388.0 2048.8L386.5 2047.2L387.0 2046.8L385.5 2045.2L386.0 2044.2L380.0 2038.2L380.5 2037.8L378.0 2035.2L378.5 2034.8L377.8 2034.5L366.2 2023.0L365.8 2023.5L365.2 2023.0L364.8 2023.5L364.2 2023.0L363.8 2023.5L363.2 2023.0L362.8 2023.5L362.2 2023.0L361.2 2023.5L359.8 2022.5L357.8 2023.0L356.8 2022.0L355.8 2022.0L355.2 2021.5L354.8 2022.0L352.8 2020.0L351.8 2021.0L350.8 2020.5L350.2 2021.0L349.2 2020.5L348.2 2021.0L347.2 2020.0L346.2 2020.0L345.8 2020.5L342.8 2019.0L342.2 2019.5L341.8 2019.0L341.2 2019.5L340.2 2018.5L339.0 2020.8L334.5 2025.2L333.5 2027.2L326.0 2034.8L325.5 2035.8L326.0 2036.2L324.5 2038.8L325.0 2039.2L323.5 2041.2L323.0 2042.2L323.5 2042.8L321.5 2045.8L322.0 2046.2L319.0 2049.2L319.5 2050.2L319.0 2050.8L319.5 2051.2L318.0 2053.8L318.5 2054.2L317.5 2056.2L315.5 2058.2L316.5 2059.2L313.5 2063.8L314.0 2064.8L313.0 2065.8L313.5 2066.2L312.0 2067.8L312.5 2068.2L310.0 2070.8L311.0 2072.2L310.0 2073.2L312.5 2075.8L312.0 2076.8L313.5 2078.2L313.0 2078.8L314.0 2079.8L313.5 2080.2L316.0 2083.8L315.5 2084.2L316.5 2085.2L316.0 2086.2L317.5 2087.8L318.5 2089.8L318.0 2090.2L319.5 2092.8L319.0 2093.2L319.5 2093.8L319.0 2094.8L321.5 2097.2L322.0 2098.2L321.5 2098.8L323.5 2101.2L323.0 2101.8L325.0 2104.8L324.5 2105.2L326.0 2107.8L325.5 2108.2L326.0 2109.2L333.5 2116.8L334.5 2118.2L334.5 2119.2L340.0 2124.8L340.0 2125.2L341.0 2125.2ZM1612.0 2125.2L1617.5 2119.2L1619.0 2117.2L1618.5 2116.8L1626.0 2109.2L1627.0 2107.2L1626.5 2106.8L1627.5 2105.2L1627.0 2104.8L1629.5 2100.8L1629.0 2100.2L1630.5 2098.8L1631.0 2097.2L1633.5 2094.8L1632.5 2093.8L1633.5 2092.2L1633.0 2091.8L1634.5 2089.2L1634.0 2088.8L1636.5 2085.8L1636.0 2085.2L1636.5 2084.2L1636.0 2083.8L1638.5 2080.2L1638.0 2079.8L1639.0 2078.8L1638.5 2078.2L1640.0 2076.8L1639.5 2075.8L1642.0 2073.2L1641.0 2072.2L1642.0 2070.8L1639.5 2068.2L1640.0 2067.8L1638.5 2066.2L1639.0 2065.8L1638.0 2064.8L1638.5 2063.8L1636.0 2060.2L1636.5 2059.8L1636.0 2059.2L1636.5 2058.2L1634.5 2056.2L1634.0 2055.2L1634.5 2054.8L1633.0 2052.2L1633.5 2051.8L1632.5 2050.2L1633.5 2049.2L1630.5 2046.2L1630.0 2044.8L1629.0 2043.8L1629.5 2043.2L1627.0 2039.2L1627.5 2038.8L1626.5 2037.2L1627.0 2036.8L1626.0 2034.8L1618.5 2027.2L1619.0 2026.8L1613.0 2020.8L1613.5 2020.2L1611.8 2018.5L1610.8 2019.5L1610.2 2019.0L1609.8 2019.5L1609.2 2019.0L1608.2 2020.0L1607.8 2019.5L1606.8 2020.5L1605.8 2019.5L1603.8 2021.0L1602.8 2020.5L1602.2 2021.0L1601.2 2020.5L1600.2 2021.0L1599.2 2020.0L1597.2 2022.0L1596.8 2021.5L1594.2 2023.0L1593.2 2022.5L1592.2 2022.5L1590.8 2023.5L1589.8 2023.0L1589.2 2023.5L1588.8 2023.0L1588.2 2023.5L1587.8 2023.0L1587.2 2023.5L1586.8 2023.0L1586.2 2023.5L1585.8 2023.0L1574.2 2034.5L1573.5 2034.8L1574.0 2035.2L1571.5 2037.8L1572.0 2038.2L1566.0 2044.8L1566.5 2045.2L1565.0 2046.8L1565.5 2047.2L1564.0 2048.8L1564.5 2049.8L1560.0 2054.2L1561.0 2055.8L1558.5 2058.2L1559.0 2058.8L1556.0 2061.8L1557.0 2063.2L1551.0 2069.2L1551.0 2069.8L1553.5 2072.2L1551.0 2074.8L1557.0 2080.8L1555.5 2082.2L1559.0 2085.8L1558.5 2086.2L1561.0 2088.8L1560.0 2089.8L1564.5 2094.2L1564.0 2095.2L1565.5 2096.8L1565.0 2097.2L1566.5 2098.8L1566.0 2099.2L1572.0 2105.8L1571.5 2106.2L1573.0 2107.8L1573.0 2108.2L1585.8 2121.0L1586.8 2121.0L1587.2 2120.5L1587.8 2121.0L1588.2 2120.5L1588.8 2121.0L1589.8 2121.0L1590.8 2120.5L1592.2 2121.5L1593.2 2121.5L1593.8 2121.0L1594.8 2122.0L1595.2 2121.5L1597.2 2122.5L1598.8 2124.0L1600.2 2123.0L1601.2 2123.5L1601.8 2123.0L1602.8 2123.5L1603.8 2123.0L1605.8 2124.5L1606.8 2124.0L1607.8 2124.5L1608.2 2124.0L1609.2 2125.0L1609.8 2124.5L1611.2 2125.5L1612.0 2125.2ZM285.0 2082.8L285.8 2082.0L286.2 2082.5L286.8 2082.0L288.8 2082.0L290.0 2080.8L289.5 2080.2L292.0 2077.2L291.5 2076.8L294.5 2073.8L293.5 2072.2L294.5 2070.8L291.5 2067.8L292.0 2066.8L290.5 2065.2L289.5 2063.8L290.0 2063.2L288.8 2062.0L286.8 2062.0L286.2 2061.5L285.8 2062.0L284.8 2061.0L284.2 2061.5L282.8 2061.5L282.2 2061.0L281.0 2062.2L281.0 2063.2L279.5 2065.2L279.5 2066.8L278.0 2068.8L278.5 2069.2L278.0 2070.2L276.5 2071.8L278.0 2073.8L277.5 2074.2L279.5 2077.2L279.0 2077.8L279.5 2078.2L279.5 2079.2L280.5 2080.2L281.5 2082.8L285.0 2082.8ZM1670.5 2082.8L1671.5 2080.2L1672.5 2079.2L1673.0 2076.8L1674.5 2074.8L1674.0 2073.8L1675.5 2071.8L1674.0 2070.2L1674.5 2069.8L1672.5 2066.2L1672.0 2064.2L1671.0 2063.2L1671.5 2062.8L1670.8 2061.5L1669.8 2061.0L1669.2 2061.5L1667.2 2061.5L1666.8 2062.0L1663.8 2062.0L1660.0 2066.8L1660.5 2067.8L1657.5 2070.8L1658.5 2072.2L1657.5 2073.8L1660.5 2076.8L1660.0 2077.2L1663.8 2082.0L1666.2 2082.0L1667.8 2083.0L1668.2 2082.5L1669.2 2082.5L1669.8 2083.0L1670.5 2082.8ZM699.8 2081.0L691.0 2072.2L699.8 2063.5L708.5 2072.2L699.8 2081.0ZM1252.2 2081.0L1243.5 2072.2L1252.2 2063.5L1261.0 2072.2L1252.2 2081.0ZM976.2 2636.5L967.0 2627.2L967.0 2626.2L966.0 2625.2L966.5 2624.8L966.5 2622.8L963.5 2619.8L965.0 2616.8L964.0 2615.8L966.0 2613.2L955.0 2602.8L956.0 2601.2L956.0 2599.8L959.0 2596.8L958.0 2595.2L959.0 2593.8L959.0 2592.2L957.5 2590.8L957.0 2589.2L961.0 2585.2L960.0 2584.2L960.0 2582.8L962.5 2580.2L962.0 2579.8L963.5 2577.8L958.2 2572.5L957.2 2573.0L956.2 2572.5L954.8 2573.5L946.0 2564.8L946.0 2563.2L946.5 2562.8L946.0 2560.2L948.5 2557.8L948.5 2557.2L945.2 2554.0L944.8 2554.0L940.8 2558.0L937.8 2555.0L935.8 2556.5L934.8 2555.5L933.8 2556.0L925.0 2547.2L925.5 2543.8L928.0 2541.2L927.5 2539.8L928.5 2537.8L927.5 2536.8L927.5 2535.2L936.0 2526.8L936.0 2525.8L938.0 2523.8L937.0 2522.8L937.0 2521.8L934.0 2518.2L935.0 2516.2L938.0 2512.8L936.0 2510.2L937.0 2508.2L931.5 2502.8L931.5 2501.8L928.5 2498.2L932.0 2494.8L932.0 2493.8L940.8 2485.0L942.0 2484.2L941.5 2483.2L943.0 2481.8L942.5 2480.8L943.0 2480.2L940.0 2477.2L940.0 2475.8L938.5 2473.2L947.8 2464.0L948.5 2463.8L947.5 2462.8L948.5 2461.8L947.0 2459.8L953.5 2453.2L953.5 2452.2L954.0 2451.8L962.2 2443.5L962.8 2444.0L966.5 2440.2L965.8 2439.5L963.8 2441.5L959.2 2437.0L958.2 2438.0L957.8 2437.5L956.2 2438.5L949.2 2431.5L947.2 2433.5L946.2 2433.0L944.2 2434.5L935.5 2425.8L935.5 2424.8L936.5 2423.2L935.2 2421.5L929.2 2427.5L927.8 2426.5L924.2 2430.0L915.5 2421.2L915.5 2419.2L915.0 2418.8L916.5 2417.2L916.5 2416.8L915.5 2415.8L915.5 2414.8L914.0 2413.2L916.0 2411.2L915.5 2409.2L917.5 2406.2L916.2 2405.5L912.2 2409.0L906.8 2403.5L906.2 2403.5L903.5 2406.8L904.5 2407.8L904.5 2410.8L895.8 2419.5L895.2 2419.5L893.8 2418.0L886.2 2425.0L877.0 2415.8L877.5 2415.2L877.0 2414.8L878.0 2413.8L876.5 2411.8L877.5 2410.8L877.5 2409.8L879.0 2408.2L877.0 2405.2L877.5 2404.2L874.5 2401.2L875.0 2399.2L878.0 2395.8L876.5 2393.2L884.0 2385.8L884.0 2385.2L881.2 2382.5L879.2 2383.0L878.2 2384.0L870.2 2376.0L869.8 2376.0L866.2 2379.5L865.2 2379.5L862.2 2382.5L853.5 2373.8L853.0 2371.8L854.0 2370.2L851.5 2367.2L853.0 2365.8L852.5 2365.2L853.0 2364.8L852.5 2363.8L854.5 2361.8L854.5 2361.2L853.8 2360.5L849.2 2365.0L840.5 2356.2L839.8 2355.0L837.5 2357.2L837.5 2357.8L838.5 2358.8L838.0 2359.8L840.0 2361.8L840.0 2362.8L840.5 2363.2L837.0 2366.8L838.0 2367.8L836.5 2369.2L837.0 2369.8L836.5 2370.2L839.0 2372.8L839.0 2374.8L839.5 2375.8L831.5 2383.8L831.5 2384.2L833.5 2386.2L833.0 2386.8L834.0 2387.8L834.0 2388.8L833.0 2390.2L833.5 2391.2L833.0 2392.8L824.2 2401.5L818.8 2396.5L818.2 2396.5L816.0 2398.8L816.0 2399.8L807.2 2408.5L806.8 2408.0L805.8 2408.0L800.8 2412.5L800.2 2412.5L791.5 2403.8L791.5 2402.8L792.0 2402.2L791.5 2399.8L793.0 2397.8L792.0 2395.8L792.5 2394.8L791.0 2392.8L791.0 2391.8L793.0 2389.8L793.0 2388.2L797.0 2384.2L796.0 2383.2L796.5 2382.8L795.0 2381.2L795.0 2380.2L795.5 2379.8L792.5 2376.8L793.0 2375.2L794.5 2373.8L794.0 2373.2L794.0 2372.2L787.0 2364.2L787.0 2363.8L797.0 2353.2L796.5 2352.8L797.0 2351.8L795.0 2349.8L795.5 2349.2L794.5 2347.2L803.8 2338.0L804.2 2338.5L810.8 2332.0L812.8 2333.0L815.5 2330.2L812.0 2326.8L812.5 2325.8L807.5 2320.8L808.5 2319.8L799.5 2310.8L801.0 2308.2L800.5 2307.2L803.5 2303.8L801.2 2301.5L797.2 2305.5L794.8 2303.5L793.2 2305.0L791.8 2305.0L783.0 2296.2L783.5 2295.8L783.5 2294.2L785.0 2292.8L784.5 2292.2L785.0 2291.8L784.5 2291.2L785.0 2290.8L783.5 2288.2L790.0 2281.2L790.0 2280.8L787.5 2278.2L788.0 2277.8L787.8 2277.5L786.8 2277.0L785.2 2278.0L776.5 2269.2L777.0 2267.2L776.0 2265.8L777.0 2264.8L776.8 2264.5L774.0 2267.2L774.5 2268.2L773.5 2269.2L773.5 2270.2L764.8 2279.0L761.2 2275.5L760.2 2276.5L759.2 2276.0L755.8 2279.5L755.2 2279.0L754.2 2279.0L752.8 2280.5L752.2 2280.5L743.5 2271.8L743.5 2269.8L744.5 2268.8L744.0 2268.2L744.5 2267.2L743.5 2265.8L747.0 2262.2L746.5 2261.2L747.0 2260.2L745.5 2258.8L745.5 2257.8L746.5 2256.2L746.0 2255.8L746.0 2254.8L743.5 2251.8L743.5 2250.8L749.0 2245.2L748.0 2243.2L756.8 2234.5L757.8 2235.0L758.2 2234.5L758.8 2235.0L759.5 2233.8L757.0 2231.2L758.0 2229.8L753.0 2224.8L754.5 2223.2L753.8 2223.0L745.0 2214.2L745.0 2212.8L746.0 2211.8L745.5 2211.2L746.0 2210.8L745.5 2209.8L749.5 2205.8L749.5 2205.2L744.8 2200.5L744.2 2200.5L739.2 2205.5L738.8 2205.5L736.2 2203.0L735.8 2203.0L733.8 2205.0L731.8 2205.5L723.0 2196.8L723.5 2193.2L725.5 2191.2L725.0 2190.8L725.5 2190.2L724.5 2189.2L725.5 2187.2L723.5 2185.2L723.5 2184.8L726.5 2181.8L726.5 2180.8L733.5 2173.8L733.0 2173.2L733.5 2172.8L730.0 2169.2L730.5 2168.2L725.0 2162.8L726.0 2161.2L725.5 2160.2L728.0 2157.8L727.8 2157.5L724.8 2160.5L723.2 2159.0L720.2 2160.5L711.5 2151.8L712.0 2149.8L713.5 2148.2L712.5 2146.8L713.5 2145.8L712.0 2144.2L719.0 2136.8L719.0 2136.2L714.2 2131.5L713.2 2132.0L704.5 2123.2L706.5 2120.8L706.5 2120.2L705.0 2118.8L710.5 2113.2L710.5 2112.8L709.8 2112.5L708.8 2113.5L700.0 2104.8L706.0 2098.2L699.0 2091.2L707.8 2082.5L716.5 2091.2L713.5 2094.2L720.5 2101.2L718.5 2103.2L724.0 2108.8L721.0 2111.8L726.5 2117.2L726.0 2118.2L730.5 2122.8L728.5 2124.8L732.5 2128.8L731.0 2130.8L734.5 2134.2L731.5 2137.2L731.5 2137.8L740.0 2146.8L739.5 2147.8L742.5 2150.8L741.5 2151.8L744.5 2154.8L742.5 2156.8L745.5 2159.8L745.0 2160.8L748.0 2163.8L746.5 2165.2L746.5 2165.8L749.0 2168.2L747.5 2170.2L750.5 2173.2L747.5 2176.2L747.5 2176.8L756.0 2185.2L755.5 2185.8L760.5 2190.8L759.0 2192.2L764.0 2197.8L763.0 2198.8L765.0 2200.8L764.5 2201.8L766.5 2203.8L764.0 2206.2L770.0 2212.2L769.0 2213.2L771.5 2215.8L771.0 2216.8L772.5 2218.2L771.0 2220.2L773.5 2222.8L772.5 2223.8L775.0 2226.2L773.5 2227.8L773.5 2228.2L776.0 2230.8L774.5 2232.2L777.5 2235.2L775.0 2237.8L779.2 2242.0L779.8 2241.5L788.5 2250.2L788.0 2250.8L794.0 2257.2L793.5 2257.8L795.5 2259.8L795.0 2260.8L799.5 2265.2L799.5 2265.8L802.5 2269.2L801.5 2270.2L803.5 2272.2L803.0 2272.8L805.0 2274.8L804.5 2275.8L806.0 2277.2L805.5 2278.2L807.5 2280.2L805.5 2282.2L815.0 2292.2L814.5 2292.8L816.5 2294.8L818.0 2296.8L817.5 2297.2L819.5 2299.2L818.5 2300.2L820.5 2302.2L819.0 2303.8L824.0 2309.2L823.5 2309.8L825.5 2311.8L825.0 2312.2L827.0 2314.2L825.5 2315.8L825.5 2316.2L827.5 2318.2L827.0 2318.8L830.0 2321.8L828.5 2323.2L831.0 2325.8L829.5 2327.2L833.0 2330.8L830.0 2333.8L830.2 2334.0L832.8 2331.5L834.8 2333.5L836.2 2332.5L837.8 2334.0L838.8 2333.0L841.2 2335.5L841.8 2335.0L843.2 2336.0L844.2 2335.0L845.8 2336.5L846.2 2336.0L851.8 2341.0L853.2 2340.0L855.8 2342.0L856.8 2341.5L868.2 2352.5L868.8 2352.0L869.8 2353.0L870.8 2352.5L871.8 2353.5L872.2 2353.0L875.2 2355.5L875.8 2355.0L894.5 2373.2L894.5 2373.8L898.0 2377.2L897.5 2378.2L898.2 2379.0L899.2 2378.5L900.8 2380.0L901.8 2379.0L902.8 2380.0L903.8 2379.0L906.8 2381.5L908.2 2380.5L911.2 2383.0L911.8 2382.5L915.2 2386.0L916.2 2385.0L918.8 2387.0L919.8 2386.5L933.8 2399.5L934.8 2398.5L936.2 2400.0L936.8 2399.5L940.2 2403.0L941.2 2402.0L950.2 2410.5L950.8 2410.0L952.8 2412.0L953.2 2411.5L955.2 2413.5L955.8 2413.0L961.2 2418.5L961.8 2418.0L975.8 2432.0L976.2 2432.0L990.2 2418.0L990.8 2418.5L996.2 2413.0L996.8 2413.5L998.8 2411.5L999.2 2412.0L1001.2 2410.0L1001.8 2410.5L1010.8 2402.0L1011.8 2403.0L1015.2 2399.5L1015.8 2400.0L1017.2 2398.5L1018.2 2399.5L1028.8 2389.5L1029.2 2390.0L1032.8 2386.5L1033.2 2387.0L1035.8 2385.0L1037.2 2386.0L1040.8 2382.5L1043.8 2380.5L1045.2 2381.5L1048.2 2379.0L1049.2 2380.0L1050.2 2379.0L1051.2 2380.0L1052.8 2378.5L1053.8 2379.0L1055.0 2377.8L1054.5 2377.2L1058.0 2373.8L1057.5 2373.2L1076.2 2355.0L1077.2 2355.5L1079.8 2353.0L1080.2 2353.5L1081.2 2352.5L1082.2 2353.0L1083.2 2352.0L1083.8 2352.5L1091.8 2344.5L1092.2 2345.0L1095.8 2341.5L1096.2 2342.0L1097.2 2341.0L1097.8 2341.5L1099.2 2340.0L1100.8 2341.0L1104.2 2337.5L1107.8 2335.0L1109.2 2336.5L1113.2 2333.0L1114.2 2334.0L1115.8 2332.5L1117.2 2333.5L1119.2 2331.5L1121.8 2334.0L1122.0 2333.8L1122.0 2333.2L1119.5 2330.8L1122.5 2327.8L1121.0 2325.8L1123.5 2323.2L1122.5 2321.8L1125.0 2319.2L1124.5 2318.2L1127.0 2315.8L1125.5 2314.2L1127.5 2312.2L1127.0 2311.8L1128.5 2310.2L1128.0 2309.2L1133.0 2303.8L1131.5 2302.2L1133.5 2300.2L1133.0 2299.2L1134.5 2297.8L1134.0 2296.8L1137.5 2292.8L1137.0 2292.2L1138.5 2290.2L1146.5 2282.2L1145.0 2280.2L1147.0 2278.2L1146.0 2277.2L1147.5 2275.8L1147.0 2274.8L1149.0 2272.8L1148.5 2272.2L1150.5 2270.2L1149.5 2269.2L1152.5 2265.2L1157.0 2260.8L1156.5 2259.8L1158.5 2257.8L1158.0 2257.2L1164.0 2250.8L1163.5 2250.2L1172.2 2241.5L1172.8 2242.0L1177.0 2237.8L1177.0 2237.2L1175.0 2235.2L1177.5 2232.8L1177.5 2232.2L1176.0 2230.8L1178.5 2228.2L1178.5 2227.8L1177.0 2226.2L1179.5 2223.8L1178.5 2222.8L1181.0 2220.2L1181.0 2219.8L1179.5 2218.2L1181.5 2216.2L1181.0 2215.8L1183.0 2213.8L1182.0 2212.2L1188.0 2206.2L1185.5 2203.8L1187.5 2201.8L1187.0 2200.8L1189.0 2198.8L1188.0 2197.8L1193.0 2192.2L1192.0 2190.8L1196.5 2185.8L1196.0 2185.2L1204.5 2176.8L1204.5 2176.2L1201.5 2173.2L1204.5 2170.2L1203.0 2168.2L1206.0 2165.2L1204.5 2163.8L1207.5 2160.8L1206.5 2159.8L1209.5 2156.8L1209.5 2156.2L1208.0 2154.8L1211.0 2151.8L1210.0 2150.8L1213.0 2147.8L1212.0 2146.8L1220.5 2137.8L1220.5 2137.2L1217.5 2134.2L1221.0 2130.8L1221.0 2130.2L1219.5 2128.8L1223.5 2124.8L1221.5 2122.8L1226.0 2118.2L1225.5 2117.2L1231.0 2111.8L1228.0 2108.8L1233.5 2103.2L1233.5 2102.8L1232.0 2101.2L1239.0 2094.2L1236.0 2091.2L1244.8 2082.5L1253.5 2091.2L1246.5 2098.2L1249.5 2101.2L1249.0 2101.8L1252.0 2104.8L1243.2 2113.5L1242.2 2112.5L1241.5 2112.8L1241.5 2113.2L1247.0 2118.8L1245.5 2120.8L1247.5 2123.2L1238.8 2132.0L1237.8 2131.5L1233.0 2136.2L1233.0 2136.8L1240.0 2144.2L1238.5 2145.8L1239.5 2146.8L1238.5 2148.2L1240.0 2149.8L1240.5 2151.8L1231.8 2160.5L1231.2 2160.0L1230.2 2160.0L1229.2 2159.0L1227.2 2160.5L1224.2 2157.5L1224.0 2157.8L1226.5 2160.2L1226.0 2161.2L1227.0 2162.8L1221.5 2168.2L1222.0 2169.2L1218.5 2172.8L1219.0 2173.2L1218.5 2173.8L1229.0 2184.8L1227.0 2186.8L1227.5 2189.2L1226.5 2190.2L1229.0 2193.2L1228.5 2194.2L1229.0 2196.8L1220.2 2205.5L1218.2 2205.0L1216.2 2203.0L1213.2 2205.5L1207.8 2200.0L1202.5 2205.2L1206.5 2209.8L1206.0 2210.8L1206.5 2211.2L1206.0 2211.8L1207.0 2212.8L1207.0 2213.8L1207.5 2214.2L1198.8 2223.0L1198.0 2223.2L1199.0 2224.8L1194.0 2229.8L1195.0 2231.2L1192.5 2233.8L1193.2 2235.0L1195.2 2234.5L1204.0 2243.2L1203.5 2245.8L1209.0 2251.2L1206.0 2254.8L1206.0 2255.8L1205.5 2256.2L1206.5 2257.8L1206.5 2258.8L1205.0 2260.2L1205.5 2260.8L1205.0 2262.2L1208.5 2265.8L1208.0 2266.8L1208.5 2271.8L1199.8 2280.5L1197.8 2279.0L1196.8 2279.0L1196.2 2279.5L1192.8 2276.0L1191.8 2276.5L1190.8 2276.0L1187.8 2279.0L1187.2 2279.0L1178.5 2270.2L1178.0 2267.2L1175.2 2264.5L1175.0 2264.8L1176.0 2265.8L1175.0 2267.2L1175.5 2269.2L1166.8 2278.0L1165.2 2277.0L1162.0 2280.8L1162.0 2281.2L1168.5 2288.2L1167.5 2289.8L1167.5 2290.8L1168.0 2291.2L1167.0 2292.8L1168.5 2294.2L1169.0 2296.2L1160.2 2305.0L1159.2 2304.5L1158.8 2305.0L1157.2 2303.5L1155.2 2305.5L1151.2 2301.5L1149.0 2303.8L1149.0 2304.2L1152.0 2307.2L1151.0 2308.2L1152.5 2310.8L1143.5 2319.8L1144.5 2320.8L1139.5 2325.8L1140.0 2326.8L1136.5 2330.2L1139.2 2333.0L1141.8 2332.0L1157.5 2347.2L1156.5 2349.2L1157.0 2349.8L1155.0 2352.2L1155.5 2353.2L1163.0 2360.8L1163.0 2361.8L1165.0 2363.8L1163.0 2366.8L1159.0 2370.8L1159.5 2371.2L1158.0 2372.8L1158.5 2373.2L1158.0 2374.2L1159.0 2375.2L1159.5 2376.8L1156.5 2379.8L1157.0 2380.2L1157.0 2381.2L1155.5 2382.8L1156.0 2383.2L1155.0 2384.2L1159.0 2388.2L1159.0 2389.8L1161.5 2392.2L1159.5 2394.8L1160.0 2395.8L1159.0 2397.8L1159.0 2398.2L1160.5 2399.8L1160.0 2400.8L1160.5 2401.2L1160.0 2401.8L1160.5 2402.2L1160.5 2403.8L1151.8 2412.5L1151.2 2412.5L1146.2 2407.5L1144.8 2408.5L1136.0 2399.8L1136.0 2398.8L1133.8 2396.5L1133.2 2396.5L1127.8 2401.5L1125.2 2399.0L1119.0 2392.8L1118.5 2391.8L1119.0 2390.8L1118.5 2389.8L1119.0 2389.2L1118.0 2387.8L1119.0 2386.8L1119.0 2385.8L1120.5 2383.8L1112.5 2375.8L1113.5 2373.8L1113.0 2372.8L1115.5 2370.2L1115.0 2369.8L1115.5 2369.2L1114.0 2367.8L1115.0 2366.8L1111.5 2363.2L1114.5 2359.8L1114.0 2358.8L1115.0 2357.8L1112.8 2355.5L1112.2 2355.5L1112.0 2356.2L1103.2 2365.0L1102.8 2365.0L1098.2 2360.5L1097.5 2361.2L1099.5 2363.8L1099.0 2364.8L1099.5 2365.2L1099.0 2365.8L1100.5 2367.2L1098.0 2370.2L1099.0 2371.2L1099.0 2373.8L1090.2 2382.5L1089.8 2382.5L1086.8 2379.5L1085.8 2379.5L1082.2 2376.0L1074.2 2384.0L1071.2 2382.0L1068.0 2385.2L1068.0 2385.8L1075.5 2393.2L1074.0 2395.8L1077.0 2399.2L1077.5 2401.2L1074.5 2404.2L1075.0 2404.8L1075.0 2405.8L1073.0 2408.2L1074.5 2409.8L1074.5 2410.8L1075.5 2411.8L1074.5 2413.2L1075.0 2414.2L1075.0 2416.2L1066.2 2425.0L1064.2 2423.0L1063.2 2423.0L1058.2 2418.0L1056.8 2419.5L1047.5 2410.2L1048.0 2409.8L1047.5 2408.2L1048.5 2406.8L1048.0 2405.8L1045.8 2403.5L1045.2 2403.5L1039.8 2409.0L1035.8 2405.5L1034.5 2406.2L1035.5 2408.2L1037.0 2409.8L1036.0 2411.2L1038.0 2413.2L1036.5 2414.8L1037.0 2415.8L1035.5 2417.2L1037.0 2418.8L1036.5 2419.2L1037.0 2420.8L1027.8 2430.0L1024.2 2426.5L1023.2 2427.5L1017.2 2421.5L1016.8 2421.5L1016.0 2422.2L1016.5 2422.8L1015.5 2423.8L1016.5 2424.8L1016.5 2425.8L1007.8 2434.5L1005.8 2433.0L1004.8 2433.5L1002.8 2431.5L995.8 2438.5L994.2 2438.0L993.2 2437.0L988.8 2441.5L988.2 2441.5L986.2 2439.5L985.5 2440.2L989.2 2444.0L989.8 2443.5L998.5 2452.2L998.5 2453.2L1005.0 2459.8L1005.0 2460.2L1003.5 2461.8L1004.5 2462.8L1003.5 2463.8L1004.2 2464.0L1013.5 2473.2L1012.0 2475.8L1012.5 2476.8L1009.0 2480.2L1009.5 2480.8L1009.0 2481.8L1010.5 2483.2L1010.0 2484.2L1011.2 2485.0L1020.0 2493.8L1020.0 2494.8L1023.5 2498.2L1020.5 2501.8L1020.5 2502.8L1015.0 2508.2L1016.0 2510.2L1014.0 2512.8L1017.0 2516.2L1018.0 2518.2L1015.0 2521.8L1015.0 2522.8L1014.0 2523.8L1025.0 2535.2L1024.5 2535.8L1024.5 2536.8L1023.5 2537.8L1024.5 2539.8L1024.0 2541.2L1026.5 2543.8L1026.5 2545.2L1027.5 2547.2L1018.8 2556.0L1017.8 2556.0L1017.2 2555.5L1016.2 2556.5L1014.2 2555.0L1011.2 2558.0L1007.2 2554.0L1006.8 2554.0L1003.5 2557.2L1003.5 2557.8L1006.0 2560.2L1005.5 2561.2L1006.0 2564.8L997.2 2573.5L995.8 2572.5L994.8 2573.0L993.8 2572.5L988.5 2577.8L990.0 2579.8L990.0 2580.8L992.0 2582.8L992.0 2584.2L991.0 2585.2L995.0 2589.2L994.5 2590.8L993.0 2592.2L993.5 2592.8L993.0 2593.8L994.0 2594.8L993.0 2596.8L996.0 2599.8L996.0 2601.2L997.0 2602.8L987.8 2612.0L986.5 2612.8L987.0 2614.8L988.0 2615.8L987.5 2618.2L988.5 2620.2L985.5 2623.2L986.0 2625.2L985.0 2626.2L985.0 2627.8L976.2 2636.5ZM508.0 2300.2L509.8 2300.0L513.0 2297.8L512.5 2297.2L513.5 2295.8L513.0 2295.2L513.5 2294.8L513.0 2294.2L514.0 2293.2L513.5 2292.8L514.5 2291.2L514.0 2290.8L514.5 2290.2L514.0 2289.2L515.0 2287.8L514.5 2287.2L515.0 2286.8L514.5 2286.2L516.0 2284.2L515.5 2283.2L516.0 2282.8L515.0 2281.8L515.5 2281.2L515.0 2280.2L515.5 2279.8L515.0 2279.2L515.5 2278.8L515.0 2277.8L515.5 2277.2L514.5 2276.2L515.0 2275.8L514.5 2275.2L515.0 2274.8L514.5 2273.8L515.5 2272.8L514.5 2271.8L515.0 2271.2L513.5 2269.8L514.0 2269.2L513.5 2268.2L514.0 2267.2L513.0 2266.2L513.5 2265.8L512.5 2264.2L513.0 2263.2L511.8 2262.0L509.5 2264.2L510.0 2264.8L509.0 2266.8L507.5 2268.2L508.0 2268.8L505.5 2272.2L506.0 2273.2L505.5 2273.8L506.0 2274.2L505.5 2274.8L506.0 2275.2L505.0 2276.8L505.5 2277.8L504.0 2280.2L504.5 2280.8L504.0 2281.2L504.5 2281.8L504.0 2282.8L504.5 2283.2L503.5 2284.8L504.0 2285.2L503.5 2285.8L504.0 2286.2L503.0 2287.2L503.5 2287.8L503.0 2288.2L504.5 2290.2L504.5 2291.2L505.5 2293.2L505.0 2293.8L506.0 2294.8L506.0 2296.2L507.0 2298.8L506.5 2299.2L507.8 2300.5L508.0 2300.2ZM1444.5 2300.2L1446.0 2298.2L1445.5 2297.2L1446.5 2296.2L1446.0 2295.8L1447.0 2293.8L1446.5 2293.2L1448.0 2291.2L1447.5 2290.8L1448.5 2289.8L1448.0 2289.2L1449.0 2288.2L1448.5 2287.8L1449.0 2286.8L1448.0 2285.2L1448.5 2284.8L1448.0 2284.2L1448.5 2283.8L1447.5 2282.2L1448.0 2281.2L1447.5 2280.8L1448.0 2280.2L1447.0 2278.8L1447.5 2278.2L1446.5 2277.2L1447.0 2276.8L1446.5 2276.2L1447.0 2275.8L1446.0 2274.2L1446.5 2273.8L1446.0 2273.2L1446.5 2272.2L1444.0 2268.8L1444.5 2268.2L1443.0 2266.8L1442.0 2264.8L1442.5 2263.8L1440.8 2262.0L1440.2 2262.0L1439.0 2263.2L1439.5 2264.2L1438.5 2265.2L1439.5 2266.2L1438.5 2267.2L1439.0 2268.2L1438.0 2269.2L1438.5 2269.8L1437.0 2271.2L1437.5 2271.8L1437.0 2272.8L1438.0 2273.8L1437.0 2274.8L1437.5 2275.2L1437.0 2275.8L1437.5 2276.2L1437.0 2276.8L1437.5 2277.8L1437.0 2278.8L1437.5 2279.2L1436.5 2280.8L1437.0 2281.8L1436.0 2282.8L1436.5 2283.2L1436.0 2284.2L1437.5 2286.2L1437.0 2286.8L1437.5 2287.2L1437.0 2287.8L1438.0 2289.2L1437.5 2290.2L1438.0 2290.8L1437.5 2291.2L1439.0 2293.8L1438.5 2294.8L1439.5 2296.2L1439.0 2296.8L1439.5 2297.2L1439.0 2297.8L1442.2 2300.0L1444.5 2300.2ZM815.0 2378.8L815.8 2378.0L817.0 2377.8L816.5 2377.2L817.0 2376.2L819.5 2373.2L819.0 2372.8L820.5 2371.2L819.5 2369.8L820.5 2368.8L819.5 2367.8L821.0 2366.2L820.0 2365.2L821.5 2363.2L820.5 2362.2L822.0 2360.8L822.0 2360.2L820.5 2358.8L822.5 2356.8L820.5 2354.8L822.5 2352.8L822.5 2352.2L820.0 2349.8L824.0 2345.8L823.8 2345.0L819.8 2349.0L818.8 2348.0L816.8 2350.0L816.2 2349.5L814.0 2351.8L814.5 2352.8L813.5 2353.8L814.0 2354.2L813.0 2355.2L813.5 2355.8L811.5 2358.2L812.0 2359.2L810.5 2361.2L811.0 2361.8L809.5 2363.2L810.0 2364.2L809.5 2365.2L811.0 2366.8L810.5 2367.2L811.0 2368.2L810.5 2368.8L811.0 2369.2L810.5 2369.8L811.5 2371.8L811.0 2372.2L812.0 2374.2L811.5 2374.8L812.0 2375.8L811.5 2376.2L812.5 2377.2L812.0 2377.8L812.8 2379.0L813.2 2378.5L814.2 2379.0L815.0 2378.8ZM1139.5 2378.8L1140.0 2377.8L1139.5 2377.2L1141.0 2375.2L1140.5 2374.2L1141.0 2373.8L1140.5 2372.8L1141.0 2372.2L1140.5 2371.8L1141.5 2370.2L1141.0 2369.2L1141.5 2368.8L1141.0 2368.2L1142.0 2367.2L1141.5 2366.8L1142.5 2365.8L1142.5 2364.8L1142.0 2364.2L1142.5 2363.2L1141.0 2361.8L1141.5 2361.2L1140.0 2359.2L1140.5 2358.2L1138.5 2355.8L1139.0 2354.8L1137.5 2352.8L1138.5 2351.8L1135.8 2350.0L1133.8 2348.0L1132.2 2349.0L1128.2 2345.0L1128.0 2345.8L1132.0 2349.8L1129.5 2352.2L1129.5 2352.8L1131.5 2354.8L1130.0 2356.2L1130.0 2356.8L1132.0 2358.8L1130.0 2360.8L1131.5 2362.2L1130.5 2363.2L1132.5 2365.2L1131.5 2366.8L1132.5 2367.8L1132.0 2368.8L1133.0 2369.8L1131.5 2371.2L1133.0 2372.8L1132.5 2373.2L1135.0 2376.2L1135.5 2377.2L1135.0 2377.8L1135.2 2378.0L1136.2 2378.0L1137.2 2379.0L1138.2 2378.5L1139.5 2378.8ZM976.5 2566.2L986.5 2555.8L987.0 2553.8L989.0 2549.8L991.0 2547.8L992.0 2544.8L994.0 2542.8L993.5 2542.2L999.0 2535.2L999.0 2534.8L997.0 2532.8L998.0 2531.8L997.0 2530.2L998.0 2529.2L997.0 2528.2L998.0 2527.2L997.0 2526.2L997.5 2525.8L997.5 2524.8L997.0 2524.2L998.0 2523.2L997.0 2522.2L997.5 2521.8L997.0 2520.8L998.5 2519.2L997.5 2518.2L998.5 2517.2L997.0 2515.8L998.0 2514.8L997.0 2513.8L997.5 2513.2L997.0 2512.2L998.0 2511.2L997.0 2510.2L998.0 2508.8L997.0 2507.8L998.0 2506.8L997.0 2505.8L998.0 2504.2L997.0 2503.2L999.0 2501.2L999.0 2500.8L997.5 2499.2L998.5 2498.2L996.0 2495.8L997.0 2494.8L995.5 2493.2L995.5 2492.2L994.5 2491.2L995.5 2489.8L994.0 2488.2L994.5 2487.8L993.0 2486.2L993.5 2485.2L992.0 2483.8L993.0 2482.2L991.5 2480.8L993.0 2478.8L991.0 2476.8L991.5 2475.8L989.0 2473.2L989.5 2472.2L985.5 2467.8L987.5 2465.8L981.5 2459.2L982.5 2458.2L979.0 2454.8L979.5 2453.8L976.2 2450.5L972.5 2454.2L973.0 2454.8L969.5 2458.2L970.5 2459.2L964.5 2465.8L966.5 2467.8L964.5 2469.8L965.0 2470.2L963.0 2472.2L963.5 2473.2L960.5 2476.2L961.0 2476.8L959.0 2478.8L959.0 2479.2L960.5 2480.8L959.0 2482.2L960.0 2483.8L958.5 2485.2L959.5 2486.2L956.5 2489.8L957.5 2491.2L956.5 2492.2L957.0 2493.2L955.5 2494.8L956.0 2495.8L953.5 2498.2L954.5 2499.2L953.0 2500.8L953.0 2501.2L955.0 2503.2L954.0 2504.8L955.0 2505.8L954.5 2506.8L955.5 2507.8L954.5 2508.8L954.5 2509.8L955.0 2510.2L954.5 2511.2L955.5 2512.2L954.5 2513.2L955.0 2513.8L954.5 2514.8L955.0 2515.8L954.0 2516.8L954.0 2517.8L954.5 2518.2L954.0 2518.8L954.0 2519.8L955.0 2520.8L954.5 2521.2L955.0 2522.2L954.0 2523.2L955.0 2524.2L954.5 2524.8L954.5 2525.8L955.0 2526.2L954.0 2527.2L955.0 2528.2L954.0 2529.2L955.0 2530.2L954.0 2531.8L955.0 2532.8L953.0 2534.8L953.0 2535.2L958.5 2542.2L958.0 2542.8L960.0 2544.8L960.5 2546.2L961.5 2547.2L961.0 2547.8L963.0 2549.8L964.0 2552.2L965.5 2553.8L965.0 2554.8L966.5 2556.2L966.5 2556.8L975.8 2566.5L976.5 2566.2Z" fill="#000"/>
<path d="M248.0 62.5H1698.5V1193.3H248.0ZM248.0 1506.8H1698.5V2637.6H248.0Z" fill="none" stroke="#000" stroke-width="6.0" stroke-linejoin="miter"/>
<path d="M358.2 1193.3v-16.5M358.2 62.5v16.5M581.7 1193.3v-16.5M581.7 62.5v16.5M805.1 1193.3v-16.5M805.1 62.5v16.5M1028.5 1193.3v-16.5M1028.5 62.5v16.5M1252.0 1193.3v-16.5M1252.0 62.5v16.5M1475.5 1193.3v-16.5M1475.5 62.5v16.5M248.0 1050.7h16.5M1698.5 1050.7h-16.5M248.0 909.4h16.5M1698.5 909.4h-16.5M248.0 768.1h16.5M1698.5 768.1h-16.5M248.0 626.8h16.5M1698.5 626.8h-16.5M248.0 485.5h16.5M1698.5 485.5h-16.5M248.0 344.2h16.5M1698.5 344.2h-16.5M248.0 202.9h16.5M1698.5 202.9h-16.5M358.2 2637.6v-16.5M358.2 1506.8v16.5M581.7 2637.6v-16.5M581.7 1506.8v16.5M805.1 2637.6v-16.5M805.1 1506.8v16.5M1028.5 2637.6v-16.5M1028.5 1506.8v16.5M1252.0 2637.6v-16.5M1252.0 1506.8v16.5M1475.5 2637.6v-16.5M1475.5 1506.8v16.5M248.0 2495.0h16.5M1698.5 2495.0h-16.5M248.0 2353.7h16.5M1698.5 2353.7h-16.5M248.0 2212.4h16.5M1698.5 2212.4h-16.5M248.0 2071.1h16.5M1698.5 2071.1h-16.5M248.0 1929.8h16.5M1698.5 1929.8h-16.5M248.0 1788.5h16.5M1698.5 1788.5h-16.5M248.0 1647.2h16.5M1698.5 1647.2h-16.5" fill="none" stroke="#000" stroke-width="7.0" stroke-linecap="butt"/>
<text class="t" transform="translate(144.00 1214.19) scale(1.0 1.03)">0.8</text><text class="t" transform="translate(105.07 1210.95) scale(1.078 0.82)">−</text><text class="t" transform="translate(144.34 1072.89) scale(1.0 1.03)">0.6</text><text class="t" transform="translate(105.41 1069.65) scale(1.078 0.82)">−</text><text class="t" transform="translate(142.38 931.59) scale(1.0 1.03)">0.4</text><text class="t" transform="translate(103.45 928.35) scale(1.078 0.82)">−</text><text class="t" transform="translate(144.59 790.29) scale(1.0 1.03)">0.2</text><text class="t" transform="translate(105.66 787.05) scale(1.078 0.82)">−</text><text class="t" transform="translate(198.03 648.99) scale(1.0 1.03)">0</text><text class="t" transform="translate(144.59 507.69) scale(1.0 1.03)">0.2</text><text class="t" transform="translate(142.38 366.39) scale(1.0 1.03)">0.4</text><text class="t" transform="translate(144.34 225.09) scale(1.0 1.03)">0.6</text><text class="t" transform="translate(144.00 83.79) scale(1.0 1.03)">0.8</text><text class="t" transform="translate(342.08 1263.51) scale(1.0 1.03)">2</text><text class="t" transform="translate(302.83 1259.95) scale(1.078 0.82)">−</text><text class="t" transform="translate(537.54 1262.85) scale(1.0 1.03)">1.5</text><text class="t" transform="translate(500.11 1259.95) scale(1.078 0.82)">−</text><text class="t" transform="translate(787.68 1263.18) scale(1.0 1.03)">1</text><text class="t" transform="translate(750.25 1259.95) scale(1.078 0.82)">−</text><text class="t" transform="translate(985.19 1263.19) scale(1.0 1.03)">0.5</text><text class="t" transform="translate(946.26 1259.95) scale(1.078 0.82)">−</text><text class="t" transform="translate(1235.75 1263.19) scale(1.0 1.03)">0</text><text class="t" transform="translate(1432.09 1263.19) scale(1.0 1.03)">0.5</text><text class="t" transform="translate(1681.48 1263.18) scale(1.0 1.03)">1</text><text class="l" transform="translate(887.22 1337.50) scale(1.0 1.04)">Re(x)</text><text class="l" transform="translate(90.6 631.4) rotate(-90)" text-anchor="middle">Im(x)</text><text class="p" transform="translate(283.33 157.21) scale(0.8977 0.8254)">(</text><text class="p" transform="translate(318.48 166.57) scale(0.7339 0.8506)">a</text><text class="p" transform="translate(369.69 157.21) scale(0.8788 0.8254)">)</text>
<text class="t" transform="translate(144.00 2658.49) scale(1.0 1.03)">0.8</text><text class="t" transform="translate(105.07 2655.25) scale(1.078 0.82)">−</text><text class="t" transform="translate(144.34 2517.19) scale(1.0 1.03)">0.6</text><text class="t" transform="translate(105.41 2513.95) scale(1.078 0.82)">−</text><text class="t" transform="translate(142.38 2375.89) scale(1.0 1.03)">0.4</text><text class="t" transform="translate(103.45 2372.65) scale(1.078 0.82)">−</text><text class="t" transform="translate(144.59 2234.59) scale(1.0 1.03)">0.2</text><text class="t" transform="translate(105.66 2231.35) scale(1.078 0.82)">−</text><text class="t" transform="translate(198.03 2093.29) scale(1.0 1.03)">0</text><text class="t" transform="translate(144.59 1951.99) scale(1.0 1.03)">0.2</text><text class="t" transform="translate(142.38 1810.69) scale(1.0 1.03)">0.4</text><text class="t" transform="translate(144.34 1669.39) scale(1.0 1.03)">0.6</text><text class="t" transform="translate(144.00 1528.09) scale(1.0 1.03)">0.8</text><text class="t" transform="translate(342.08 2707.81) scale(1.0 1.03)">2</text><text class="t" transform="translate(302.83 2704.25) scale(1.078 0.82)">−</text><text class="t" transform="translate(537.54 2707.15) scale(1.0 1.03)">1.5</text><text class="t" transform="translate(500.11 2704.25) scale(1.078 0.82)">−</text><text class="t" transform="translate(787.68 2707.48) scale(1.0 1.03)">1</text><text class="t" transform="translate(750.25 2704.25) scale(1.078 0.82)">−</text><text class="t" transform="translate(985.19 2707.49) scale(1.0 1.03)">0.5</text><text class="t" transform="translate(946.26 2704.25) scale(1.078 0.82)">−</text><text class="t" transform="translate(1235.75 2707.49) scale(1.0 1.03)">0</text><text class="t" transform="translate(1432.09 2707.49) scale(1.0 1.03)">0.5</text><text class="t" transform="translate(1681.48 2707.48) scale(1.0 1.03)">1</text><text class="l" transform="translate(887.22 2781.80) scale(1.0 1.04)">Re(x)</text><text class="l" transform="translate(90.6 2075.7) rotate(-90)" text-anchor="middle">Im(x)</text><text class="p" transform="translate(289.85 1601.10) scale(0.8788 0.8308)">(</text><text class="p" transform="translate(324.10 1611.40) scale(0.8383 0.9246)">b</text><text class="p" transform="translate(377.08 1601.10) scale(0.8826 0.8308)">)</text>
</svg></body></html>
